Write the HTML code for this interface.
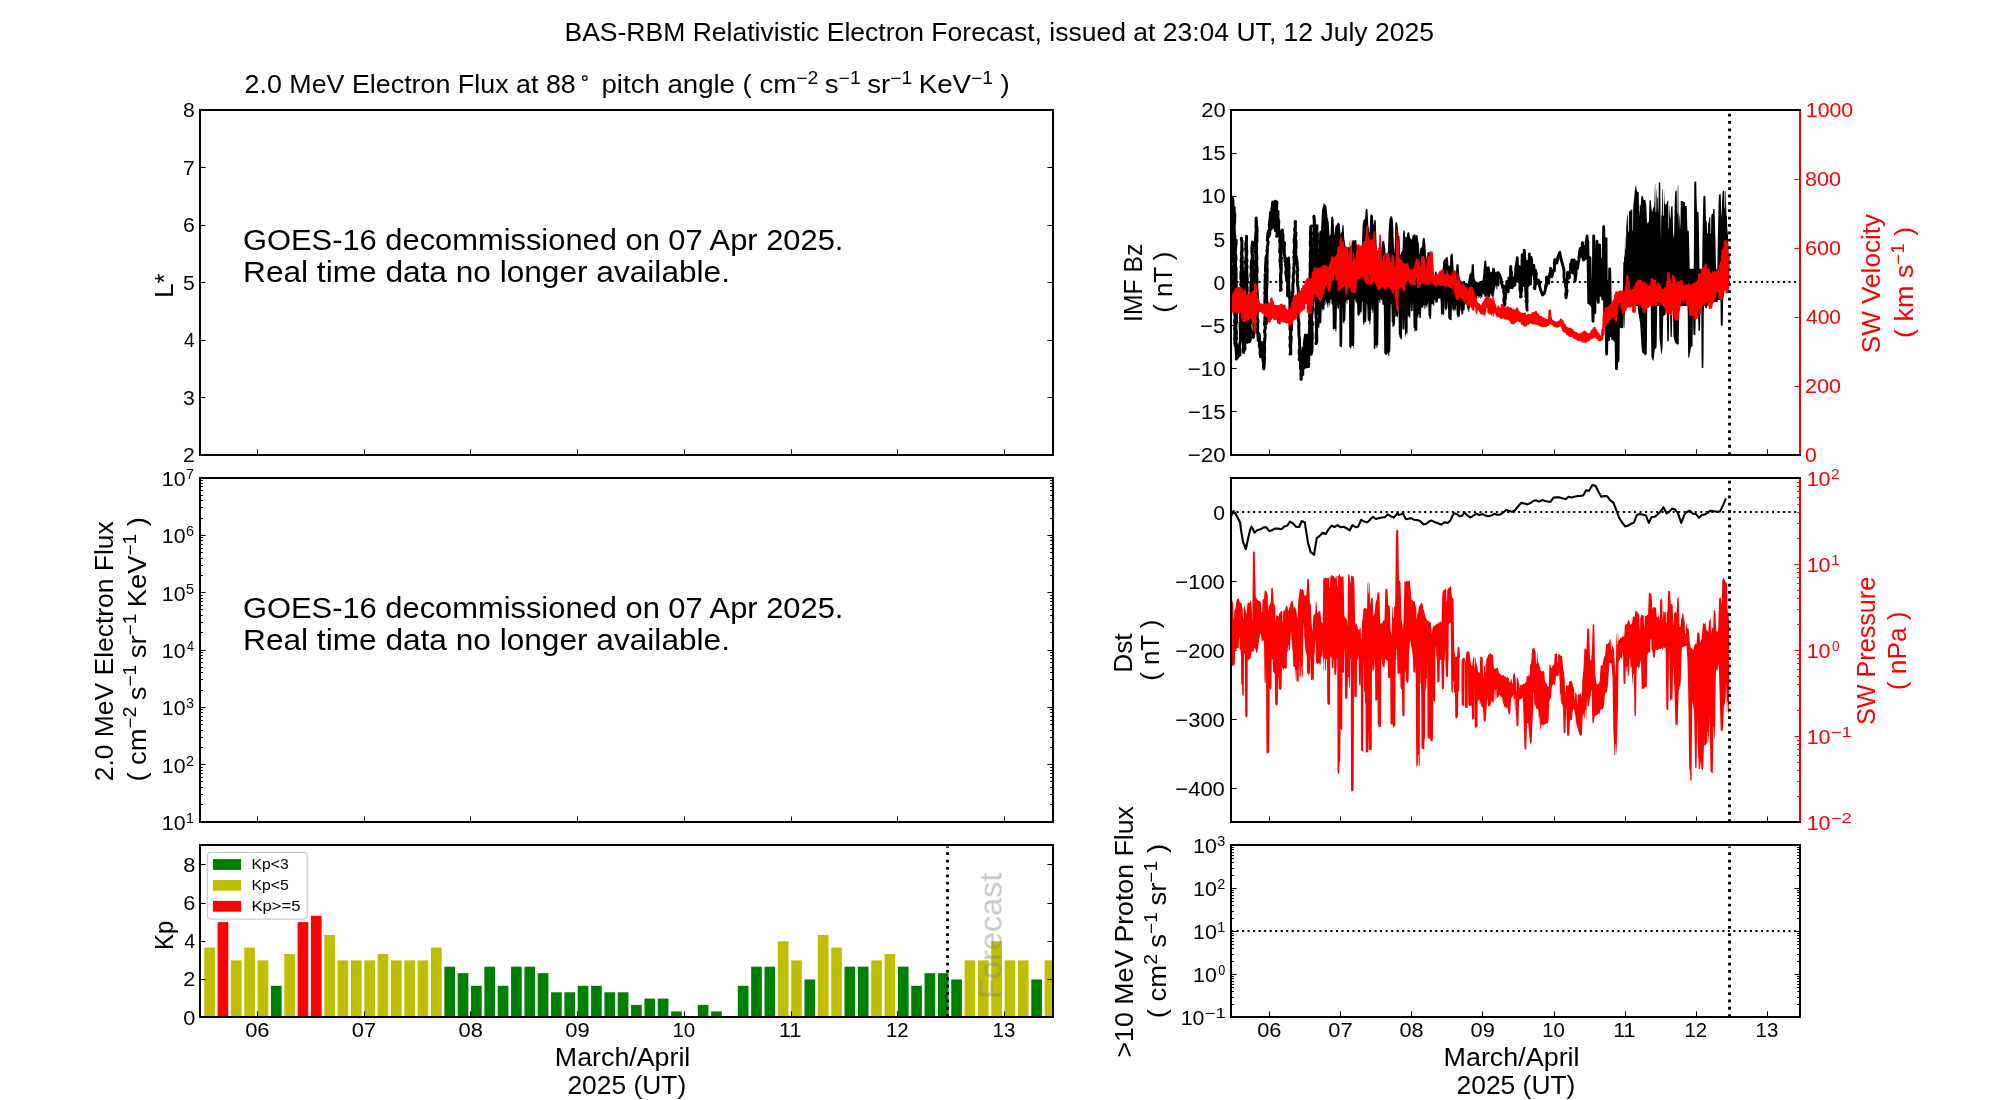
<!DOCTYPE html>
<html><head><meta charset="utf-8"><title>BAS-RBM Relativistic Electron Forecast</title>
<style>html,body{margin:0;padding:0;background:#fff}svg{display:block;font-family:"Liberation Sans", sans-serif}</style></head>
<body><svg width="2000" height="1100" viewBox="0 0 2000 1100">
<rect width="2000" height="1100" fill="#fff"/>
<circle cx="584.8" cy="78.0" r="2.25" fill="none" stroke="#000" stroke-width="1.25"/>
<line x1="1053.00" y1="110.00" x2="1053.00" y2="456.00" stroke="#000" stroke-width="2"/>
<path d="M1054,110 H200 V455 H1054" fill="none" stroke="#000" stroke-width="2" stroke-linejoin="miter"/>
<line x1="257.50" y1="455.00" x2="257.50" y2="449.44" stroke="#000" stroke-width="1.0"/>
<line x1="364.50" y1="455.00" x2="364.50" y2="449.44" stroke="#000" stroke-width="1.0"/>
<line x1="470.50" y1="455.00" x2="470.50" y2="449.44" stroke="#000" stroke-width="1.0"/>
<line x1="577.50" y1="455.00" x2="577.50" y2="449.44" stroke="#000" stroke-width="1.0"/>
<line x1="684.50" y1="455.00" x2="684.50" y2="449.44" stroke="#000" stroke-width="1.0"/>
<line x1="791.50" y1="455.00" x2="791.50" y2="449.44" stroke="#000" stroke-width="1.0"/>
<line x1="897.50" y1="455.00" x2="897.50" y2="449.44" stroke="#000" stroke-width="1.0"/>
<line x1="1004.50" y1="455.00" x2="1004.50" y2="449.44" stroke="#000" stroke-width="1.0"/>
<line x1="200.00" y1="167.50" x2="205.56" y2="167.50" stroke="#000" stroke-width="1.0"/>
<line x1="1053.00" y1="167.50" x2="1047.44" y2="167.50" stroke="#000" stroke-width="1.0"/>
<line x1="200.00" y1="225.50" x2="205.56" y2="225.50" stroke="#000" stroke-width="1.0"/>
<line x1="1053.00" y1="225.50" x2="1047.44" y2="225.50" stroke="#000" stroke-width="1.0"/>
<line x1="200.00" y1="282.50" x2="205.56" y2="282.50" stroke="#000" stroke-width="1.0"/>
<line x1="1053.00" y1="282.50" x2="1047.44" y2="282.50" stroke="#000" stroke-width="1.0"/>
<line x1="200.00" y1="340.50" x2="205.56" y2="340.50" stroke="#000" stroke-width="1.0"/>
<line x1="1053.00" y1="340.50" x2="1047.44" y2="340.50" stroke="#000" stroke-width="1.0"/>
<line x1="200.00" y1="397.50" x2="205.56" y2="397.50" stroke="#000" stroke-width="1.0"/>
<line x1="1053.00" y1="397.50" x2="1047.44" y2="397.50" stroke="#000" stroke-width="1.0"/>
<line x1="1053.00" y1="478.00" x2="1053.00" y2="823.00" stroke="#000" stroke-width="2"/>
<path d="M1054,478 H200 V822 H1054" fill="none" stroke="#000" stroke-width="2" stroke-linejoin="miter"/>
<line x1="257.50" y1="822.00" x2="257.50" y2="816.44" stroke="#000" stroke-width="1.0"/>
<line x1="364.50" y1="822.00" x2="364.50" y2="816.44" stroke="#000" stroke-width="1.0"/>
<line x1="470.50" y1="822.00" x2="470.50" y2="816.44" stroke="#000" stroke-width="1.0"/>
<line x1="577.50" y1="822.00" x2="577.50" y2="816.44" stroke="#000" stroke-width="1.0"/>
<line x1="684.50" y1="822.00" x2="684.50" y2="816.44" stroke="#000" stroke-width="1.0"/>
<line x1="791.50" y1="822.00" x2="791.50" y2="816.44" stroke="#000" stroke-width="1.0"/>
<line x1="897.50" y1="822.00" x2="897.50" y2="816.44" stroke="#000" stroke-width="1.0"/>
<line x1="1004.50" y1="822.00" x2="1004.50" y2="816.44" stroke="#000" stroke-width="1.0"/>
<line x1="200.00" y1="804.50" x2="202.90" y2="804.50" stroke="#000" stroke-width="1.0"/>
<line x1="1053.00" y1="804.50" x2="1050.10" y2="804.50" stroke="#000" stroke-width="1.0"/>
<line x1="200.00" y1="794.50" x2="202.90" y2="794.50" stroke="#000" stroke-width="1.0"/>
<line x1="1053.00" y1="794.50" x2="1050.10" y2="794.50" stroke="#000" stroke-width="1.0"/>
<line x1="200.00" y1="787.50" x2="202.90" y2="787.50" stroke="#000" stroke-width="1.0"/>
<line x1="1053.00" y1="787.50" x2="1050.10" y2="787.50" stroke="#000" stroke-width="1.0"/>
<line x1="200.00" y1="781.50" x2="202.90" y2="781.50" stroke="#000" stroke-width="1.0"/>
<line x1="1053.00" y1="781.50" x2="1050.10" y2="781.50" stroke="#000" stroke-width="1.0"/>
<line x1="200.00" y1="777.50" x2="202.90" y2="777.50" stroke="#000" stroke-width="1.0"/>
<line x1="1053.00" y1="777.50" x2="1050.10" y2="777.50" stroke="#000" stroke-width="1.0"/>
<line x1="200.00" y1="773.50" x2="202.90" y2="773.50" stroke="#000" stroke-width="1.0"/>
<line x1="1053.00" y1="773.50" x2="1050.10" y2="773.50" stroke="#000" stroke-width="1.0"/>
<line x1="200.00" y1="770.50" x2="202.90" y2="770.50" stroke="#000" stroke-width="1.0"/>
<line x1="1053.00" y1="770.50" x2="1050.10" y2="770.50" stroke="#000" stroke-width="1.0"/>
<line x1="200.00" y1="767.50" x2="202.90" y2="767.50" stroke="#000" stroke-width="1.0"/>
<line x1="1053.00" y1="767.50" x2="1050.10" y2="767.50" stroke="#000" stroke-width="1.0"/>
<line x1="200.00" y1="764.50" x2="205.56" y2="764.50" stroke="#000" stroke-width="1.0"/>
<line x1="1053.00" y1="764.50" x2="1047.44" y2="764.50" stroke="#000" stroke-width="1.0"/>
<line x1="200.00" y1="747.50" x2="202.90" y2="747.50" stroke="#000" stroke-width="1.0"/>
<line x1="1053.00" y1="747.50" x2="1050.10" y2="747.50" stroke="#000" stroke-width="1.0"/>
<line x1="200.00" y1="737.50" x2="202.90" y2="737.50" stroke="#000" stroke-width="1.0"/>
<line x1="1053.00" y1="737.50" x2="1050.10" y2="737.50" stroke="#000" stroke-width="1.0"/>
<line x1="200.00" y1="730.50" x2="202.90" y2="730.50" stroke="#000" stroke-width="1.0"/>
<line x1="1053.00" y1="730.50" x2="1050.10" y2="730.50" stroke="#000" stroke-width="1.0"/>
<line x1="200.00" y1="724.50" x2="202.90" y2="724.50" stroke="#000" stroke-width="1.0"/>
<line x1="1053.00" y1="724.50" x2="1050.10" y2="724.50" stroke="#000" stroke-width="1.0"/>
<line x1="200.00" y1="720.50" x2="202.90" y2="720.50" stroke="#000" stroke-width="1.0"/>
<line x1="1053.00" y1="720.50" x2="1050.10" y2="720.50" stroke="#000" stroke-width="1.0"/>
<line x1="200.00" y1="716.50" x2="202.90" y2="716.50" stroke="#000" stroke-width="1.0"/>
<line x1="1053.00" y1="716.50" x2="1050.10" y2="716.50" stroke="#000" stroke-width="1.0"/>
<line x1="200.00" y1="712.50" x2="202.90" y2="712.50" stroke="#000" stroke-width="1.0"/>
<line x1="1053.00" y1="712.50" x2="1050.10" y2="712.50" stroke="#000" stroke-width="1.0"/>
<line x1="200.00" y1="709.50" x2="202.90" y2="709.50" stroke="#000" stroke-width="1.0"/>
<line x1="1053.00" y1="709.50" x2="1050.10" y2="709.50" stroke="#000" stroke-width="1.0"/>
<line x1="200.00" y1="707.50" x2="205.56" y2="707.50" stroke="#000" stroke-width="1.0"/>
<line x1="1053.00" y1="707.50" x2="1047.44" y2="707.50" stroke="#000" stroke-width="1.0"/>
<line x1="200.00" y1="690.50" x2="202.90" y2="690.50" stroke="#000" stroke-width="1.0"/>
<line x1="1053.00" y1="690.50" x2="1050.10" y2="690.50" stroke="#000" stroke-width="1.0"/>
<line x1="200.00" y1="679.50" x2="202.90" y2="679.50" stroke="#000" stroke-width="1.0"/>
<line x1="1053.00" y1="679.50" x2="1050.10" y2="679.50" stroke="#000" stroke-width="1.0"/>
<line x1="200.00" y1="672.50" x2="202.90" y2="672.50" stroke="#000" stroke-width="1.0"/>
<line x1="1053.00" y1="672.50" x2="1050.10" y2="672.50" stroke="#000" stroke-width="1.0"/>
<line x1="200.00" y1="667.50" x2="202.90" y2="667.50" stroke="#000" stroke-width="1.0"/>
<line x1="1053.00" y1="667.50" x2="1050.10" y2="667.50" stroke="#000" stroke-width="1.0"/>
<line x1="200.00" y1="662.50" x2="202.90" y2="662.50" stroke="#000" stroke-width="1.0"/>
<line x1="1053.00" y1="662.50" x2="1050.10" y2="662.50" stroke="#000" stroke-width="1.0"/>
<line x1="200.00" y1="658.50" x2="202.90" y2="658.50" stroke="#000" stroke-width="1.0"/>
<line x1="1053.00" y1="658.50" x2="1050.10" y2="658.50" stroke="#000" stroke-width="1.0"/>
<line x1="200.00" y1="655.50" x2="202.90" y2="655.50" stroke="#000" stroke-width="1.0"/>
<line x1="1053.00" y1="655.50" x2="1050.10" y2="655.50" stroke="#000" stroke-width="1.0"/>
<line x1="200.00" y1="652.50" x2="202.90" y2="652.50" stroke="#000" stroke-width="1.0"/>
<line x1="1053.00" y1="652.50" x2="1050.10" y2="652.50" stroke="#000" stroke-width="1.0"/>
<line x1="200.00" y1="650.50" x2="205.56" y2="650.50" stroke="#000" stroke-width="1.0"/>
<line x1="1053.00" y1="650.50" x2="1047.44" y2="650.50" stroke="#000" stroke-width="1.0"/>
<line x1="200.00" y1="632.50" x2="202.90" y2="632.50" stroke="#000" stroke-width="1.0"/>
<line x1="1053.00" y1="632.50" x2="1050.10" y2="632.50" stroke="#000" stroke-width="1.0"/>
<line x1="200.00" y1="622.50" x2="202.90" y2="622.50" stroke="#000" stroke-width="1.0"/>
<line x1="1053.00" y1="622.50" x2="1050.10" y2="622.50" stroke="#000" stroke-width="1.0"/>
<line x1="200.00" y1="615.50" x2="202.90" y2="615.50" stroke="#000" stroke-width="1.0"/>
<line x1="1053.00" y1="615.50" x2="1050.10" y2="615.50" stroke="#000" stroke-width="1.0"/>
<line x1="200.00" y1="609.50" x2="202.90" y2="609.50" stroke="#000" stroke-width="1.0"/>
<line x1="1053.00" y1="609.50" x2="1050.10" y2="609.50" stroke="#000" stroke-width="1.0"/>
<line x1="200.00" y1="605.50" x2="202.90" y2="605.50" stroke="#000" stroke-width="1.0"/>
<line x1="1053.00" y1="605.50" x2="1050.10" y2="605.50" stroke="#000" stroke-width="1.0"/>
<line x1="200.00" y1="601.50" x2="202.90" y2="601.50" stroke="#000" stroke-width="1.0"/>
<line x1="1053.00" y1="601.50" x2="1050.10" y2="601.50" stroke="#000" stroke-width="1.0"/>
<line x1="200.00" y1="598.50" x2="202.90" y2="598.50" stroke="#000" stroke-width="1.0"/>
<line x1="1053.00" y1="598.50" x2="1050.10" y2="598.50" stroke="#000" stroke-width="1.0"/>
<line x1="200.00" y1="595.50" x2="202.90" y2="595.50" stroke="#000" stroke-width="1.0"/>
<line x1="1053.00" y1="595.50" x2="1050.10" y2="595.50" stroke="#000" stroke-width="1.0"/>
<line x1="200.00" y1="592.50" x2="205.56" y2="592.50" stroke="#000" stroke-width="1.0"/>
<line x1="1053.00" y1="592.50" x2="1047.44" y2="592.50" stroke="#000" stroke-width="1.0"/>
<line x1="200.00" y1="575.50" x2="202.90" y2="575.50" stroke="#000" stroke-width="1.0"/>
<line x1="1053.00" y1="575.50" x2="1050.10" y2="575.50" stroke="#000" stroke-width="1.0"/>
<line x1="200.00" y1="565.50" x2="202.90" y2="565.50" stroke="#000" stroke-width="1.0"/>
<line x1="1053.00" y1="565.50" x2="1050.10" y2="565.50" stroke="#000" stroke-width="1.0"/>
<line x1="200.00" y1="558.50" x2="202.90" y2="558.50" stroke="#000" stroke-width="1.0"/>
<line x1="1053.00" y1="558.50" x2="1050.10" y2="558.50" stroke="#000" stroke-width="1.0"/>
<line x1="200.00" y1="552.50" x2="202.90" y2="552.50" stroke="#000" stroke-width="1.0"/>
<line x1="1053.00" y1="552.50" x2="1050.10" y2="552.50" stroke="#000" stroke-width="1.0"/>
<line x1="200.00" y1="548.50" x2="202.90" y2="548.50" stroke="#000" stroke-width="1.0"/>
<line x1="1053.00" y1="548.50" x2="1050.10" y2="548.50" stroke="#000" stroke-width="1.0"/>
<line x1="200.00" y1="544.50" x2="202.90" y2="544.50" stroke="#000" stroke-width="1.0"/>
<line x1="1053.00" y1="544.50" x2="1050.10" y2="544.50" stroke="#000" stroke-width="1.0"/>
<line x1="200.00" y1="540.50" x2="202.90" y2="540.50" stroke="#000" stroke-width="1.0"/>
<line x1="1053.00" y1="540.50" x2="1050.10" y2="540.50" stroke="#000" stroke-width="1.0"/>
<line x1="200.00" y1="537.50" x2="202.90" y2="537.50" stroke="#000" stroke-width="1.0"/>
<line x1="1053.00" y1="537.50" x2="1050.10" y2="537.50" stroke="#000" stroke-width="1.0"/>
<line x1="200.00" y1="535.50" x2="205.56" y2="535.50" stroke="#000" stroke-width="1.0"/>
<line x1="1053.00" y1="535.50" x2="1047.44" y2="535.50" stroke="#000" stroke-width="1.0"/>
<line x1="200.00" y1="518.50" x2="202.90" y2="518.50" stroke="#000" stroke-width="1.0"/>
<line x1="1053.00" y1="518.50" x2="1050.10" y2="518.50" stroke="#000" stroke-width="1.0"/>
<line x1="200.00" y1="507.50" x2="202.90" y2="507.50" stroke="#000" stroke-width="1.0"/>
<line x1="1053.00" y1="507.50" x2="1050.10" y2="507.50" stroke="#000" stroke-width="1.0"/>
<line x1="200.00" y1="500.50" x2="202.90" y2="500.50" stroke="#000" stroke-width="1.0"/>
<line x1="1053.00" y1="500.50" x2="1050.10" y2="500.50" stroke="#000" stroke-width="1.0"/>
<line x1="200.00" y1="495.50" x2="202.90" y2="495.50" stroke="#000" stroke-width="1.0"/>
<line x1="1053.00" y1="495.50" x2="1050.10" y2="495.50" stroke="#000" stroke-width="1.0"/>
<line x1="200.00" y1="490.50" x2="202.90" y2="490.50" stroke="#000" stroke-width="1.0"/>
<line x1="1053.00" y1="490.50" x2="1050.10" y2="490.50" stroke="#000" stroke-width="1.0"/>
<line x1="200.00" y1="486.50" x2="202.90" y2="486.50" stroke="#000" stroke-width="1.0"/>
<line x1="1053.00" y1="486.50" x2="1050.10" y2="486.50" stroke="#000" stroke-width="1.0"/>
<line x1="200.00" y1="483.50" x2="202.90" y2="483.50" stroke="#000" stroke-width="1.0"/>
<line x1="1053.00" y1="483.50" x2="1050.10" y2="483.50" stroke="#000" stroke-width="1.0"/>
<line x1="200.00" y1="480.50" x2="202.90" y2="480.50" stroke="#000" stroke-width="1.0"/>
<line x1="1053.00" y1="480.50" x2="1050.10" y2="480.50" stroke="#000" stroke-width="1.0"/>
<clipPath id="ck"><rect x="200" y="845" width="853" height="172"/></clipPath><g clip-path="url(#ck)">
<rect x="204.25" y="947.57" width="10.67" height="70.13" fill="#bfbf00"/>
<rect x="217.59" y="922.15" width="10.67" height="95.55" fill="#ff0000"/>
<rect x="230.93" y="960.37" width="10.67" height="57.33" fill="#bfbf00"/>
<rect x="244.27" y="947.57" width="10.67" height="70.13" fill="#bfbf00"/>
<rect x="257.61" y="960.37" width="10.67" height="57.33" fill="#bfbf00"/>
<rect x="270.94" y="985.79" width="10.67" height="31.91" fill="#008000"/>
<rect x="284.28" y="954.06" width="10.67" height="63.64" fill="#bfbf00"/>
<rect x="297.62" y="922.15" width="10.67" height="95.55" fill="#ff0000"/>
<rect x="310.96" y="915.84" width="10.67" height="101.86" fill="#ff0000"/>
<rect x="324.30" y="934.95" width="10.67" height="82.75" fill="#bfbf00"/>
<rect x="337.64" y="960.37" width="10.67" height="57.33" fill="#bfbf00"/>
<rect x="350.98" y="960.37" width="10.67" height="57.33" fill="#bfbf00"/>
<rect x="364.32" y="960.37" width="10.67" height="57.33" fill="#bfbf00"/>
<rect x="377.66" y="954.06" width="10.67" height="63.64" fill="#bfbf00"/>
<rect x="391.00" y="960.37" width="10.67" height="57.33" fill="#bfbf00"/>
<rect x="404.34" y="960.37" width="10.67" height="57.33" fill="#bfbf00"/>
<rect x="417.67" y="960.37" width="10.67" height="57.33" fill="#bfbf00"/>
<rect x="431.01" y="947.57" width="10.67" height="70.13" fill="#bfbf00"/>
<rect x="444.35" y="966.68" width="10.67" height="51.02" fill="#008000"/>
<rect x="457.69" y="973.17" width="10.67" height="44.53" fill="#008000"/>
<rect x="471.03" y="985.79" width="10.67" height="31.91" fill="#008000"/>
<rect x="484.37" y="966.68" width="10.67" height="51.02" fill="#008000"/>
<rect x="497.71" y="985.79" width="10.67" height="31.91" fill="#008000"/>
<rect x="511.05" y="966.68" width="10.67" height="51.02" fill="#008000"/>
<rect x="524.39" y="966.68" width="10.67" height="51.02" fill="#008000"/>
<rect x="537.73" y="973.17" width="10.67" height="44.53" fill="#008000"/>
<rect x="551.06" y="992.28" width="10.67" height="25.42" fill="#008000"/>
<rect x="564.40" y="992.28" width="10.67" height="25.42" fill="#008000"/>
<rect x="577.74" y="985.79" width="10.67" height="31.91" fill="#008000"/>
<rect x="591.08" y="985.79" width="10.67" height="31.91" fill="#008000"/>
<rect x="604.42" y="992.28" width="10.67" height="25.42" fill="#008000"/>
<rect x="617.76" y="992.28" width="10.67" height="25.42" fill="#008000"/>
<rect x="631.10" y="1004.90" width="10.67" height="12.80" fill="#008000"/>
<rect x="644.44" y="998.59" width="10.67" height="19.11" fill="#008000"/>
<rect x="657.78" y="998.59" width="10.67" height="19.11" fill="#008000"/>
<rect x="671.12" y="1011.39" width="10.67" height="6.31" fill="#008000"/>
<rect x="697.79" y="1004.90" width="10.67" height="12.80" fill="#008000"/>
<rect x="711.13" y="1011.39" width="10.67" height="6.31" fill="#008000"/>
<rect x="737.81" y="985.79" width="10.67" height="31.91" fill="#008000"/>
<rect x="751.15" y="966.68" width="10.67" height="51.02" fill="#008000"/>
<rect x="764.49" y="966.68" width="10.67" height="51.02" fill="#008000"/>
<rect x="777.83" y="941.26" width="10.67" height="76.44" fill="#bfbf00"/>
<rect x="791.17" y="960.37" width="10.67" height="57.33" fill="#bfbf00"/>
<rect x="804.50" y="979.48" width="10.67" height="38.22" fill="#008000"/>
<rect x="817.84" y="934.95" width="10.67" height="82.75" fill="#bfbf00"/>
<rect x="831.18" y="947.57" width="10.67" height="70.13" fill="#bfbf00"/>
<rect x="844.52" y="966.68" width="10.67" height="51.02" fill="#008000"/>
<rect x="857.86" y="966.68" width="10.67" height="51.02" fill="#008000"/>
<rect x="871.20" y="960.37" width="10.67" height="57.33" fill="#bfbf00"/>
<rect x="884.54" y="954.06" width="10.67" height="63.64" fill="#bfbf00"/>
<rect x="897.88" y="966.68" width="10.67" height="51.02" fill="#008000"/>
<rect x="911.22" y="985.79" width="10.67" height="31.91" fill="#008000"/>
<rect x="924.56" y="973.17" width="10.67" height="44.53" fill="#008000"/>
<rect x="937.89" y="973.17" width="10.67" height="44.53" fill="#008000"/>
<rect x="951.23" y="979.48" width="10.67" height="38.22" fill="#008000"/>
<rect x="964.57" y="960.37" width="10.67" height="57.33" fill="#bfbf00"/>
<rect x="977.91" y="960.37" width="10.67" height="57.33" fill="#bfbf00"/>
<rect x="991.25" y="941.26" width="10.67" height="76.44" fill="#bfbf00"/>
<rect x="1004.59" y="960.37" width="10.67" height="57.33" fill="#bfbf00"/>
<rect x="1017.93" y="960.37" width="10.67" height="57.33" fill="#bfbf00"/>
<rect x="1031.27" y="979.48" width="10.67" height="38.22" fill="#008000"/>
<rect x="1044.61" y="960.37" width="10.67" height="57.33" fill="#bfbf00"/>
</g>
<line x1="947.51" y1="1017.00" x2="947.51" y2="846.50" stroke="#000" stroke-width="2.9" stroke-dasharray="2.78 4.58" stroke-dashoffset="0"/>
<rect x="207.4" y="852.4" width="99.8" height="66.7" rx="3.5" ry="3.5" fill="#fff" fill-opacity="0.8" stroke="#ccc" stroke-width="1.2"/>
<rect x="212.9" y="859.10" width="28.2" height="10.8" fill="#008000"/>
<rect x="212.9" y="880.00" width="28.2" height="10.8" fill="#bfbf00"/>
<rect x="212.9" y="900.90" width="28.2" height="10.8" fill="#ff0000"/>
<line x1="1053.00" y1="845.00" x2="1053.00" y2="1018.00" stroke="#000" stroke-width="2"/>
<path d="M1054,845 H200 V1017 H1054" fill="none" stroke="#000" stroke-width="2" stroke-linejoin="miter"/>
<line x1="257.50" y1="1017.00" x2="257.50" y2="1011.44" stroke="#000" stroke-width="1.0"/>
<line x1="364.50" y1="1017.00" x2="364.50" y2="1011.44" stroke="#000" stroke-width="1.0"/>
<line x1="470.50" y1="1017.00" x2="470.50" y2="1011.44" stroke="#000" stroke-width="1.0"/>
<line x1="577.50" y1="1017.00" x2="577.50" y2="1011.44" stroke="#000" stroke-width="1.0"/>
<line x1="684.50" y1="1017.00" x2="684.50" y2="1011.44" stroke="#000" stroke-width="1.0"/>
<line x1="791.50" y1="1017.00" x2="791.50" y2="1011.44" stroke="#000" stroke-width="1.0"/>
<line x1="897.50" y1="1017.00" x2="897.50" y2="1011.44" stroke="#000" stroke-width="1.0"/>
<line x1="1004.50" y1="1017.00" x2="1004.50" y2="1011.44" stroke="#000" stroke-width="1.0"/>
<line x1="200.00" y1="979.50" x2="205.56" y2="979.50" stroke="#000" stroke-width="1.0"/>
<line x1="1053.00" y1="979.50" x2="1047.44" y2="979.50" stroke="#000" stroke-width="1.0"/>
<line x1="200.00" y1="941.50" x2="205.56" y2="941.50" stroke="#000" stroke-width="1.0"/>
<line x1="1053.00" y1="941.50" x2="1047.44" y2="941.50" stroke="#000" stroke-width="1.0"/>
<line x1="200.00" y1="903.50" x2="205.56" y2="903.50" stroke="#000" stroke-width="1.0"/>
<line x1="1053.00" y1="903.50" x2="1047.44" y2="903.50" stroke="#000" stroke-width="1.0"/>
<line x1="200.00" y1="864.50" x2="205.56" y2="864.50" stroke="#000" stroke-width="1.0"/>
<line x1="1053.00" y1="864.50" x2="1047.44" y2="864.50" stroke="#000" stroke-width="1.0"/>
<clipPath id="c1"><rect x="1231" y="110" width="499" height="345"/></clipPath>
<path d="M1231.6,197.7 L1231.6,197.1 L1231.6,201.6 L1231.7,204.5 L1231.7,207.4 L1231.9,210.6 L1231.6,212.4 L1231.4,216.4 L1231.4,215.9 L1232.3,222.8 L1232.0,222.7 L1231.5,227.6 L1231.5,228.4 L1231.6,230.8 L1231.9,233.7 L1231.9,236.9 L1232.1,236.9 L1232.0,240.1 L1231.8,242.1 L1232.5,249.0 L1232.3,248.6 L1231.9,251.3 L1231.7,255.0 L1232.4,253.9 L1232.0,260.5 L1232.6,261.4 L1231.9,258.7 L1232.7,252.1 L1232.2,254.4 L1231.9,249.3 L1232.1,246.6 L1232.0,244.0 L1232.7,246.7 L1232.0,240.8 L1232.0,238.9 L1232.8,236.4 L1232.5,234.8 L1232.2,230.4 L1232.7,227.1 L1232.2,224.4 L1232.4,223.2 L1233.1,220.6 L1233.1,216.4 L1232.4,212.7 L1232.9,214.2 L1232.4,210.9 L1232.6,207.2 L1233.1,204.1 L1232.5,203.2 L1232.5,198.6 L1233.0,201.5 L1232.8,201.0 L1232.9,208.3 L1233.1,210.4 L1232.7,211.6 L1233.4,215.3 L1232.7,216.3 L1233.3,220.8 L1233.5,222.1 L1233.5,223.8 L1232.7,226.6 L1232.7,231.2 L1233.4,232.4 L1232.9,236.1 L1233.0,235.9 L1232.9,240.2 L1232.9,242.3 L1233.3,246.6 L1233.0,246.3 L1233.7,250.5 L1233.1,253.3 L1233.3,256.4 L1233.2,258.4 L1233.4,261.6 L1233.8,264.2 L1233.9,264.5 L1233.5,266.4 L1233.1,271.1 L1233.8,273.4 L1233.7,276.2 L1233.6,278.4 L1233.5,280.8 L1234.0,282.2 L1233.1,283.7 L1233.9,287.9 L1233.8,290.4 L1234.0,291.2 L1233.5,295.0 L1234.0,295.9 L1233.6,302.1 L1233.7,295.9 L1233.8,294.8 L1233.8,295.1 L1233.3,288.2 L1234.1,285.0 L1234.0,284.3 L1233.9,285.2 L1233.7,281.4 L1234.1,278.0 L1233.4,274.6 L1233.6,272.4 L1234.1,268.9 L1234.3,268.4 L1233.7,267.1 L1234.1,263.4 L1233.6,262.4 L1234.1,261.1 L1233.9,256.8 L1234.2,252.3 L1233.7,248.2 L1234.5,249.3 L1234.4,244.1 L1233.9,244.4 L1233.7,237.6 L1234.5,238.0 L1234.3,236.6 L1233.8,232.5 L1234.1,230.2 L1234.1,228.9 L1234.3,224.0 L1234.6,222.8 L1234.7,219.7 L1233.8,217.9 L1234.7,217.4 L1234.4,213.2 L1234.1,210.1 L1234.0,207.3 L1234.3,207.8 L1234.1,207.9 L1234.0,212.0 L1234.3,213.1 L1234.5,213.5 L1234.9,215.2 L1234.6,220.5 L1234.1,224.1 L1234.0,222.7 L1234.1,227.9 L1234.2,228.7 L1234.5,234.4 L1234.6,235.1 L1234.8,236.0 L1234.9,243.0 L1234.7,244.3 L1234.1,243.0 L1234.9,248.1 L1234.4,247.2 L1234.8,251.2 L1235.0,252.9 L1234.3,258.0 L1234.8,260.9 L1234.8,260.5 L1234.3,268.4 L1235.1,265.0 L1234.7,270.3 L1235.0,271.2 L1235.0,274.6 L1234.6,278.0 L1234.7,280.2 L1234.2,280.8 L1235.0,287.5 L1234.4,288.6 L1234.5,290.2 L1234.4,291.7 L1234.7,294.5 L1234.9,294.7 L1235.2,296.3 L1234.3,302.7 L1234.5,303.8 L1235.0,307.3 L1234.9,307.1 L1234.8,312.1 L1234.6,312.9 L1235.2,319.5 L1234.5,322.3 L1234.8,319.3 L1234.9,325.6 L1234.8,329.3 L1235.0,333.9 L1234.9,333.2 L1234.8,335.6 L1234.9,335.7 L1235.1,341.7 L1234.8,343.3 L1235.4,346.1 L1234.9,341.9 L1234.6,337.5 L1235.4,338.6 L1235.0,334.6 L1235.1,333.3 L1235.4,331.7 L1234.6,329.3 L1234.7,325.2 L1234.9,324.7 L1234.9,319.4 L1235.3,316.9 L1234.7,313.7 L1234.8,312.3 L1235.2,308.5 L1235.1,307.9 L1235.2,305.4 L1235.3,303.2 L1235.4,296.9 L1235.3,296.8 L1235.6,295.1 L1235.6,294.7 L1235.7,289.2 L1235.7,288.4 L1235.0,287.9 L1235.0,282.2 L1235.1,279.5 L1235.0,276.1 L1235.7,272.4 L1235.0,273.4 L1235.3,269.6 L1235.1,266.9 L1235.6,268.0 L1235.1,260.1 L1235.5,259.7 L1235.7,255.4 L1235.2,255.3 L1235.1,252.4 L1235.6,247.7 L1235.2,246.9 L1235.3,245.4 L1236.1,244.8 L1236.1,240.0 L1236.1,242.4 L1235.6,244.7 L1235.6,245.8 L1235.7,247.8 L1235.2,253.0 L1235.9,255.2 L1235.7,256.4 L1236.0,258.8 L1235.4,262.7 L1235.8,267.8 L1236.1,267.5 L1236.0,271.1 L1235.7,270.6 L1236.0,270.5 L1236.2,277.1 L1235.6,281.9 L1236.2,281.0 L1236.2,282.2 L1236.3,289.1 L1236.1,290.1 L1235.9,289.8 L1236.2,296.1 L1236.0,298.0 L1235.5,298.6 L1236.1,304.1 L1235.8,307.0 L1235.9,306.7 L1236.2,308.3 L1236.0,311.7 L1236.6,313.5 L1236.4,315.7 L1236.6,322.1 L1236.4,322.8 L1235.9,324.6 L1235.9,327.8 L1236.1,331.0 L1236.6,333.2 L1236.3,331.2 L1236.3,337.4 L1236.8,338.4 L1235.8,340.6 L1236.4,345.2 L1236.7,347.2 L1236.0,349.3 L1236.3,352.9 L1236.5,358.6 L1236.3,359.0 L1237.5,357.5 L1237.5,355.3 L1238.2,352.5 L1238.5,350.7 L1238.3,349.8 L1238.5,352.4 L1238.9,356.0 L1239.8,351.9 L1239.8,355.1 L1240.2,349.7 L1239.4,347.0 L1240.0,342.3 L1240.5,340.7 L1240.6,339.9 L1240.4,331.4 L1240.6,333.7 L1240.4,331.9 L1240.3,329.1 L1240.1,326.9 L1240.1,323.2 L1240.5,319.2 L1240.4,316.0 L1240.7,312.6 L1240.8,313.5 L1241.3,312.0 L1240.5,306.4 L1240.5,306.6 L1241.0,300.4 L1240.8,299.1 L1241.0,299.1 L1241.1,292.6 L1240.7,289.8 L1240.8,292.4 L1241.5,286.1 L1240.7,285.1 L1241.1,281.9 L1241.3,280.4 L1240.8,277.4 L1240.9,272.9 L1241.5,269.4 L1241.2,267.6 L1241.2,266.1 L1241.7,263.7 L1241.1,260.4 L1241.8,256.5 L1241.3,253.9 L1241.5,253.0 L1241.5,253.3 L1241.8,249.3 L1241.8,245.3 L1242.0,244.3 L1241.6,239.5 L1241.4,238.2 L1241.4,239.9 L1242.0,240.7 L1241.8,245.8 L1242.3,249.1 L1242.2,251.3 L1241.7,252.6 L1242.3,258.3 L1242.0,259.5 L1242.5,262.4 L1242.1,265.6 L1242.4,268.1 L1242.8,272.2 L1242.3,270.5 L1242.8,273.9 L1242.4,278.2 L1243.0,280.4 L1242.4,281.3 L1242.5,283.6 L1242.5,288.2 L1242.3,287.1 L1242.7,291.0 L1243.0,293.7 L1243.0,296.7 L1243.1,299.5 L1242.8,302.4 L1242.8,301.0 L1243.0,305.4 L1243.2,311.3 L1243.2,312.8 L1242.5,316.7 L1243.3,318.2 L1242.5,319.0 L1243.2,321.4 L1243.2,324.6 L1243.3,328.1 L1243.1,329.7 L1242.9,330.5 L1243.6,333.7 L1243.2,335.5 L1243.4,338.7 L1243.1,338.8 L1243.5,343.1 L1243.6,344.5 L1243.6,352.4 L1243.4,344.6 L1243.4,343.9 L1243.3,339.4 L1243.3,341.0 L1243.9,339.0 L1243.3,335.0 L1243.4,332.9 L1243.3,330.0 L1243.3,326.9 L1243.2,322.9 L1243.3,319.9 L1243.2,317.5 L1244.1,317.4 L1243.2,315.2 L1243.4,312.5 L1243.5,309.0 L1243.5,304.9 L1243.5,304.2 L1244.1,302.8 L1243.7,296.7 L1243.9,296.0 L1243.7,296.9 L1243.8,289.7 L1244.0,291.0 L1243.7,286.4 L1243.6,291.9 L1243.9,291.1 L1244.1,293.3 L1244.6,297.0 L1244.3,299.7 L1244.2,302.5 L1244.1,305.5 L1244.3,305.2 L1243.9,310.7 L1244.1,313.7 L1244.7,313.0 L1244.9,317.5 L1244.2,319.5 L1244.7,322.7 L1244.0,326.7 L1244.8,325.4 L1244.1,330.3 L1244.1,335.5 L1244.6,332.1 L1244.7,339.1 L1245.0,340.0 L1244.6,346.0 L1245.1,348.4 L1244.4,350.2 L1244.8,345.3 L1245.1,343.5 L1244.6,340.9 L1244.6,339.2 L1244.8,335.8 L1245.1,332.2 L1244.5,329.8 L1245.4,329.6 L1245.3,325.9 L1244.9,323.4 L1245.2,321.2 L1245.0,320.5 L1244.6,318.7 L1244.8,313.4 L1245.2,310.7 L1245.2,309.9 L1245.0,305.2 L1245.3,304.8 L1245.0,301.7 L1245.1,300.8 L1245.7,293.8 L1245.1,292.5 L1245.6,291.6 L1244.9,288.9 L1245.5,285.7 L1245.3,282.5 L1245.7,280.4 L1245.2,278.1 L1245.1,277.0 L1245.1,274.4 L1246.0,269.1 L1245.7,268.9 L1245.9,266.1 L1245.5,261.5 L1245.7,261.8 L1246.0,257.8 L1246.3,255.6 L1246.0,250.3 L1245.5,249.2 L1246.1,248.4 L1245.6,243.4 L1246.4,243.3 L1246.5,238.8 L1246.4,236.3 L1246.6,238.0 L1246.3,241.4 L1245.9,243.3 L1246.3,242.5 L1246.6,249.8 L1246.8,251.0 L1246.6,254.5 L1246.2,257.4 L1246.6,258.9 L1247.0,260.6 L1246.4,263.6 L1247.1,267.0 L1246.3,270.9 L1246.8,270.8 L1246.8,274.0 L1247.3,280.1 L1247.1,278.7 L1247.2,281.4 L1246.7,285.2 L1247.0,286.1 L1247.3,290.1 L1246.6,293.7 L1246.5,296.4 L1247.5,301.1 L1247.2,298.8 L1247.3,304.3 L1247.0,302.5 L1246.7,305.8 L1246.9,309.1 L1247.1,312.6 L1247.3,315.8 L1247.1,319.2 L1247.4,319.1 L1246.9,324.6 L1247.6,327.6 L1247.5,330.8 L1247.4,328.6 L1247.7,334.0 L1247.8,335.5 L1248.1,336.3 L1247.9,341.6 L1247.6,342.0 L1247.7,342.1 L1247.8,336.9 L1247.7,336.4 L1247.4,332.0 L1248.1,332.1 L1248.0,326.1 L1248.2,324.2 L1247.6,324.2 L1247.7,318.0 L1248.0,317.6 L1247.7,313.8 L1247.9,310.1 L1248.0,308.3 L1247.8,307.3 L1248.7,306.1 L1248.7,300.9 L1248.4,304.5 L1248.8,305.8 L1248.6,310.1 L1248.9,311.9 L1248.4,311.4 L1248.3,316.9 L1248.6,320.0 L1248.5,324.4 L1249.4,326.5 L1248.9,327.3 L1249.3,331.5 L1249.8,333.8 L1249.3,332.8 L1250.2,338.9 L1249.8,341.7 L1250.3,339.9 L1250.3,337.0 L1249.9,336.1 L1250.1,332.2 L1250.6,330.9 L1249.9,324.8 L1250.7,322.1 L1249.9,322.1 L1250.2,319.1 L1250.9,316.5 L1250.2,310.5 L1250.8,311.2 L1250.2,306.4 L1250.4,303.6 L1250.4,304.0 L1250.5,299.4 L1251.1,298.8 L1250.7,292.3 L1251.0,288.7 L1250.7,287.7 L1251.2,289.4 L1250.8,283.1 L1251.6,280.4 L1251.1,276.5 L1250.7,275.4 L1251.3,272.8 L1251.6,271.6 L1251.0,267.2 L1251.2,267.5 L1251.4,261.4 L1252.1,259.3 L1252.3,258.5 L1252.2,254.4 L1251.9,253.0 L1251.8,247.9 L1252.3,245.0 L1252.5,242.1 L1252.7,244.0 L1252.8,248.1 L1252.6,247.2 L1252.1,252.9 L1252.8,257.0 L1252.3,260.2 L1252.5,261.4 L1252.9,260.9 L1252.3,265.0 L1252.7,268.7 L1252.7,273.2 L1252.9,274.2 L1252.8,276.9 L1252.4,278.1 L1252.3,279.8 L1252.7,283.9 L1252.6,286.6 L1253.3,288.4 L1253.0,289.0 L1252.6,293.4 L1252.6,296.4 L1252.8,299.5 L1253.2,300.5 L1253.2,304.0 L1252.7,307.1 L1252.9,308.3 L1252.9,310.7 L1253.5,311.6 L1252.9,315.5 L1253.1,320.0 L1253.9,323.4 L1253.7,324.7 L1254.0,327.8 L1253.8,330.6 L1253.1,332.0 L1253.2,337.5 L1253.5,336.3 L1253.5,335.6 L1253.8,333.9 L1254.8,328.6 L1254.3,326.1 L1254.4,325.5 L1254.6,322.4 L1254.5,318.0 L1255.2,315.8 L1254.7,313.3 L1254.9,312.3 L1255.0,309.0 L1255.2,303.4 L1254.9,301.8 L1254.8,301.8 L1255.2,297.3 L1254.7,295.4 L1255.1,294.3 L1254.7,291.3 L1255.1,289.5 L1254.9,281.5 L1255.3,285.0 L1255.6,281.3 L1254.8,279.8 L1255.5,275.1 L1254.8,274.3 L1255.0,270.7 L1255.8,269.8 L1255.7,265.6 L1255.2,264.7 L1256.0,259.1 L1255.8,260.2 L1256.1,257.0 L1255.6,253.3 L1255.3,251.6 L1256.1,247.2 L1255.9,247.0 L1255.6,243.5 L1255.5,241.7 L1255.5,239.6 L1255.8,233.8 L1255.7,233.8 L1256.3,230.2 L1256.3,230.3 L1255.9,225.7 L1256.5,224.0 L1256.2,218.0 L1256.1,219.7 L1256.2,219.7 L1256.0,223.6 L1256.0,224.0 L1256.8,226.4 L1257.0,229.6 L1257.0,235.0 L1256.3,234.5 L1257.0,235.8 L1257.0,240.6 L1256.2,245.0 L1256.6,245.0 L1256.6,248.3 L1256.6,249.2 L1256.4,253.0 L1256.7,254.6 L1257.0,258.1 L1256.6,261.7 L1256.8,263.8 L1256.5,263.5 L1257.0,266.9 L1257.2,272.1 L1256.8,273.3 L1256.6,275.2 L1257.0,278.4 L1257.1,279.4 L1256.8,283.4 L1256.6,283.9 L1257.2,290.8 L1256.9,290.3 L1257.2,292.5 L1257.4,297.2 L1257.4,298.0 L1257.8,301.2 L1257.5,301.3 L1257.3,304.9 L1257.7,309.1 L1257.8,308.6 L1257.0,315.8 L1257.1,314.8 L1257.4,318.5 L1258.0,321.7 L1257.3,324.4 L1257.8,326.2 L1257.7,328.8 L1257.6,331.4 L1257.9,335.5 L1257.8,334.9 L1258.1,337.5 L1258.3,340.7 L1258.7,338.9 L1258.7,333.6 L1259.2,334.4 L1259.7,339.6 L1259.5,340.9 L1259.5,342.9 L1259.4,346.3 L1260.2,348.8 L1260.1,352.6 L1260.6,356.7 L1260.6,354.8 L1260.8,351.1 L1261.8,348.0 L1261.4,342.5 L1262.0,348.7 L1261.9,352.8 L1262.0,351.5 L1262.4,354.0 L1262.8,359.4 L1263.5,362.5 L1263.5,368.0 L1263.8,368.8 L1264.4,363.0 L1264.2,361.1 L1264.3,361.6 L1264.6,358.0 L1264.2,354.3 L1264.6,352.4 L1264.0,350.5 L1264.7,350.5 L1264.3,342.6 L1264.9,339.5 L1264.6,339.8 L1265.2,336.6 L1265.0,333.5 L1264.4,332.2 L1265.1,328.7 L1265.4,326.8 L1264.4,324.1 L1265.0,319.1 L1264.8,318.1 L1265.3,316.0 L1264.9,311.8 L1265.2,310.6 L1265.0,303.4 L1265.3,302.4 L1264.8,301.6 L1264.8,302.5 L1264.9,299.4 L1265.2,295.6 L1264.7,292.9 L1265.3,290.7 L1265.0,288.5 L1265.1,282.9 L1265.1,281.9 L1265.0,282.2 L1265.3,278.0 L1265.1,274.9 L1266.1,273.3 L1265.4,270.4 L1265.6,265.4 L1266.1,263.8 L1265.9,262.0 L1266.0,258.3 L1266.4,255.8 L1266.4,255.7 L1266.4,256.6 L1266.3,259.4 L1265.7,262.1 L1265.7,265.6 L1266.4,267.5 L1265.9,269.2 L1265.9,272.0 L1266.6,276.4 L1266.5,277.2 L1266.5,279.5 L1266.5,280.7 L1266.6,285.3 L1265.9,283.0 L1266.7,288.0 L1266.1,293.8 L1266.7,297.0 L1266.1,297.9 L1266.3,298.7 L1266.7,304.3 L1266.3,304.4 L1266.2,306.8 L1266.8,310.1 L1266.3,313.5 L1266.7,316.1 L1266.6,320.5 L1266.7,320.9 L1266.2,323.8 L1266.4,320.5 L1266.6,318.2 L1266.5,314.8 L1267.1,314.8 L1266.4,311.6 L1266.9,307.2 L1266.3,307.1 L1267.2,302.9 L1266.5,298.6 L1266.4,299.3 L1266.5,293.9 L1266.6,289.7 L1266.5,287.6 L1266.5,291.5 L1267.0,283.9 L1266.6,284.4 L1267.0,282.6 L1267.1,275.9 L1266.9,274.7 L1267.3,272.5 L1267.2,268.2 L1266.9,268.4 L1266.9,265.5 L1267.1,264.8 L1267.1,262.3 L1267.0,258.2 L1267.3,252.1 L1266.9,250.3 L1267.4,252.0 L1267.3,246.7 L1267.8,245.6 L1268.1,241.3 L1267.4,240.4 L1267.6,235.8 L1268.3,231.1 L1268.9,233.5 L1269.4,234.8 L1268.8,236.5 L1269.7,233.8 L1269.7,230.3 L1269.5,225.7 L1269.3,225.2 L1269.5,222.8 L1269.9,220.0 L1270.3,216.6 L1270.4,215.1 L1270.5,212.5 L1270.8,213.1 L1270.8,218.6 L1270.3,221.6 L1270.4,221.5 L1271.4,228.4 L1270.9,229.3 L1271.8,227.4 L1271.7,223.8 L1272.2,220.4 L1271.6,216.0 L1272.2,213.2 L1271.8,212.0 L1271.8,208.8 L1272.3,206.7 L1272.4,206.8 L1272.8,202.0 L1272.5,204.1 L1273.2,207.0 L1272.7,210.6 L1273.7,212.1 L1273.0,215.0 L1273.9,217.8 L1273.4,219.1 L1273.5,223.4 L1273.9,227.3 L1273.9,224.8 L1274.0,220.2 L1274.2,220.2 L1274.5,215.8 L1274.2,212.6 L1274.9,210.5 L1274.5,209.8 L1274.7,204.0 L1275.3,201.3 L1275.1,207.4 L1275.0,209.9 L1274.9,211.7 L1275.1,215.0 L1275.4,216.1 L1275.5,219.1 L1275.0,223.2 L1275.8,224.3 L1275.3,228.6 L1275.9,230.8 L1275.7,230.7 L1275.3,230.2 L1275.6,226.8 L1275.7,224.2 L1275.7,219.8 L1276.4,219.8 L1276.2,216.8 L1276.1,213.3 L1276.0,213.1 L1276.4,206.1 L1276.8,204.2 L1276.9,201.9 L1276.6,208.3 L1276.7,209.7 L1276.5,211.6 L1276.5,213.6 L1277.1,215.8 L1276.4,218.6 L1276.6,222.3 L1277.1,225.0 L1277.0,227.2 L1277.0,229.2 L1277.3,230.6 L1277.3,234.4 L1277.1,236.1 L1276.7,236.4 L1277.7,228.6 L1276.9,227.5 L1277.5,227.4 L1277.2,223.5 L1277.7,219.2 L1277.4,217.0 L1277.5,214.7 L1278.0,211.6 L1277.9,217.7 L1278.3,219.1 L1278.5,221.4 L1278.8,221.1 L1278.5,227.6 L1279.4,231.8 L1279.3,235.6 L1279.4,232.7 L1280.1,235.8 L1279.6,241.2 L1280.1,243.0 L1280.1,245.4 L1280.0,247.4 L1279.6,251.8 L1280.6,254.3 L1280.3,256.4 L1280.2,258.4 L1279.9,261.3 L1280.8,264.7 L1280.3,264.3 L1280.9,269.2 L1281.0,270.1 L1281.0,273.5 L1280.5,276.1 L1280.4,281.7 L1280.6,280.4 L1280.6,285.3 L1280.7,286.7 L1281.2,289.8 L1280.5,290.4 L1280.8,289.3 L1280.7,288.2 L1280.8,285.2 L1281.0,282.1 L1281.0,281.6 L1280.6,273.3 L1280.6,276.1 L1281.2,272.7 L1281.3,268.3 L1281.1,265.4 L1281.3,265.3 L1281.1,259.0 L1281.6,258.2 L1280.9,256.5 L1281.1,253.5 L1281.7,247.6 L1281.3,249.0 L1281.2,244.7 L1282.1,241.5 L1282.1,238.6 L1282.2,237.4 L1282.3,233.0 L1282.4,230.1 L1281.9,232.0 L1283.0,234.9 L1282.9,242.6 L1283.2,242.6 L1283.2,247.4 L1283.5,242.4 L1284.2,242.9 L1283.7,241.9 L1284.5,242.7 L1284.2,248.6 L1284.3,249.8 L1284.3,253.5 L1284.8,256.6 L1285.0,259.0 L1284.9,260.7 L1285.3,257.5 L1285.5,262.3 L1286.2,262.6 L1285.6,264.3 L1286.3,269.6 L1285.7,272.6 L1285.7,272.9 L1286.2,275.2 L1286.8,281.1 L1286.6,276.0 L1287.1,272.1 L1286.7,270.4 L1287.3,272.2 L1287.0,275.2 L1287.2,279.1 L1287.5,279.5 L1287.6,283.4 L1287.9,285.0 L1287.6,290.4 L1288.2,290.4 L1287.6,296.1 L1287.6,291.3 L1287.6,287.1 L1287.5,287.1 L1288.2,282.6 L1287.9,279.9 L1288.5,277.5 L1288.5,274.6 L1287.8,274.2 L1288.4,272.2 L1288.5,269.4 L1287.8,265.5 L1288.3,261.7 L1288.1,263.1 L1288.6,261.5 L1288.7,258.1 L1288.1,260.1 L1288.2,259.2 L1288.2,263.4 L1288.9,263.7 L1289.1,267.6 L1288.9,269.4 L1289.0,277.3 L1288.6,278.7 L1288.6,277.9 L1288.7,284.3 L1288.7,285.4 L1288.8,287.8 L1289.1,291.3 L1289.0,292.7 L1289.4,296.7 L1289.9,299.7 L1290.0,303.1 L1289.9,300.8 L1289.9,305.0 L1290.0,310.5 L1289.7,309.5 L1289.5,314.5 L1290.3,315.2 L1289.8,316.9 L1290.3,321.2 L1290.5,321.3 L1290.0,325.7 L1289.9,329.0 L1290.6,330.6 L1290.4,336.2 L1289.9,337.2 L1290.4,341.6 L1290.1,343.9 L1290.7,345.4 L1290.0,346.7 L1290.0,344.5 L1290.7,349.0 L1290.9,353.8 L1290.1,354.1 L1290.6,354.1 L1290.5,352.5 L1290.7,349.0 L1290.6,347.9 L1290.7,344.6 L1290.9,341.3 L1291.3,337.2 L1290.7,335.1 L1290.8,331.8 L1291.4,326.9 L1291.5,330.3 L1291.5,323.8 L1290.6,320.5 L1291.3,320.1 L1291.3,314.8 L1290.8,312.6 L1291.3,312.6 L1291.1,309.4 L1292.0,307.1 L1291.4,304.0 L1292.3,300.7 L1292.3,296.8 L1292.6,295.6 L1292.1,292.6 L1293.0,292.5 L1292.8,286.4 L1292.9,283.9 L1293.5,281.6 L1293.1,277.1 L1293.4,275.0 L1293.8,272.1 L1294.2,270.8 L1293.6,268.6 L1293.9,266.2 L1294.3,262.2 L1294.2,261.1 L1293.9,256.4 L1294.6,254.8 L1293.9,252.6 L1294.1,251.1 L1294.6,246.1 L1294.5,242.3 L1294.1,242.2 L1294.3,238.4 L1294.6,238.5 L1294.6,234.5 L1295.2,233.5 L1294.5,229.5 L1295.3,227.3 L1295.4,223.2 L1295.1,221.6 L1295.5,221.5 L1295.3,222.3 L1295.4,224.5 L1295.3,230.4 L1295.1,231.3 L1295.2,235.4 L1296.0,232.6 L1295.4,238.6 L1295.9,240.1 L1296.1,243.4 L1295.9,246.4 L1296.2,247.8 L1295.8,247.3 L1295.7,254.4 L1296.3,257.0 L1295.5,259.3 L1295.5,262.6 L1296.5,258.0 L1296.9,261.3 L1297.1,261.2 L1297.2,265.4 L1297.8,270.3 L1297.0,272.8 L1297.3,275.1 L1297.6,274.2 L1297.3,279.3 L1297.5,284.6 L1298.1,287.1 L1298.0,287.9 L1298.3,289.8 L1298.4,293.6 L1298.5,298.6 L1298.0,299.1 L1297.7,301.8 L1298.5,304.8 L1298.0,307.7 L1298.7,309.4 L1298.4,311.0 L1298.2,313.2 L1298.1,317.1 L1298.4,320.3 L1298.8,321.4 L1298.9,326.4 L1298.7,325.9 L1299.0,332.9 L1298.9,331.5 L1298.9,335.3 L1299.5,338.8 L1299.5,344.5 L1299.6,344.6 L1299.8,347.8 L1299.2,350.1 L1299.2,353.7 L1299.6,356.3 L1299.4,359.9 L1299.2,359.0 L1299.9,355.5 L1300.0,355.7 L1300.1,350.5 L1299.9,347.4 L1300.5,351.3 L1300.6,353.3 L1300.5,356.7 L1300.5,356.7 L1300.4,358.8 L1300.6,366.9 L1300.4,368.6 L1301.1,370.2 L1301.2,371.4 L1300.8,373.4 L1301.3,378.7 L1300.9,379.2 L1301.3,378.0 L1301.1,374.7 L1300.9,373.4 L1301.6,371.4 L1301.8,363.5 L1301.6,365.5 L1301.9,359.9 L1301.9,360.8 L1301.6,364.6 L1301.6,365.0 L1302.0,367.1 L1302.0,370.4 L1302.7,370.4 L1302.8,374.7 L1302.6,371.8 L1302.1,372.6 L1302.4,366.5 L1302.4,363.2 L1303.3,359.0 L1303.0,360.3 L1302.5,357.6 L1303.4,353.5 L1303.5,347.8 L1303.3,355.1 L1303.3,354.9 L1303.3,358.1 L1303.2,361.1 L1303.9,363.7 L1304.0,368.2 L1304.0,367.3 L1303.7,365.9 L1303.7,362.0 L1304.5,358.9 L1304.0,361.1 L1304.0,354.0 L1304.8,350.1 L1304.7,347.6 L1304.3,347.3 L1304.5,346.8 L1304.3,343.5 L1305.0,338.1 L1305.5,336.8 L1305.5,335.1 L1305.3,336.4 L1305.1,339.7 L1305.5,338.2 L1305.8,343.8 L1305.7,346.1 L1305.8,350.2 L1306.3,353.3 L1306.1,355.8 L1306.3,355.3 L1306.5,359.1 L1306.5,362.4 L1306.7,366.9 L1306.3,363.3 L1305.9,362.1 L1306.1,355.9 L1306.8,354.0 L1306.9,350.7 L1306.9,351.5 L1307.1,344.9 L1306.6,344.3 L1307.0,344.2 L1306.7,337.7 L1306.8,335.6 L1307.3,340.8 L1307.1,339.3 L1307.7,344.5 L1307.5,344.9 L1307.8,347.0 L1307.3,351.2 L1307.4,353.2 L1307.9,357.1 L1307.8,359.2 L1308.0,364.6 L1308.5,366.5 L1308.2,365.7 L1308.8,363.5 L1308.0,361.3 L1308.9,360.0 L1308.6,355.1 L1309.1,354.6 L1308.6,351.8 L1308.9,346.4 L1308.8,344.6 L1308.9,344.2 L1309.3,339.9 L1309.5,339.1 L1309.2,332.9 L1309.3,333.9 L1309.3,334.1 L1309.8,325.8 L1309.5,324.6 L1309.4,321.0 L1309.9,322.7 L1309.8,317.5 L1309.6,315.0 L1310.0,312.2 L1309.8,312.0 L1310.0,307.9 L1309.3,303.3 L1309.6,304.3 L1309.9,300.8 L1310.3,299.5 L1309.6,295.9 L1310.0,292.7 L1310.2,291.2 L1310.0,286.7 L1310.2,285.6 L1310.1,280.4 L1309.7,279.8 L1310.1,276.0 L1310.5,277.1 L1309.9,274.8 L1310.3,271.5 L1310.2,267.4 L1310.1,264.4 L1310.3,262.8 L1310.6,259.6 L1310.5,256.7 L1310.2,256.5 L1310.3,254.3 L1310.4,252.1 L1310.9,247.5 L1310.3,245.2 L1310.3,242.0 L1310.8,239.1 L1310.5,235.0 L1310.5,233.9 L1310.3,234.0 L1310.7,229.6 L1310.7,226.8 L1311.3,226.0 L1310.6,227.1 L1310.6,232.4 L1311.2,234.0 L1310.7,232.8 L1310.5,237.8 L1311.3,240.8 L1311.2,241.9 L1311.2,243.6 L1310.8,250.4 L1311.0,249.7 L1311.4,254.3 L1311.2,252.0 L1310.8,255.1 L1310.8,259.8 L1311.6,262.4 L1311.0,264.0 L1311.5,268.6 L1311.6,270.2 L1311.0,272.3 L1311.4,276.3 L1311.6,281.2 L1310.9,280.0 L1311.5,284.0 L1310.8,285.6 L1311.6,287.8 L1311.3,290.2 L1310.8,293.0 L1311.2,297.9 L1311.7,298.2 L1310.9,301.2 L1311.5,303.7 L1311.0,305.7 L1311.6,310.7 L1311.2,309.8 L1311.5,313.8 L1311.3,315.4 L1311.2,319.5 L1311.2,322.5 L1311.6,323.8 L1311.2,328.4 L1311.5,330.7 L1311.5,330.1 L1311.8,336.7 L1311.7,335.1 L1311.6,337.0 L1311.5,340.1 L1311.5,345.1 L1311.6,343.9 L1312.0,348.5 L1311.3,352.8 L1311.2,354.3 L1312.0,350.6 L1311.4,348.0 L1312.1,347.4 L1312.0,341.7 L1312.1,339.6 L1311.9,338.8 L1312.3,339.1 L1312.2,333.0 L1311.5,330.6 L1312.0,331.9 L1312.0,324.2 L1312.1,325.5 L1312.6,324.3 L1311.6,319.7 L1311.8,313.2 L1311.8,313.6 L1312.4,311.0 L1312.8,306.2 L1312.8,303.3 L1312.9,300.9 L1313.4,298.4 L1312.9,295.4 L1313.1,292.8 L1313.2,293.0 L1312.7,289.3 L1312.9,288.5 L1312.8,284.0 L1313.7,280.0 L1313.4,280.6 L1313.1,277.6 L1313.7,273.5 L1313.0,268.9 L1313.0,269.1 L1313.2,265.6 L1313.1,264.7 L1314.1,262.8 L1313.5,258.6 L1313.4,259.0 L1313.9,251.0 L1313.4,248.8 L1313.9,246.5 L1313.6,247.8 L1314.2,244.1 L1314.4,242.4 L1313.8,237.7 L1314.2,239.0 L1313.7,233.6 L1313.9,231.6 L1314.5,226.7 L1314.4,221.4 L1314.4,221.1 L1314.3,221.9 L1313.9,216.3 L1314.4,220.3 L1314.0,226.9 L1314.4,226.0 L1314.4,228.9 L1315.0,231.8 L1314.3,231.0 L1314.9,235.2 L1314.8,237.8 L1315.0,241.2 L1314.4,243.0 L1314.6,244.9 L1314.9,248.9 L1315.2,248.5 L1315.3,252.6 L1315.4,254.7 L1314.7,257.9 L1315.3,261.7 L1316.2,263.4 L1315.4,266.9 L1316.2,266.3 L1315.4,269.5 L1315.5,273.8 L1315.5,277.5 L1315.6,278.5 L1315.6,280.9 L1316.0,283.6 L1316.1,287.3 L1316.0,287.9 L1315.6,292.9 L1316.1,294.8 L1315.6,298.1 L1316.5,298.1 L1316.1,301.1 L1316.5,305.4 L1316.3,308.1 L1316.0,308.6 L1315.7,308.9 L1315.9,313.9 L1316.5,319.5 L1316.4,320.5 L1316.1,321.8 L1316.6,324.8 L1316.7,326.5 L1316.5,330.7 L1316.4,331.3 L1316.8,336.4 L1316.7,336.2 L1316.8,341.1 L1316.8,340.6 L1316.0,343.4 L1316.0,343.6 L1316.7,341.9 L1316.2,338.3 L1316.2,334.2 L1316.4,331.8 L1316.8,331.1 L1316.3,327.3 L1316.7,326.0 L1316.2,325.1 L1316.6,319.8 L1316.0,317.4 L1316.1,314.3 L1317.1,313.4 L1316.7,312.0 L1316.3,308.2 L1316.6,304.3 L1317.1,299.3 L1316.6,299.1 L1316.5,298.6 L1316.9,292.5 L1316.3,292.7 L1317.0,290.7 L1316.8,287.0 L1316.4,286.2 L1316.4,282.5 L1317.0,277.6 L1317.2,276.1 L1316.4,274.9 L1316.8,272.3 L1317.2,268.8 L1317.2,265.3 L1316.7,266.2 L1316.4,263.4 L1316.6,260.4 L1316.5,257.2 L1317.0,255.9 L1317.3,253.4 L1316.8,251.1 L1317.2,248.5 L1317.4,242.6 L1317.4,241.2 L1317.2,240.6 L1317.3,236.7 L1317.2,234.1 L1317.0,231.9 L1316.8,227.9 L1317.1,225.8 L1316.7,230.7 L1317.3,233.4 L1317.7,234.7 L1317.2,235.8 L1317.3,240.0 L1317.7,240.6 L1317.3,243.2 L1317.2,248.1 L1317.9,251.1 L1317.0,252.6 L1317.6,255.2 L1317.4,257.9 L1317.6,259.9 L1317.3,260.7 L1317.4,265.6 L1317.1,266.7 L1318.0,269.1 L1317.3,272.5 L1318.1,274.9 L1317.9,276.9 L1317.5,278.1 L1317.4,283.2 L1318.3,284.6 L1318.2,288.3 L1317.5,292.3 L1317.9,293.2 L1318.4,295.5 L1317.5,296.7" fill="none" stroke="#000" stroke-width="3.0" stroke-linejoin="round" stroke-linecap="butt" clip-path="url(#c1)"/>
<path d="M1498.0,272.3 L1499.6,274.7 L1501.3,279.8 L1501.1,282.2 L1502.3,285.2 L1502.8,287.7 L1503.7,286.0 L1504.0,289.4 L1503.7,291.4 L1503.5,291.0 L1504.4,295.8 L1503.9,298.2 L1503.9,301.4 L1504.7,304.4 L1504.5,305.6 L1505.0,304.1 L1504.6,300.2 L1504.8,300.5 L1505.4,298.9 L1505.8,293.2 L1505.6,292.4 L1506.7,288.1 L1506.7,285.5 L1506.8,281.4 L1507.4,285.3 L1508.2,291.9 L1508.2,287.5 L1508.2,283.9 L1508.8,283.0 L1508.8,277.9 L1509.8,285.4 L1510.2,287.6 L1510.3,283.1 L1510.1,281.4 L1510.8,279.6 L1511.0,276.0 L1510.4,275.1 L1510.6,269.3 L1510.7,266.4 L1511.0,271.2 L1511.7,272.6 L1511.4,275.2 L1511.4,278.8 L1511.7,280.7 L1511.4,285.9 L1512.2,286.5 L1511.9,287.5 L1512.2,287.8 L1513.0,283.7 L1512.8,277.7 L1513.6,283.7 L1513.9,285.7 L1515.1,284.5 L1514.8,283.5 L1515.3,276.8 L1515.2,275.4 L1515.9,271.7 L1515.6,270.7 L1515.9,267.6 L1517.0,261.5 L1517.1,260.0 L1517.2,257.7 L1517.3,260.0 L1517.4,264.8 L1517.2,267.9 L1517.5,268.6 L1517.7,269.6 L1518.0,274.6 L1517.5,276.4 L1517.5,281.4 L1518.0,279.6 L1518.4,272.0 L1518.4,271.2 L1519.2,266.6 L1519.4,267.4 L1518.7,267.1 L1519.7,270.3 L1519.1,272.9 L1519.7,278.3 L1519.9,277.2 L1519.6,282.2 L1520.0,284.0 L1519.8,288.9 L1520.1,289.9 L1520.8,293.5 L1520.5,297.0 L1521.2,296.6 L1521.0,296.1 L1521.1,288.4 L1521.7,290.6 L1521.2,283.8 L1521.2,284.8 L1522.1,282.6 L1522.1,278.5 L1521.6,276.8 L1521.6,272.9 L1522.2,269.9 L1521.9,267.7 L1521.9,267.1 L1522.1,263.3 L1522.0,259.6 L1522.3,259.4 L1522.2,256.9 L1522.2,254.6 L1522.4,256.7 L1523.0,259.3 L1522.4,261.3 L1522.6,263.9 L1522.9,267.4 L1523.2,268.6 L1522.6,272.3 L1522.6,274.3 L1523.3,275.7 L1523.5,280.1 L1523.1,282.2 L1523.6,284.2 L1523.4,285.6 L1523.4,281.8 L1523.4,282.1 L1524.0,280.7 L1524.2,275.6 L1524.3,275.9 L1523.7,275.1 L1524.3,269.6 L1524.1,266.9 L1524.5,263.1 L1524.7,260.1 L1524.7,257.9 L1524.2,255.7 L1524.3,250.3 L1524.7,257.3 L1525.0,259.1 L1525.0,261.1 L1524.7,263.3 L1524.6,266.2 L1525.0,266.8 L1525.2,270.3 L1525.1,275.3 L1525.2,275.9 L1525.4,277.4 L1525.1,281.5 L1525.4,283.0 L1525.3,286.6 L1525.8,291.5 L1525.8,291.7 L1526.0,293.8 L1525.8,296.8 L1526.6,298.0 L1526.2,301.7 L1526.8,302.5 L1527.0,307.7 L1527.1,310.1 L1526.7,305.8 L1526.8,303.8 L1527.2,301.9 L1527.2,302.3 L1527.0,298.3 L1527.1,295.3 L1527.0,292.1 L1526.9,290.6 L1527.1,286.9 L1526.8,284.7 L1527.4,280.4 L1527.0,279.6 L1526.9,276.8 L1527.5,276.0 L1527.1,270.0 L1526.9,268.5 L1526.9,264.3 L1527.9,263.6 L1527.4,261.3 L1527.4,266.2 L1528.0,268.2 L1527.3,267.9 L1527.9,271.9 L1527.4,273.4 L1527.9,277.9 L1527.9,276.4 L1528.5,279.8 L1528.5,284.8 L1527.9,285.9 L1528.2,283.1 L1528.2,280.3 L1528.9,279.2 L1528.1,277.0 L1528.3,273.9 L1528.2,269.0 L1528.5,269.3 L1529.3,269.1 L1528.7,267.1 L1529.5,263.8 L1529.3,256.8 L1529.5,257.0 L1529.3,253.9 L1529.5,258.4 L1529.3,258.9 L1530.0,261.4 L1529.4,265.2 L1530.2,270.8 L1530.3,271.4 L1530.3,270.3 L1530.1,277.3 L1530.5,278.9 L1530.6,281.0 L1530.6,283.3 L1530.5,284.0 L1530.5,275.4 L1530.9,274.5 L1530.7,271.1 L1531.0,273.2 L1531.2,269.2 L1531.4,264.4 L1531.2,263.0 L1531.5,259.6 L1531.0,257.5 L1531.6,260.3 L1531.6,263.8 L1532.0,264.3 L1532.5,265.0 L1532.1,271.7 L1533.9,265.4 L1533.9,268.7 L1533.5,273.1 L1534.2,276.7 L1534.5,278.0 L1534.4,278.0 L1534.8,281.0 L1534.8,286.8 L1534.1,287.7 L1534.8,288.7 L1535.0,285.8 L1534.9,288.1 L1535.3,283.0 L1535.8,278.2 L1535.7,276.4 L1536.0,272.6 L1535.6,273.7 L1535.3,269.9 L1536.5,274.2 L1536.1,275.2 L1536.1,280.2 L1536.5,280.1 L1537.0,283.6 L1538.3,280.0 L1539.6,282.0 L1539.5,285.8 L1540.8,290.3 L1542.5,295.0 L1544.2,293.4 L1544.9,291.2 L1545.2,290.4 L1545.7,285.5 L1546.3,286.1 L1546.5,278.7 L1546.8,276.9 L1546.3,277.5 L1547.8,281.2 L1548.7,283.3 L1548.8,278.7 L1549.4,275.3 L1550.5,271.8 L1550.7,268.2 L1551.1,275.6 L1551.3,274.2 L1551.9,276.8 L1552.7,273.1 L1553.8,269.7 L1554.3,270.8 L1554.6,265.2 L1554.3,263.1 L1554.9,259.7 L1554.7,260.5 L1555.4,262.4 L1556.8,263.1 L1557.6,259.5 L1557.6,257.9 L1559.8,252.4 L1561.2,259.9 L1561.5,260.8 L1562.8,265.1 L1562.6,264.8 L1563.5,267.9 L1563.9,269.6 L1564.0,271.9 L1564.0,276.8 L1564.5,280.5 L1565.5,282.3 L1565.4,285.8 L1566.2,288.3 L1566.2,292.7 L1565.7,293.2 L1566.0,297.7 L1566.6,293.9 L1567.1,290.4 L1566.4,289.0 L1566.5,287.0 L1566.9,283.1 L1567.0,281.3 L1567.5,277.2 L1567.4,275.2 L1567.6,272.5 L1569.3,278.0 L1569.4,272.9 L1570.6,269.8 L1570.5,264.2 L1570.7,266.7 L1571.9,260.5 L1571.9,259.9 L1572.4,261.8 L1571.8,264.0 L1572.9,267.2 L1572.5,270.7 L1572.6,272.9 L1573.1,268.2 L1573.1,265.8 L1573.8,266.1 L1574.4,262.6 L1574.1,260.0 L1574.4,261.3 L1574.9,266.8 L1574.8,267.8 L1575.1,272.5 L1574.8,272.5 L1574.9,274.8 L1575.4,278.8 L1575.0,280.9 L1575.1,277.5 L1575.3,278.9 L1576.2,272.8 L1575.9,272.2 L1576.4,268.8 L1576.7,266.4 L1576.0,264.0 L1576.1,262.0 L1577.2,263.2 L1577.6,268.2 L1577.9,265.3 L1578.6,261.6 L1579.1,258.5 L1578.7,257.5 L1579.4,256.0 L1579.2,254.2 L1580.2,248.7 L1580.2,250.0 L1580.8,248.8 L1581.0,253.0 L1580.6,256.5 L1581.5,253.7 L1581.3,255.5 L1581.6,254.4 L1582.2,246.3 L1582.5,247.1 L1582.5,242.7 L1582.1,244.2 L1582.7,245.3 L1582.5,250.5 L1582.9,253.4 L1582.7,253.9 L1583.5,260.0 L1583.8,259.9 L1583.2,259.0 L1584.1,254.6 L1583.6,252.6 L1584.1,251.1 L1583.9,248.0 L1584.5,246.7 L1584.9,249.9 L1585.3,250.0 L1585.0,253.5 L1585.8,254.9 L1585.8,258.5 L1585.3,257.4 L1586.2,255.7 L1586.4,250.8 L1585.7,248.5 L1586.3,243.7 L1586.1,245.5 L1586.2,241.5 L1586.9,238.6 L1587.1,236.0 L1587.1,238.8 L1587.1,239.0 L1587.9,242.1 L1587.8,245.9 L1588.0,253.3 L1588.8,303.0 L1589.9,257.8 L1590.8,304.8 L1591.9,280.4 L1593.0,321.3 L1593.7,236.0 L1594.8,312.8 L1595.5,249.8 L1596.2,299.2 L1597.0,241.3 L1598.3,302.4 L1599.6,244.9 L1600.7,295.3 L1601.8,259.6 L1602.7,299.0 L1603.7,226.7 L1604.8,320.9 L1606.0,238.6 L1606.6,354.0 L1607.6,281.5 L1608.6,339.8 L1609.7,268.9 L1610.8,335.8 L1611.9,304.9 L1612.6,338.9 L1613.9,311.8 L1614.7,340.2 L1615.7,311.0 L1616.5,368.8 L1617.1,313.3 L1618.0,361.1 L1618.7,301.2 L1619.7,326.7 L1620.9,293.4 L1622.0,326.9 L1623.0,294.0 L1624.0,310.0 L1624.8,261.9" fill="none" stroke="#000" stroke-width="2.9" stroke-linejoin="round" stroke-linecap="butt" clip-path="url(#c1)"/>
<path d="M1624.00,257.6 L1624.25,257.0 L1624.50,255.8 L1624.75,254.5 L1625.00,237.7 L1625.25,236.5 L1625.50,250.5 L1625.75,249.3 L1626.00,247.1 L1626.25,228.1 L1626.50,224.3 L1626.75,220.6 L1627.00,216.8 L1627.25,215.2 L1627.50,214.7 L1627.75,214.3 L1628.00,232.4 L1628.25,232.0 L1628.50,231.5 L1628.75,231.1 L1629.00,212.1 L1629.25,211.7 L1629.50,211.3 L1629.75,211.1 L1630.00,210.9 L1630.25,210.7 L1630.50,210.5 L1630.75,210.2 L1631.00,210.0 L1631.25,209.8 L1631.50,209.6 L1631.75,209.4 L1632.00,209.2 L1632.25,209.0 L1632.50,231.0 L1632.75,230.8 L1633.00,230.6 L1633.25,206.1 L1633.50,203.9 L1633.75,201.6 L1634.00,199.4 L1634.25,196.9 L1634.50,193.9 L1634.75,190.9 L1635.00,189.5 L1635.25,188.1 L1635.50,186.8 L1635.75,185.5 L1636.00,184.8 L1636.25,186.7 L1636.50,188.6 L1636.75,190.5 L1637.00,191.3 L1637.25,191.5 L1637.50,191.7 L1637.75,191.8 L1638.00,191.9 L1638.25,192.0 L1638.50,192.1 L1638.75,192.2 L1639.00,210.9 L1639.25,211.9 L1639.50,217.4 L1639.75,204.3 L1640.00,205.4 L1640.25,205.4 L1640.50,205.4 L1640.75,204.6 L1641.00,201.4 L1641.25,198.1 L1641.50,196.2 L1641.75,196.2 L1642.00,196.1 L1642.25,196.1 L1642.50,196.0 L1642.75,196.0 L1643.00,197.0 L1643.25,198.1 L1643.50,199.2 L1643.75,199.8 L1644.00,199.9 L1644.25,199.9 L1644.50,199.9 L1644.75,200.0 L1645.00,200.0 L1645.25,200.1 L1645.50,200.7 L1645.75,202.3 L1646.00,204.0 L1646.25,205.7 L1646.50,211.2 L1646.75,217.7 L1647.00,221.7 L1647.25,222.3 L1647.50,223.0 L1647.75,223.7 L1648.00,223.3 L1648.25,222.8 L1648.50,222.3 L1648.75,221.8 L1649.00,219.3 L1649.25,206.7 L1649.50,200.4 L1649.75,200.3 L1650.00,200.3 L1650.25,200.2 L1650.50,200.1 L1650.75,200.3 L1651.00,203.6 L1651.25,206.8 L1651.50,208.7 L1651.75,210.1 L1652.00,211.4 L1652.25,212.3 L1652.50,211.3 L1652.75,210.3 L1653.00,209.3 L1653.25,208.3 L1653.50,207.6 L1653.75,207.1 L1654.00,206.6 L1654.25,206.1 L1654.50,199.2 L1654.75,191.5 L1655.00,184.1 L1655.25,184.0 L1655.50,211.9 L1655.75,211.8 L1656.00,211.7 L1656.25,211.6 L1656.50,186.4 L1656.75,191.0 L1657.00,195.6 L1657.25,197.7 L1657.50,197.7 L1657.75,197.7 L1658.00,212.5 L1658.25,212.5 L1658.50,205.1 L1658.75,182.7 L1659.00,182.6 L1659.25,182.6 L1659.50,182.5 L1659.75,182.5 L1660.00,182.4 L1660.25,182.4 L1660.50,211.3 L1660.75,226.9 L1661.00,242.4 L1661.25,215.5 L1661.50,215.5 L1661.75,214.3 L1662.00,201.9 L1662.25,189.5 L1662.50,189.1 L1662.75,189.1 L1663.00,215.6 L1663.25,215.6 L1663.50,215.6 L1663.75,215.5 L1664.00,188.9 L1664.25,194.3 L1664.50,200.6 L1664.75,203.8 L1665.00,204.1 L1665.25,204.5 L1665.50,204.8 L1665.75,204.6 L1666.00,204.3 L1666.25,204.1 L1666.50,203.8 L1666.75,203.4 L1667.00,202.6 L1667.25,201.8 L1667.50,200.9 L1667.75,200.7 L1668.00,200.6 L1668.25,200.6 L1668.50,228.5 L1668.75,228.5 L1669.00,228.4 L1669.25,203.7 L1669.50,208.0 L1669.75,212.2 L1670.00,215.9 L1670.25,217.6 L1670.50,219.4 L1670.75,214.8 L1671.00,209.3 L1671.25,206.5 L1671.50,206.4 L1671.75,206.3 L1672.00,206.2 L1672.25,206.1 L1672.50,206.0 L1672.75,214.6 L1673.00,229.0 L1673.25,234.2 L1673.50,235.7 L1673.75,237.2 L1674.00,238.6 L1674.25,228.8 L1674.50,213.8 L1674.75,201.9 L1675.00,196.7 L1675.25,191.4 L1675.50,191.2 L1675.75,191.1 L1676.00,191.0 L1676.25,191.0 L1676.50,190.4 L1676.75,188.2 L1677.00,213.9 L1677.25,213.6 L1677.50,213.5 L1677.75,185.5 L1678.00,185.4 L1678.25,185.4 L1678.50,211.0 L1678.75,220.8 L1679.00,231.1 L1679.25,211.9 L1679.50,215.9 L1679.75,217.3 L1680.00,232.1 L1680.25,224.6 L1680.50,223.5 L1680.75,201.2 L1681.00,201.2 L1681.25,201.1 L1681.50,201.1 L1681.75,201.0 L1682.00,201.0 L1682.25,201.1 L1682.50,201.3 L1682.75,201.5 L1683.00,201.7 L1683.25,201.9 L1683.50,201.9 L1683.75,202.0 L1684.00,202.0 L1684.25,202.1 L1684.50,202.1 L1684.75,202.6 L1685.00,205.9 L1685.25,206.0 L1685.50,206.0 L1685.75,206.0 L1686.00,206.0 L1686.25,206.0 L1686.50,206.0 L1686.75,206.0 L1687.00,215.0 L1687.25,225.5 L1687.50,230.8 L1687.75,230.8 L1688.00,230.8 L1688.25,230.8 L1688.50,230.8 L1688.75,230.8 L1689.00,237.1 L1689.25,247.7 L1689.50,258.4 L1689.75,268.7 L1690.00,268.7 L1690.25,268.7 L1690.50,268.7 L1690.75,268.7 L1691.00,268.7 L1691.25,268.7 L1691.50,268.7 L1691.75,268.7 L1692.00,268.7 L1692.25,268.7 L1692.50,268.7 L1692.75,268.7 L1693.00,268.7 L1693.25,268.7 L1693.50,268.7 L1693.75,268.7 L1694.00,232.5 L1694.25,181.8 L1694.50,181.7 L1694.75,181.7 L1695.00,181.7 L1695.25,181.6 L1695.50,181.6 L1695.75,181.5 L1696.00,181.5 L1696.25,181.9 L1696.50,193.6 L1696.75,204.4 L1697.00,209.4 L1697.25,211.9 L1697.50,212.0 L1697.75,212.0 L1698.00,212.1 L1698.25,212.1 L1698.50,212.2 L1698.75,221.4 L1699.00,237.3 L1699.25,253.3 L1699.50,268.7 L1699.75,268.7 L1700.00,268.7 L1700.25,268.7 L1700.50,268.7 L1700.75,268.7 L1701.00,268.7 L1701.25,268.7 L1701.50,280.0 L1701.75,280.0 L1702.00,272.8 L1702.25,260.3 L1702.50,236.4 L1702.75,224.0 L1703.00,212.0 L1703.25,200.0 L1703.50,195.9 L1703.75,195.9 L1704.00,195.9 L1704.25,195.8 L1704.50,195.8 L1704.75,195.8 L1705.00,195.7 L1705.25,195.7 L1705.50,199.8 L1705.75,210.5 L1706.00,220.8 L1706.25,220.9 L1706.50,221.0 L1706.75,221.1 L1707.00,233.3 L1707.25,233.4 L1707.50,233.6 L1707.75,234.1 L1708.00,222.4 L1708.25,222.9 L1708.50,223.4 L1708.75,222.7 L1709.00,219.9 L1709.25,217.2 L1709.50,217.2 L1709.75,217.2 L1710.00,217.2 L1710.25,217.2 L1710.50,233.8 L1710.75,233.8 L1711.00,233.8 L1711.25,216.1 L1711.50,214.8 L1711.75,214.2 L1712.00,214.1 L1712.25,214.0 L1712.50,213.8 L1712.75,213.7 L1713.00,211.6 L1713.25,209.1 L1713.50,209.0 L1713.75,209.0 L1714.00,209.0 L1714.25,209.0 L1714.50,209.0 L1714.75,215.4 L1715.00,223.9 L1715.25,232.4 L1715.50,243.7 L1715.75,255.3 L1716.00,266.8 L1716.25,268.7 L1716.50,268.7 L1716.75,268.7 L1717.00,274.1 L1717.25,272.6 L1717.50,259.6 L1717.75,241.2 L1718.00,229.6 L1718.25,218.4 L1718.50,207.3 L1718.75,199.9 L1719.00,194.5 L1719.25,194.4 L1719.50,194.4 L1719.75,194.4 L1720.00,194.3 L1720.25,194.3 L1720.50,194.2 L1720.75,194.2 L1721.00,203.9 L1721.25,214.3 L1721.50,219.0 L1721.75,211.9 L1722.00,204.8 L1722.25,197.7 L1722.50,194.1 L1722.75,190.9 L1723.00,190.9 L1723.25,190.8 L1723.50,190.8 L1723.75,190.7 L1724.00,190.6 L1724.25,190.7 L1724.50,208.4 L1724.75,208.4 L1725.00,208.5 L1725.25,190.9 L1725.50,191.0 L1725.75,191.0 L1726.00,215.7 L1726.25,215.8 L1726.50,215.8 L1726.75,197.5 L1727.00,219.2 L1727.25,228.6 L1727.50,230.7 L1727.75,232.8 L1728.00,234.8 L1728.00,265.4 L1727.75,266.8 L1727.50,268.2 L1727.25,269.6 L1727.00,271.1 L1726.75,273.0 L1726.50,274.9 L1726.25,276.7 L1726.00,278.6 L1725.75,280.5 L1725.50,282.3 L1725.25,284.2 L1725.00,286.1 L1724.75,287.9 L1724.50,289.8 L1724.25,291.7 L1724.00,293.5 L1723.75,295.4 L1723.50,297.3 L1723.25,299.1 L1723.00,308.3 L1722.75,324.0 L1722.50,325.9 L1722.25,325.9 L1722.00,325.8 L1721.75,325.7 L1721.50,325.6 L1721.25,325.6 L1721.00,325.5 L1720.75,323.8 L1720.50,302.3 L1720.25,300.0 L1720.00,300.0 L1719.75,300.0 L1719.50,300.0 L1719.25,300.0 L1719.00,300.0 L1718.75,300.0 L1718.50,300.0 L1718.25,300.0 L1718.00,300.0 L1717.75,300.5 L1717.50,302.4 L1717.25,302.3 L1717.00,302.2 L1716.75,302.2 L1716.50,302.1 L1716.25,302.0 L1716.00,302.0 L1715.75,301.9 L1715.50,301.9 L1715.25,301.8 L1715.00,301.9 L1714.75,302.0 L1714.50,302.1 L1714.25,302.2 L1714.00,302.4 L1713.75,302.5 L1713.50,302.6 L1713.25,302.8 L1713.00,302.9 L1712.75,303.0 L1712.50,303.1 L1712.25,303.3 L1712.00,303.4 L1711.75,303.5 L1711.50,303.7 L1711.25,303.8 L1711.00,303.9 L1710.75,304.1 L1710.50,304.2 L1710.25,304.3 L1710.00,304.4 L1709.75,304.6 L1709.50,304.7 L1709.25,304.8 L1709.00,305.0 L1708.75,305.1 L1708.50,305.2 L1708.25,305.4 L1708.00,305.5 L1707.75,305.6 L1707.50,305.7 L1707.25,305.9 L1707.00,307.3 L1706.75,308.3 L1706.50,308.3 L1706.25,308.3 L1706.00,308.3 L1705.75,308.3 L1705.50,308.3 L1705.25,307.1 L1705.00,305.9 L1704.75,305.9 L1704.50,305.9 L1704.25,305.9 L1704.00,305.9 L1703.75,315.7 L1703.50,359.5 L1703.25,368.0 L1703.00,368.0 L1702.75,368.0 L1702.50,368.0 L1702.25,368.0 L1702.00,368.0 L1701.75,368.0 L1701.50,355.3 L1701.25,305.9 L1701.00,305.9 L1700.75,305.9 L1700.50,305.9 L1700.25,320.7 L1700.00,330.7 L1699.75,330.7 L1699.50,330.7 L1699.25,330.7 L1699.00,330.7 L1698.75,330.7 L1698.50,330.7 L1698.25,322.4 L1698.00,305.9 L1697.75,305.9 L1697.50,305.9 L1697.25,305.9 L1697.00,305.9 L1696.75,305.9 L1696.50,305.9 L1696.25,305.9 L1696.00,305.9 L1695.75,315.7 L1695.50,328.2 L1695.25,335.4 L1695.00,335.4 L1694.75,335.3 L1694.50,335.2 L1694.25,335.1 L1694.00,335.1 L1693.75,335.0 L1693.50,334.9 L1693.25,331.3 L1693.00,306.8 L1692.75,329.3 L1692.50,346.2 L1692.25,346.3 L1692.00,346.5 L1691.75,346.7 L1691.50,346.9 L1691.25,347.0 L1691.00,347.2 L1690.75,348.3 L1690.50,349.9 L1690.25,351.4 L1690.00,353.0 L1689.75,354.5 L1689.50,356.1 L1689.25,357.6 L1689.00,358.0 L1688.75,357.7 L1688.50,357.3 L1688.25,357.0 L1688.00,346.3 L1687.75,315.6 L1687.50,305.9 L1687.25,305.9 L1687.00,305.9 L1686.75,305.9 L1686.50,305.9 L1686.25,305.9 L1686.00,305.9 L1685.75,305.9 L1685.50,305.9 L1685.25,305.9 L1685.00,305.9 L1684.75,305.9 L1684.50,305.9 L1684.25,305.9 L1684.00,305.9 L1683.75,305.9 L1683.50,305.9 L1683.25,305.9 L1683.00,305.9 L1682.75,305.9 L1682.50,305.9 L1682.25,305.9 L1682.00,305.9 L1681.75,305.9 L1681.50,305.9 L1681.25,305.9 L1681.00,305.9 L1680.75,305.9 L1680.50,305.9 L1680.25,305.9 L1680.00,305.9 L1679.75,305.9 L1679.50,305.9 L1679.25,305.9 L1679.00,318.9 L1678.75,343.8 L1678.50,344.0 L1678.25,344.3 L1678.00,344.5 L1677.75,344.8 L1677.50,344.8 L1677.25,344.6 L1677.00,344.4 L1676.75,344.1 L1676.50,343.9 L1676.25,343.7 L1676.00,343.5 L1675.75,343.3 L1675.50,343.0 L1675.25,342.8 L1675.00,342.6 L1674.75,341.7 L1674.50,340.7 L1674.25,339.7 L1674.00,338.7 L1673.75,337.7 L1673.50,336.7 L1673.25,324.3 L1673.00,311.3 L1672.75,305.9 L1672.50,305.9 L1672.25,310.0 L1672.00,328.6 L1671.75,336.7 L1671.50,336.8 L1671.25,336.9 L1671.00,337.0 L1670.75,337.1 L1670.50,337.2 L1670.25,323.4 L1670.00,305.9 L1669.75,305.9 L1669.50,305.9 L1669.25,311.9 L1669.00,326.9 L1668.75,341.4 L1668.50,341.4 L1668.25,341.4 L1668.00,341.4 L1667.75,341.4 L1667.50,341.4 L1667.25,339.5 L1667.00,324.5 L1666.75,309.5 L1666.50,305.9 L1666.25,305.9 L1666.00,307.4 L1665.75,311.1 L1665.50,314.8 L1665.25,314.9 L1665.00,315.0 L1664.75,315.2 L1664.50,315.3 L1664.25,315.4 L1664.00,315.5 L1663.75,315.7 L1663.50,315.8 L1663.25,315.9 L1663.00,323.9 L1662.75,337.6 L1662.50,348.8 L1662.25,350.3 L1662.00,351.8 L1661.75,353.3 L1661.50,354.8 L1661.25,354.4 L1661.00,352.1 L1660.75,349.7 L1660.50,347.4 L1660.25,345.0 L1660.00,342.7 L1659.75,340.4 L1659.50,338.0 L1659.25,322.3 L1659.00,305.9 L1658.75,305.9 L1658.50,305.9 L1658.25,305.9 L1658.00,305.9 L1657.75,305.9 L1657.50,305.9 L1657.25,305.9 L1657.00,322.3 L1656.75,339.8 L1656.50,347.4 L1656.25,347.7 L1656.00,347.9 L1655.75,348.2 L1655.50,348.4 L1655.25,348.7 L1655.00,348.9 L1654.75,350.1 L1654.50,352.2 L1654.25,354.3 L1654.00,356.4 L1653.75,358.5 L1653.50,360.6 L1653.25,361.1 L1653.00,360.6 L1652.75,360.0 L1652.50,359.4 L1652.25,358.9 L1652.00,358.3 L1651.75,357.7 L1651.50,357.1 L1651.25,350.4 L1651.00,328.9 L1650.75,307.4 L1650.50,305.9 L1650.25,305.9 L1650.00,305.9 L1649.75,305.9 L1649.50,305.9 L1649.25,305.9 L1649.00,305.9 L1648.75,305.9 L1648.50,305.9 L1648.25,305.9 L1648.00,305.9 L1647.75,305.9 L1647.50,305.9 L1647.25,305.9 L1647.00,335.8 L1646.75,353.5 L1646.50,354.0 L1646.25,354.5 L1646.00,355.0 L1645.75,355.5 L1645.50,355.4 L1645.25,355.2 L1645.00,354.9 L1644.75,354.7 L1644.50,354.5 L1644.25,354.3 L1644.00,354.1 L1643.75,353.9 L1643.50,353.6 L1643.25,353.4 L1643.00,353.1 L1642.75,352.9 L1642.50,352.6 L1642.25,352.4 L1642.00,352.1 L1641.75,350.1 L1641.50,346.0 L1641.25,341.9 L1641.00,337.8 L1640.75,333.8 L1640.50,329.7 L1640.25,325.6 L1640.00,322.5 L1639.75,321.0 L1639.50,319.5 L1639.25,318.0 L1639.00,316.5 L1638.75,315.0 L1638.50,313.5 L1638.25,311.6 L1638.00,308.9 L1637.75,306.1 L1637.50,305.9 L1637.25,305.9 L1637.00,305.9 L1636.75,305.9 L1636.50,305.9 L1636.25,305.9 L1636.00,305.9 L1635.75,305.9 L1635.50,305.9 L1635.25,305.9 L1635.00,305.9 L1634.75,305.9 L1634.50,305.9 L1634.25,308.0 L1634.00,310.2 L1633.75,311.2 L1633.50,311.2 L1633.25,311.2 L1633.00,311.2 L1632.75,311.2 L1632.50,311.2 L1632.25,309.8 L1632.00,307.5 L1631.75,305.9 L1631.50,305.9 L1631.25,305.9 L1631.00,305.9 L1630.75,305.9 L1630.50,305.9 L1630.25,305.9 L1630.00,305.9 L1629.75,305.9 L1629.50,305.9 L1629.25,305.9 L1629.00,305.9 L1628.75,305.9 L1628.50,305.9 L1628.25,305.9 L1628.00,305.9 L1627.75,305.9 L1627.50,305.9 L1627.25,305.9 L1627.00,305.9 L1626.75,305.9 L1626.50,305.9 L1626.25,305.9 L1626.00,305.9 L1625.75,305.9 L1625.50,305.9 L1625.25,305.9 L1625.00,306.8 L1624.75,316.3 L1624.50,325.8 L1624.25,328.3 L1624.00,328.2Z" fill="#000" clip-path="url(#c1)"/>
<path d="M1317.50,237.1 L1317.75,254.1 L1318.00,256.3 L1318.25,256.3 L1318.50,256.5 L1318.75,254.7 L1319.00,243.9 L1319.25,233.0 L1319.50,231.6 L1319.75,231.3 L1320.00,231.1 L1320.25,230.8 L1320.50,230.8 L1320.75,230.5 L1321.00,230.3 L1321.25,225.6 L1321.50,220.8 L1321.75,215.6 L1322.00,210.4 L1322.25,208.7 L1322.50,208.0 L1322.75,207.2 L1323.00,206.4 L1323.25,205.6 L1323.50,203.9 L1323.75,203.1 L1324.00,203.2 L1324.25,203.5 L1324.50,203.9 L1324.75,204.2 L1325.00,204.6 L1325.25,204.9 L1325.50,205.1 L1325.75,205.4 L1326.00,205.7 L1326.25,206.1 L1326.50,206.9 L1326.75,208.9 L1327.00,211.9 L1327.25,214.9 L1327.50,217.4 L1327.75,218.3 L1328.00,219.1 L1328.25,219.9 L1328.50,221.2 L1328.75,222.3 L1329.00,227.0 L1329.25,231.7 L1329.50,236.0 L1329.75,235.7 L1330.00,235.5 L1330.25,235.3 L1330.50,234.7 L1330.75,230.0 L1331.00,223.2 L1331.25,217.0 L1331.50,217.2 L1331.75,216.9 L1332.00,216.7 L1332.25,216.4 L1332.50,216.1 L1332.75,216.4 L1333.00,217.3 L1333.25,218.2 L1333.50,218.4 L1333.75,223.4 L1334.00,229.3 L1334.25,235.3 L1334.50,234.7 L1334.75,232.2 L1335.00,229.7 L1335.25,227.5 L1335.50,226.6 L1335.75,226.2 L1336.00,225.7 L1336.25,225.3 L1336.50,225.0 L1336.75,224.6 L1337.00,224.1 L1337.25,223.7 L1337.50,223.2 L1337.75,223.0 L1338.00,222.7 L1338.25,222.5 L1338.50,222.7 L1338.75,222.8 L1339.00,223.3 L1339.25,223.7 L1339.50,223.9 L1339.75,224.4 L1340.00,226.9 L1340.25,230.9 L1340.50,234.5 L1340.75,233.9 L1341.00,233.3 L1341.25,232.7 L1341.50,232.6 L1341.75,231.8 L1342.00,229.5 L1342.25,227.3 L1342.50,225.4 L1342.75,225.0 L1343.00,225.0 L1343.25,225.0 L1343.50,224.4 L1343.75,228.5 L1344.00,233.9 L1344.25,238.6 L1344.50,240.0 L1344.75,241.5 L1345.00,243.0 L1345.25,244.5 L1345.50,246.2 L1345.75,246.8 L1346.00,246.8 L1346.25,246.8 L1346.50,247.5 L1346.75,247.5 L1347.00,247.5 L1347.25,247.5 L1347.50,247.5 L1347.75,247.5 L1348.00,247.5 L1348.25,247.5 L1348.50,247.1 L1348.75,247.1 L1349.00,247.1 L1349.25,247.1 L1349.50,247.4 L1349.75,247.4 L1350.00,247.4 L1350.25,247.4 L1350.50,247.3 L1350.75,247.3 L1351.00,247.3 L1351.25,247.3 L1351.50,246.8 L1351.75,245.2 L1352.00,242.0 L1352.25,240.7 L1352.50,240.3 L1352.75,240.2 L1353.00,240.2 L1353.25,240.1 L1353.50,240.7 L1353.75,240.7 L1354.00,240.6 L1354.25,240.6 L1354.50,240.4 L1354.75,240.3 L1355.00,240.3 L1355.25,240.2 L1355.50,240.0 L1355.75,239.9 L1356.00,239.9 L1356.25,239.8 L1356.50,242.2 L1356.75,244.8 L1357.00,246.6 L1357.25,246.6 L1357.50,246.8 L1357.75,246.8 L1358.00,246.8 L1358.25,246.8 L1358.50,246.9 L1358.75,246.9 L1359.00,246.9 L1359.25,246.9 L1359.50,246.7 L1359.75,246.7 L1360.00,246.7 L1360.25,246.7 L1360.50,246.7 L1360.75,246.7 L1361.00,246.7 L1361.25,246.7 L1361.50,246.2 L1361.75,245.0 L1362.00,243.7 L1362.25,236.4 L1362.50,225.9 L1362.75,224.4 L1363.00,222.9 L1363.25,221.4 L1363.50,220.1 L1363.75,219.9 L1364.00,219.8 L1364.25,219.7 L1364.50,219.2 L1364.75,219.0 L1365.00,218.9 L1365.25,216.5 L1365.50,213.3 L1365.75,210.0 L1366.00,209.1 L1366.25,209.0 L1366.50,209.1 L1366.75,209.0 L1367.00,209.0 L1367.25,208.9 L1367.50,210.5 L1367.75,215.0 L1368.00,219.5 L1368.25,224.0 L1368.50,226.5 L1368.75,228.2 L1369.00,230.0 L1369.25,231.7 L1369.50,233.8 L1369.75,228.5 L1370.00,222.4 L1370.25,216.3 L1370.50,215.1 L1370.75,214.9 L1371.00,214.6 L1371.25,214.3 L1371.50,214.5 L1371.75,214.6 L1372.00,214.9 L1372.25,215.1 L1372.50,215.2 L1372.75,215.5 L1373.00,216.4 L1373.25,220.1 L1373.50,224.3 L1373.75,224.8 L1374.00,222.9 L1374.25,221.0 L1374.50,220.3 L1374.75,220.2 L1375.00,220.1 L1375.25,220.0 L1375.50,219.9 L1375.75,220.2 L1376.00,228.4 L1376.25,236.1 L1376.50,241.4 L1376.75,246.8 L1377.00,250.9 L1377.25,250.9 L1377.50,250.5 L1377.75,250.5 L1378.00,250.5 L1378.25,250.5 L1378.50,250.8 L1378.75,250.8 L1379.00,250.8 L1379.25,250.8 L1379.50,250.4 L1379.75,250.4 L1380.00,250.4 L1380.25,250.4 L1380.50,250.7 L1380.75,250.7 L1381.00,250.7 L1381.25,250.7 L1381.50,247.7 L1381.75,244.2 L1382.00,243.1 L1382.25,242.1 L1382.50,241.3 L1382.75,241.3 L1383.00,241.3 L1383.25,241.3 L1383.50,240.8 L1383.75,240.8 L1384.00,240.8 L1384.25,241.8 L1384.50,243.6 L1384.75,245.1 L1385.00,246.6 L1385.25,249.0 L1385.50,252.4 L1385.75,254.9 L1386.00,256.8 L1386.25,256.8 L1386.50,255.9 L1386.75,255.9 L1387.00,255.9 L1387.25,255.9 L1387.50,256.4 L1387.75,256.4 L1388.00,249.3 L1388.25,240.8 L1388.50,233.2 L1388.75,229.2 L1389.00,225.2 L1389.25,221.2 L1389.50,219.1 L1389.75,218.5 L1390.00,217.9 L1390.25,217.3 L1390.50,216.5 L1390.75,216.3 L1391.00,216.3 L1391.25,216.3 L1391.50,216.4 L1391.75,216.4 L1392.00,216.4 L1392.25,217.1 L1392.50,218.2 L1392.75,220.0 L1393.00,221.7 L1393.25,227.7 L1393.50,235.5 L1393.75,243.3 L1394.00,247.5 L1394.25,250.3 L1394.50,253.3 L1394.75,246.0 L1395.00,235.4 L1395.25,224.8 L1395.50,222.3 L1395.75,222.2 L1396.00,222.2 L1396.25,222.1 L1396.50,221.9 L1396.75,222.4 L1397.00,223.4 L1397.25,224.3 L1397.50,225.3 L1397.75,226.5 L1398.00,229.6 L1398.25,232.8 L1398.50,235.9 L1398.75,236.1 L1399.00,236.3 L1399.25,236.5 L1399.50,236.3 L1399.75,242.7 L1400.00,251.4 L1400.25,255.3 L1400.50,255.2 L1400.75,254.2 L1401.00,253.2 L1401.25,252.7 L1401.50,251.9 L1401.75,251.5 L1402.00,251.0 L1402.25,250.6 L1402.50,250.0 L1402.75,244.8 L1403.00,234.6 L1403.25,230.7 L1403.50,230.8 L1403.75,230.7 L1404.00,230.6 L1404.25,230.6 L1404.50,230.1 L1404.75,232.6 L1405.00,235.1 L1405.25,236.4 L1405.50,237.2 L1405.75,237.2 L1406.00,237.2 L1406.25,237.2 L1406.50,237.1 L1406.75,237.1 L1407.00,235.4 L1407.25,233.1 L1407.50,232.8 L1407.75,232.7 L1408.00,232.6 L1408.25,232.6 L1408.50,232.2 L1408.75,232.2 L1409.00,232.1 L1409.25,232.8 L1409.50,234.8 L1409.75,236.3 L1410.00,237.8 L1410.25,238.3 L1410.50,238.4 L1410.75,238.7 L1411.00,238.9 L1411.25,239.2 L1411.50,239.3 L1411.75,239.5 L1412.00,239.0 L1412.25,237.2 L1412.50,235.7 L1412.75,235.3 L1413.00,235.3 L1413.25,235.2 L1413.50,234.8 L1413.75,234.8 L1414.00,234.7 L1414.25,234.7 L1414.50,234.3 L1414.75,234.3 L1415.00,234.6 L1415.25,234.8 L1415.50,235.3 L1415.75,235.4 L1416.00,235.4 L1416.25,235.4 L1416.50,235.0 L1416.75,235.0 L1417.00,235.0 L1417.25,235.0 L1417.50,235.3 L1417.75,237.6 L1418.00,239.9 L1418.25,241.3 L1418.50,242.6 L1418.75,243.2 L1419.00,246.0 L1419.25,250.4 L1419.50,254.8 L1419.75,254.6 L1420.00,251.4 L1420.25,248.2 L1420.50,248.2 L1420.75,247.9 L1421.00,247.7 L1421.25,247.4 L1421.50,247.0 L1421.75,246.8 L1422.00,246.5 L1422.25,244.7 L1422.50,241.5 L1422.75,238.7 L1423.00,238.6 L1423.25,238.5 L1423.50,237.9 L1423.75,237.8 L1424.00,237.8 L1424.25,237.7 L1424.50,238.1 L1424.75,239.1 L1425.00,240.8 L1425.25,242.5 L1425.50,246.3 L1425.75,250.4 L1426.00,253.9 L1426.25,256.1 L1426.50,258.1 L1426.75,260.1 L1427.00,257.3 L1427.25,254.4 L1427.50,252.5 L1427.75,252.4 L1428.00,252.3 L1428.25,252.3 L1428.50,252.2 L1428.75,252.1 L1429.00,252.1 L1429.25,252.0 L1429.50,251.7 L1429.75,253.6 L1430.00,255.8 L1430.25,257.9 L1430.50,259.8 L1430.75,260.9 L1431.00,262.0 L1431.25,263.1 L1431.50,264.1 L1431.75,265.2 L1432.00,266.3 L1432.25,267.4 L1432.50,269.5 L1432.75,270.6 L1433.00,271.7 L1433.25,272.8 L1433.50,273.6 L1433.75,274.8 L1434.00,275.9 L1434.25,277.0 L1434.50,277.5 L1434.75,276.2 L1435.00,272.7 L1435.25,271.5 L1435.50,271.7 L1435.75,271.6 L1436.00,271.6 L1436.25,271.5 L1436.50,271.2 L1436.75,273.5 L1437.00,275.9 L1437.25,277.9 L1437.50,278.1 L1437.75,278.1 L1438.00,278.1 L1438.25,278.1 L1438.50,278.7 L1438.75,278.7 L1439.00,278.7 L1439.25,278.7 L1439.50,278.6 L1439.75,278.6 L1440.00,278.6 L1440.25,278.6 L1440.50,278.4 L1440.75,278.4 L1441.00,278.4 L1441.25,278.4 L1441.50,278.2 L1441.75,278.2 L1442.00,278.2 L1442.25,278.2 L1442.50,278.6 L1442.75,270.8 L1443.00,263.5 L1443.25,261.5 L1443.50,260.4 L1443.75,260.3 L1444.00,260.2 L1444.25,260.0 L1444.50,259.3 L1444.75,259.2 L1445.00,259.0 L1445.25,258.9 L1445.50,258.2 L1445.75,257.8 L1446.00,257.5 L1446.25,257.4 L1446.50,257.2 L1446.75,257.1 L1447.00,256.9 L1447.25,256.8 L1447.50,256.7 L1447.75,257.9 L1448.00,260.2 L1448.25,262.4 L1448.50,265.7 L1448.75,266.0 L1449.00,266.0 L1449.25,266.0 L1449.50,265.5 L1449.75,265.5 L1450.00,263.7 L1450.25,257.7 L1450.50,254.7 L1450.75,254.7 L1451.00,254.6 L1451.25,254.6 L1451.50,253.7 L1451.75,253.7 L1452.00,253.6 L1452.25,253.6 L1452.50,253.6 L1452.75,254.4 L1453.00,258.9 L1453.25,263.3 L1453.50,267.4 L1453.75,270.2 L1454.00,273.0 L1454.25,274.1 L1454.50,274.3 L1454.75,274.3 L1455.00,274.3 L1455.25,274.3 L1455.50,273.6 L1455.75,273.6 L1456.00,272.6 L1456.25,267.6 L1456.50,264.0 L1456.75,264.0 L1457.00,263.9 L1457.25,263.8 L1457.50,264.7 L1457.75,264.7 L1458.00,264.6 L1458.25,264.6 L1458.50,263.8 L1458.75,267.2 L1459.00,271.3 L1459.25,274.8 L1459.50,276.5 L1459.75,277.6 L1460.00,278.8 L1460.25,280.0 L1460.50,280.4 L1460.75,280.9 L1461.00,280.9 L1461.25,280.9 L1461.50,281.6 L1461.75,281.7 L1462.00,281.7 L1462.25,281.8 L1462.50,282.0 L1462.75,282.0 L1463.00,282.1 L1463.25,282.1 L1463.50,282.0 L1463.75,282.2 L1464.00,282.3 L1464.25,282.4 L1464.50,282.1 L1464.75,282.2 L1465.00,282.3 L1465.25,282.5 L1465.50,283.0 L1465.75,283.2 L1466.00,283.3 L1466.25,283.4 L1466.50,282.8 L1466.75,283.0 L1467.00,283.1 L1467.25,283.2 L1467.50,283.5 L1467.75,283.7 L1468.00,283.8 L1468.25,282.0 L1468.50,280.3 L1468.75,278.5 L1469.00,276.6 L1469.25,274.8 L1469.50,274.2 L1469.75,274.1 L1470.00,274.0 L1470.25,273.8 L1470.50,272.9 L1470.75,272.7 L1471.00,272.6 L1471.25,272.5 L1471.50,268.6 L1471.75,264.5 L1472.00,264.5 L1472.25,264.4 L1472.50,264.3 L1472.75,264.2 L1473.00,264.2 L1473.25,264.1 L1473.50,264.2 L1473.75,264.2 L1474.00,269.1 L1474.25,274.1 L1474.50,278.3 L1474.75,279.0 L1475.00,279.6 L1475.25,280.3 L1475.50,280.8 L1475.75,281.4 L1476.00,281.8 L1476.25,281.8 L1476.50,281.8 L1476.75,281.7 L1477.00,281.7 L1477.25,281.7 L1477.50,282.3 L1477.75,282.3 L1478.00,282.3 L1478.25,282.2 L1478.50,282.4 L1478.75,282.3 L1479.00,282.3 L1479.25,282.2 L1479.50,281.9 L1479.75,281.8 L1480.00,281.8 L1480.25,281.8 L1480.50,281.5 L1480.75,281.4 L1481.00,281.4 L1481.25,281.3 L1481.50,281.1 L1481.75,281.0 L1482.00,280.7 L1482.25,280.0 L1482.50,279.9 L1482.75,279.1 L1483.00,276.9 L1483.25,273.8 L1483.50,270.8 L1483.75,267.7 L1484.00,264.6 L1484.25,261.7 L1484.50,260.7 L1484.75,260.7 L1485.00,260.6 L1485.25,260.6 L1485.50,260.6 L1485.75,260.6 L1486.00,260.5 L1486.25,261.9 L1486.50,264.8 L1486.75,266.8 L1487.00,266.8 L1487.25,266.8 L1487.50,266.8 L1487.75,266.8 L1488.00,266.8 L1488.25,266.8 L1488.50,266.2 L1488.75,266.2 L1489.00,266.2 L1489.25,266.2 L1489.50,267.1 L1489.75,268.6 L1490.00,270.1 L1490.25,271.6 L1490.50,272.0 L1490.75,272.0 L1491.00,272.1 L1491.25,272.2 L1491.50,272.4 L1491.75,271.8 L1492.00,270.2 L1492.25,268.6 L1492.50,267.7 L1492.75,267.7 L1493.00,267.6 L1493.25,267.6 L1493.50,268.4 L1493.75,268.3 L1494.00,268.3 L1494.25,268.2 L1494.50,268.1 L1494.75,269.3 L1495.00,270.4 L1495.25,271.5 L1495.50,272.3 L1495.75,272.3 L1496.00,272.3 L1496.25,272.3 L1496.50,271.6 L1496.75,271.6 L1497.00,271.3 L1497.25,271.0 L1497.50,271.6 L1497.75,271.6 L1498.00,271.6 L1498.25,271.6 L1498.50,271.3 L1498.75,271.3 L1499.00,271.3 L1499.25,272.4 L1499.50,273.4 L1499.50,283.7 L1499.25,286.3 L1499.00,286.4 L1498.75,286.6 L1498.50,286.7 L1498.25,285.7 L1498.00,285.8 L1497.75,286.0 L1497.50,286.1 L1497.25,289.2 L1497.00,289.3 L1496.75,289.5 L1496.50,289.6 L1496.25,285.4 L1496.00,285.5 L1495.75,285.7 L1495.50,285.8 L1495.25,288.2 L1495.00,288.3 L1494.75,289.1 L1494.50,290.2 L1494.25,292.8 L1494.00,293.9 L1493.75,295.0 L1493.50,296.2 L1493.25,298.4 L1493.00,299.3 L1492.75,299.4 L1492.50,299.4 L1492.25,295.9 L1492.00,295.9 L1491.75,296.0 L1491.50,296.1 L1491.25,293.8 L1491.00,293.9 L1490.75,293.9 L1490.50,294.0 L1490.25,296.8 L1490.00,296.9 L1489.75,296.9 L1489.50,297.0 L1489.25,297.5 L1489.00,297.6 L1488.75,297.7 L1488.50,297.8 L1488.25,297.9 L1488.00,298.0 L1487.75,298.1 L1487.50,298.2 L1487.25,299.4 L1487.00,299.5 L1486.75,299.6 L1486.50,299.7 L1486.25,296.6 L1486.00,296.7 L1485.75,296.8 L1485.50,296.9 L1485.25,296.6 L1485.00,296.7 L1484.75,296.8 L1484.50,296.5 L1484.25,295.6 L1484.00,295.2 L1483.75,294.8 L1483.50,294.3 L1483.25,294.5 L1483.00,294.1 L1482.75,293.7 L1482.50,293.3 L1482.25,297.7 L1482.00,297.3 L1481.75,297.3 L1481.50,297.6 L1481.25,298.1 L1481.00,298.4 L1480.75,298.7 L1480.50,298.9 L1480.25,295.8 L1480.00,296.1 L1479.75,296.4 L1479.50,296.7 L1479.25,297.8 L1479.00,298.1 L1478.75,298.3 L1478.50,298.6 L1478.25,295.9 L1478.00,296.0 L1477.75,296.0 L1477.50,296.0 L1477.25,299.2 L1477.00,299.2 L1476.75,299.2 L1476.50,299.2 L1476.25,297.9 L1476.00,297.9 L1475.75,297.9 L1475.50,297.9 L1475.25,301.5 L1475.00,301.5 L1474.75,301.6 L1474.50,301.6 L1474.25,299.3 L1474.00,299.3 L1473.75,299.3 L1473.50,299.3 L1473.25,300.4 L1473.00,300.5 L1472.75,300.5 L1472.50,300.7 L1472.25,300.0 L1472.00,300.4 L1471.75,300.7 L1471.50,301.0 L1471.25,302.4 L1471.00,302.7 L1470.75,303.0 L1470.50,303.5 L1470.25,304.7 L1470.00,307.5 L1469.75,307.9 L1469.50,307.9 L1469.25,312.1 L1469.00,312.1 L1468.75,312.1 L1468.50,312.1 L1468.25,309.5 L1468.00,309.5 L1467.75,309.5 L1467.50,309.5 L1467.25,308.0 L1467.00,307.6 L1466.75,306.2 L1466.50,300.7 L1466.25,304.8 L1466.00,304.8 L1465.75,304.8 L1465.50,304.8 L1465.25,302.1 L1465.00,302.1 L1464.75,307.1 L1464.50,311.7 L1464.25,309.9 L1464.00,309.9 L1463.75,309.9 L1463.50,309.9 L1463.25,313.7 L1463.00,313.7 L1462.75,313.7 L1462.50,313.7 L1462.25,314.7 L1462.00,314.7 L1461.75,314.7 L1461.50,314.7 L1461.25,310.7 L1461.00,310.7 L1460.75,310.7 L1460.50,310.2 L1460.25,304.7 L1460.00,313.9 L1459.75,316.6 L1459.50,317.0 L1459.25,316.6 L1459.00,316.6 L1458.75,316.6 L1458.50,316.6 L1458.25,317.7 L1458.00,317.7 L1457.75,317.7 L1457.50,317.7 L1457.25,315.6 L1457.00,315.6 L1456.75,315.2 L1456.50,311.2 L1456.25,305.0 L1456.00,306.7 L1455.75,310.9 L1455.50,311.4 L1455.25,309.2 L1455.00,309.2 L1454.75,309.2 L1454.50,309.2 L1454.25,311.2 L1454.00,311.2 L1453.75,311.2 L1453.50,311.2 L1453.25,309.7 L1453.00,309.7 L1452.75,309.7 L1452.50,309.7 L1452.25,309.2 L1452.00,302.0 L1451.75,313.0 L1451.50,321.3 L1451.25,320.1 L1451.00,320.1 L1450.75,320.1 L1450.50,320.1 L1450.25,320.1 L1450.00,320.1 L1449.75,320.1 L1449.50,320.1 L1449.25,318.8 L1449.00,318.8 L1448.75,318.8 L1448.50,318.6 L1448.25,318.7 L1448.00,305.8 L1447.75,300.6 L1447.50,306.4 L1447.25,308.4 L1447.00,308.8 L1446.75,308.8 L1446.50,308.8 L1446.25,310.7 L1446.00,310.7 L1445.75,310.7 L1445.50,310.7 L1445.25,308.7 L1445.00,308.7 L1444.75,308.2 L1444.50,300.8 L1444.25,312.3 L1444.00,315.1 L1443.75,315.5 L1443.50,315.5 L1443.25,314.6 L1443.00,314.6 L1442.75,314.6 L1442.50,314.6 L1442.25,314.1 L1442.00,314.1 L1441.75,314.1 L1441.50,314.1 L1441.25,316.6 L1441.00,316.6 L1440.75,303.1 L1440.50,300.1 L1440.25,298.2 L1440.00,298.5 L1439.75,298.5 L1439.50,298.5 L1439.25,298.4 L1439.00,298.4 L1438.75,298.4 L1438.50,298.4 L1438.25,298.7 L1438.00,299.0 L1437.75,302.0 L1437.50,302.8 L1437.25,302.3 L1437.00,302.3 L1436.75,302.3 L1436.50,302.3 L1436.25,302.7 L1436.00,302.8 L1435.75,303.0 L1435.50,303.5 L1435.25,300.3 L1435.00,300.3 L1434.75,300.3 L1434.50,300.3 L1434.25,305.7 L1434.00,305.7 L1433.75,305.7 L1433.50,305.7 L1433.25,304.5 L1433.00,304.5 L1432.75,304.5 L1432.50,304.5 L1432.25,303.9 L1432.00,303.9 L1431.75,303.9 L1431.50,305.6 L1431.25,315.2 L1431.00,318.2 L1430.75,318.5 L1430.50,318.5 L1430.25,319.2 L1430.00,319.2 L1429.75,319.2 L1429.50,319.2 L1429.25,316.0 L1429.00,316.0 L1428.75,316.0 L1428.50,316.0 L1428.25,300.5 L1428.00,303.7 L1427.75,304.8 L1427.50,305.2 L1427.25,307.6 L1427.00,307.6 L1426.75,307.6 L1426.50,307.6 L1426.25,305.5 L1426.00,305.5 L1425.75,305.5 L1425.50,305.5 L1425.25,309.0 L1425.00,309.0 L1424.75,309.0 L1424.50,309.0 L1424.25,305.1 L1424.00,305.1 L1423.75,305.1 L1423.50,305.1 L1423.25,307.8 L1423.00,307.8 L1422.75,307.8 L1422.50,307.8 L1422.25,307.5 L1422.00,307.5 L1421.75,307.5 L1421.50,306.9 L1421.25,308.0 L1421.00,316.9 L1420.75,317.7 L1420.50,318.0 L1420.25,318.3 L1420.00,318.3 L1419.75,318.3 L1419.50,318.3 L1419.25,314.3 L1419.00,314.3 L1418.75,314.3 L1418.50,314.3 L1418.25,318.2 L1418.00,318.2 L1417.75,317.5 L1417.50,315.2 L1417.25,330.3 L1417.00,330.8 L1416.75,331.0 L1416.50,331.0 L1416.25,330.2 L1416.00,330.2 L1415.75,330.2 L1415.50,330.2 L1415.25,331.6 L1415.00,331.6 L1414.75,331.6 L1414.50,331.6 L1414.25,328.0 L1414.00,328.0 L1413.75,327.8 L1413.50,327.3 L1413.25,311.5 L1413.00,301.7 L1412.75,307.5 L1412.50,310.2 L1412.25,311.2 L1412.00,311.2 L1411.75,311.2 L1411.50,311.2 L1411.25,311.0 L1411.00,311.0 L1410.75,302.9 L1410.50,309.2 L1410.25,317.5 L1410.00,318.0 L1409.75,318.1 L1409.50,318.1 L1409.25,316.2 L1409.00,316.2 L1408.75,316.2 L1408.50,316.2 L1408.25,318.0 L1408.00,314.8 L1407.75,317.9 L1407.50,336.4 L1407.25,332.9 L1407.00,333.1 L1406.75,333.1 L1406.50,333.1 L1406.25,334.8 L1406.00,334.8 L1405.75,334.8 L1405.50,334.8 L1405.25,338.1 L1405.00,338.1 L1404.75,328.4 L1404.50,317.3 L1404.25,329.0 L1404.00,329.5 L1403.75,329.6 L1403.50,329.6 L1403.25,329.4 L1403.00,329.4 L1402.75,329.4 L1402.50,329.4 L1402.25,313.9 L1402.00,337.1 L1401.75,339.4 L1401.50,339.7 L1401.25,339.3 L1401.00,339.3 L1400.75,339.3 L1400.50,339.3 L1400.25,337.2 L1400.00,337.2 L1399.75,337.2 L1399.50,337.2 L1399.25,334.8 L1399.00,334.8 L1398.75,334.3 L1398.50,299.6 L1398.25,312.7 L1398.00,317.3 L1397.75,317.8 L1397.50,317.8 L1397.25,315.9 L1397.00,315.9 L1396.75,315.9 L1396.50,315.9 L1396.25,317.1 L1396.00,317.1 L1395.75,317.0 L1395.50,316.4 L1395.25,310.4 L1395.00,324.0 L1394.75,324.5 L1394.50,324.7 L1394.25,326.1 L1394.00,326.1 L1393.75,326.1 L1393.50,326.1 L1393.25,327.3 L1393.00,327.3 L1392.75,327.3 L1392.50,327.3 L1392.25,322.3 L1392.00,322.2 L1391.75,321.7 L1391.50,310.2 L1391.25,303.8 L1391.00,303.8 L1390.75,305.3 L1390.50,339.8 L1390.25,351.4 L1390.00,351.8 L1389.75,351.8 L1389.50,351.8 L1389.25,355.9 L1389.00,355.9 L1388.75,355.9 L1388.50,355.9 L1388.25,353.6 L1388.00,353.6 L1387.75,353.6 L1387.50,353.6 L1387.25,354.6 L1387.00,354.6 L1386.75,354.6 L1386.50,354.6 L1386.25,355.2 L1386.00,355.2 L1385.75,355.2 L1385.50,355.2 L1385.25,353.7 L1385.00,353.7 L1384.75,353.7 L1384.50,353.4 L1384.25,353.2 L1384.00,318.7 L1383.75,304.7 L1383.50,304.7 L1383.25,304.8 L1383.00,304.8 L1382.75,304.8 L1382.50,304.8 L1382.25,300.3 L1382.00,300.0 L1381.75,300.5 L1381.50,300.6 L1381.25,299.2 L1381.00,299.2 L1380.75,299.2 L1380.50,299.2 L1380.25,303.1 L1380.00,303.1 L1379.75,303.1 L1379.50,303.1 L1379.25,300.4 L1379.00,300.1 L1378.75,300.4 L1378.50,325.6 L1378.25,344.7 L1378.00,345.2 L1377.75,345.3 L1377.50,345.3 L1377.25,347.7 L1377.00,347.7 L1376.75,347.7 L1376.50,347.7 L1376.25,345.5 L1376.00,345.5 L1375.75,345.5 L1375.50,345.5 L1375.25,348.9 L1375.00,348.9 L1374.75,348.9 L1374.50,348.9 L1374.25,348.6 L1374.00,348.6 L1373.75,348.6 L1373.50,305.0 L1373.25,312.1 L1373.00,313.0 L1372.75,313.3 L1372.50,313.3 L1372.25,309.9 L1372.00,309.9 L1371.75,309.9 L1371.50,309.9 L1371.25,302.4 L1371.00,315.4 L1370.75,320.1 L1370.50,320.5 L1370.25,324.4 L1370.00,324.4 L1369.75,324.4 L1369.50,324.4 L1369.25,321.3 L1369.00,321.3 L1368.75,321.3 L1368.50,321.3 L1368.25,320.4 L1368.00,320.4 L1367.75,320.0 L1367.50,315.6 L1367.25,306.0 L1367.00,303.8 L1366.75,303.8 L1366.50,312.5 L1366.25,321.8 L1366.00,322.3 L1365.75,322.5 L1365.50,322.5 L1365.25,321.9 L1365.00,321.9 L1364.75,321.9 L1364.50,321.9 L1364.25,324.7 L1364.00,324.7 L1363.75,324.7 L1363.50,324.7 L1363.25,323.2 L1363.00,322.7 L1362.75,311.5 L1362.50,301.1 L1362.25,301.5 L1362.00,302.0 L1361.75,310.2 L1361.50,314.0 L1361.25,312.1 L1361.00,312.1 L1360.75,312.1 L1360.50,312.1 L1360.25,314.2 L1360.00,314.2 L1359.75,314.2 L1359.50,314.2 L1359.25,316.0 L1359.00,316.0 L1358.75,316.0 L1358.50,316.0 L1358.25,315.3 L1358.00,315.3 L1357.75,315.3 L1357.50,314.8 L1357.25,311.7 L1357.00,303.6 L1356.75,303.6 L1356.50,303.6 L1356.25,302.0 L1356.00,301.4 L1355.75,301.9 L1355.50,302.0 L1355.25,298.9 L1355.00,298.9 L1354.75,298.9 L1354.50,311.7 L1354.25,344.6 L1354.00,348.2 L1353.75,348.5 L1353.50,348.5 L1353.25,345.9 L1353.00,345.9 L1352.75,345.9 L1352.50,345.9 L1352.25,345.7 L1352.00,345.7 L1351.75,345.7 L1351.50,345.7 L1351.25,348.6 L1351.00,348.6 L1350.75,348.6 L1350.50,348.6 L1350.25,347.2 L1350.00,347.2 L1349.75,347.2 L1349.50,347.2 L1349.25,347.0 L1349.00,300.2 L1348.75,299.7 L1348.50,299.8 L1348.25,299.8 L1348.00,299.8 L1347.75,299.8 L1347.50,299.8 L1347.25,303.7 L1347.00,303.7 L1346.75,303.7 L1346.50,303.4 L1346.25,299.8 L1346.00,300.3 L1345.75,302.5 L1345.50,316.1 L1345.25,320.3 L1345.00,320.7 L1344.75,320.7 L1344.50,320.7 L1344.25,323.5 L1344.00,323.5 L1343.75,323.5 L1343.50,323.5 L1343.25,322.0 L1343.00,322.0 L1342.75,321.5 L1342.50,305.9 L1342.25,336.9 L1342.00,346.7 L1341.75,347.1 L1341.50,347.1 L1341.25,346.9 L1341.00,346.9 L1340.75,346.9 L1340.50,346.9 L1340.25,346.4 L1340.00,346.4 L1339.75,346.4 L1339.50,346.4 L1339.25,302.4 L1339.00,307.5 L1338.75,309.4 L1338.50,309.8 L1338.25,308.3 L1338.00,308.3 L1337.75,308.3 L1337.50,308.3 L1337.25,307.7 L1337.00,299.3 L1336.75,317.0 L1336.50,328.5 L1336.25,331.8 L1336.00,331.8 L1335.75,331.8 L1335.50,331.8 L1335.25,329.0 L1335.00,329.0 L1334.75,329.0 L1334.50,329.0 L1334.25,329.0 L1334.00,329.0 L1333.75,329.0 L1333.50,329.0 L1333.25,331.2 L1333.00,330.9 L1332.75,326.3 L1332.50,306.8 L1332.25,304.2 L1332.00,304.2 L1331.75,304.2 L1331.50,304.2 L1331.25,299.2 L1331.00,299.2 L1330.75,299.2 L1330.50,299.2 L1330.25,303.6 L1330.00,304.9 L1329.75,305.4 L1329.50,305.5 L1329.25,303.0 L1329.00,303.0 L1328.75,303.0 L1328.50,303.0 L1328.25,307.6 L1328.00,307.6 L1327.75,307.6 L1327.50,307.3 L1327.25,304.9 L1327.00,302.9 L1326.75,301.9 L1326.50,301.9 L1326.25,304.7 L1326.00,304.7 L1325.75,304.7 L1325.50,304.7 L1325.25,299.8 L1325.00,299.8 L1324.75,303.3 L1324.50,307.5 L1324.25,310.2 L1324.00,310.3 L1323.75,310.3 L1323.50,310.3 L1323.25,309.0 L1323.00,309.0 L1322.75,309.0 L1322.50,309.0 L1322.25,311.7 L1322.00,311.7 L1321.75,307.8 L1321.50,314.5 L1321.25,322.7 L1321.00,323.2 L1320.75,323.3 L1320.50,323.3 L1320.25,323.3 L1320.00,323.3 L1319.75,323.3 L1319.50,323.3 L1319.25,328.0 L1319.00,328.0 L1318.75,328.0 L1318.50,328.0 L1318.25,327.0 L1318.00,326.5 L1317.75,312.8 L1317.50,303.5Z" fill="#000" clip-path="url(#c1)"/>
<line x1="1231.00" y1="282.00" x2="1800.00" y2="282.00" stroke="#000" stroke-width="2.08" stroke-dasharray="2.08 3.44"/>
<line x1="1231.00" y1="153.50" x2="1236.56" y2="153.50" stroke="#000" stroke-width="1.0"/>
<line x1="1231.00" y1="196.50" x2="1236.56" y2="196.50" stroke="#000" stroke-width="1.0"/>
<line x1="1231.00" y1="239.50" x2="1236.56" y2="239.50" stroke="#000" stroke-width="1.0"/>
<line x1="1231.00" y1="282.50" x2="1236.56" y2="282.50" stroke="#000" stroke-width="1.0"/>
<line x1="1231.00" y1="325.50" x2="1236.56" y2="325.50" stroke="#000" stroke-width="1.0"/>
<line x1="1231.00" y1="368.50" x2="1236.56" y2="368.50" stroke="#000" stroke-width="1.0"/>
<line x1="1231.00" y1="411.50" x2="1236.56" y2="411.50" stroke="#000" stroke-width="1.0"/>
<path d="M1231.3,295.9 L1231.9,308.1 L1232.7,294.6 L1233.4,312.2 L1233.9,294.7 L1234.6,307.9 L1234.9,291.1 L1235.4,310.2 L1236.0,288.8 L1236.4,311.5 L1237.1,291.9 L1237.5,308.4 L1237.9,290.7 L1238.3,312.3 L1239.0,288.2 L1239.4,306.8 L1240.1,288.0 L1240.9,311.0 L1241.5,289.8 L1242.3,317.7 L1243.0,297.8 L1243.5,321.0 L1243.9,291.8 L1244.3,320.9 L1244.8,290.7 L1245.5,319.9 L1245.9,296.3 L1246.5,319.4 L1247.0,296.4 L1247.4,314.2 L1247.7,297.5 L1248.4,319.0 L1249.1,294.6 L1249.7,317.3 L1250.0,293.2 L1250.8,315.6 L1251.4,296.7 L1252.2,318.5 L1252.7,292.4 L1253.3,322.6 L1254.0,291.2 L1254.7,331.0 L1255.5,284.2 L1255.9,315.0 L1256.7,296.0 L1257.4,310.3 L1257.9,300.0 L1258.3,310.8 L1258.7,303.4 L1259.5,310.6 L1259.8,305.2 L1260.4,310.8 L1260.8,304.9 L1261.5,311.2 L1262.0,304.8 L1262.7,312.5 L1263.3,306.2 L1263.7,312.2 L1264.4,305.6 L1265.1,314.8 L1265.6,304.4 L1266.3,315.9 L1266.9,307.0 L1267.6,316.1 L1268.1,304.8 L1268.7,321.3 L1269.2,303.9 L1269.6,321.2 L1270.4,305.1 L1271.0,318.8 L1271.4,299.1 L1271.9,316.4 L1272.6,301.8 L1273.3,316.9 L1273.9,305.9 L1274.6,318.9 L1275.2,306.0 L1275.8,317.9 L1276.4,306.9 L1277.1,318.9 L1277.7,306.4 L1278.3,322.4 L1278.9,306.9 L1279.6,323.1 L1280.3,305.6 L1280.9,321.3 L1281.6,304.7 L1282.3,318.4 L1282.9,307.7 L1283.7,321.4 L1284.3,305.7 L1285.0,320.9 L1285.5,309.4 L1286.1,322.1 L1286.5,310.9 L1287.1,322.0 L1287.6,311.5 L1288.3,322.0 L1289.0,309.8 L1289.4,323.6 L1290.0,309.5 L1290.6,323.9 L1291.0,309.0 L1291.4,324.3 L1291.8,305.2 L1292.2,322.1 L1292.5,302.9 L1293.0,318.3 L1293.6,298.1 L1294.3,319.0 L1294.9,296.6 L1295.4,318.1 L1296.1,295.5 L1296.4,315.0 L1296.8,295.8 L1297.3,314.7 L1298.0,296.8 L1298.5,312.3 L1299.1,293.0 L1299.5,312.2 L1300.1,294.9 L1300.9,309.5 L1301.3,291.9 L1301.7,310.2 L1302.3,288.8 L1302.6,307.1 L1303.4,286.3 L1303.9,308.4 L1304.3,289.4 L1304.8,303.2 L1305.6,284.1 L1306.0,302.4 L1306.6,280.7 L1307.0,301.9 L1307.6,279.2 L1308.1,311.8 L1308.7,281.2 L1309.2,310.0 L1309.9,279.3 L1310.4,312.8 L1311.2,280.3 L1311.6,305.8 L1312.0,279.3 L1312.5,298.4 L1313.0,273.3 L1313.6,294.2 L1314.0,272.8 L1314.5,293.8 L1314.9,268.3 L1315.5,292.4 L1316.0,270.9 L1316.6,295.8 L1317.0,268.9 L1317.8,291.6 L1318.3,268.4M1498.5,307.9 L1499.1,316.0 L1499.7,308.9 L1500.4,316.6 L1500.9,309.0 L1501.3,317.6 L1502.0,305.1 L1502.7,317.0 L1503.3,307.3 L1503.9,316.6 L1504.3,309.3 L1504.9,318.2 L1505.4,308.5 L1506.0,317.8 L1506.3,308.3 L1507.0,318.4 L1507.6,307.6 L1508.3,318.2 L1509.0,309.0 L1509.4,319.4 L1509.8,308.6 L1510.6,320.5 L1511.0,308.9 L1511.7,322.7 L1512.3,310.9 L1512.7,321.8 L1513.0,310.4 L1513.5,323.1 L1513.9,311.3 L1514.6,320.7 L1514.9,310.5 L1515.4,321.5 L1516.0,311.8 L1516.5,320.8 L1517.1,308.8 L1517.7,319.1 L1518.4,311.8 L1519.0,320.6 L1519.6,313.1 L1520.3,321.1 L1520.7,313.7 L1521.1,321.4 L1521.6,315.0 L1522.2,323.7 L1522.8,314.2 L1523.2,323.5 L1523.6,316.1 L1524.2,324.9 L1524.8,314.1 L1525.5,325.4 L1525.9,316.4 L1526.5,324.3 L1526.9,316.3 L1527.5,322.3 L1527.9,315.2 L1528.4,323.4 L1528.9,315.1 L1529.4,322.8 L1529.7,315.6 L1530.4,321.7 L1530.9,315.4 L1531.4,322.2 L1532.0,314.8 L1532.5,323.1 L1532.9,313.2 L1533.2,321.4 L1533.8,314.0 L1534.1,322.9 L1534.8,313.0 L1535.3,323.2 L1535.7,312.1 L1536.1,323.5 L1536.6,315.2 L1537.0,323.8 L1537.5,314.4 L1537.9,323.9 L1538.4,315.3 L1539.2,324.4 L1539.9,317.5 L1540.6,325.1 L1541.3,317.3 L1541.9,325.6 L1542.6,319.1 L1543.0,325.8 L1543.3,318.7 L1543.7,325.5 L1544.4,319.3 L1544.9,325.4 L1545.3,320.2 L1546.0,325.8 L1546.4,320.3 L1547.2,324.6 L1547.7,320.7 L1548.0,324.7 L1548.7,319.8 L1549.0,323.4 L1549.8,310.8 L1550.3,323.1 L1550.7,317.9 L1551.2,322.7 L1551.5,320.7 L1551.9,323.6 L1552.3,321.0 L1552.8,324.3 L1553.1,321.2 L1553.9,325.2 L1554.4,322.2 L1555.0,326.0 L1555.5,322.7 L1556.0,326.0 L1556.6,323.6 L1557.0,326.5 L1557.6,322.5 L1558.2,325.9 L1558.8,322.1 L1559.5,325.5 L1560.1,321.3 L1560.5,325.3 L1561.0,319.8 L1561.6,324.9 L1562.1,321.0 L1562.5,327.8 L1562.8,322.6 L1563.4,330.2 L1563.8,324.5 L1564.1,331.0 L1564.6,325.0 L1565.0,331.5 L1565.4,326.8 L1566.0,331.8 L1566.6,328.1 L1567.2,333.8 L1567.9,328.8 L1568.6,334.6 L1569.3,329.0 L1570.0,335.5 L1570.3,329.1 L1570.8,335.7 L1571.4,329.7 L1571.7,335.0 L1572.3,330.2 L1572.7,336.5 L1573.2,332.1 L1573.9,336.8 L1574.3,332.6 L1574.8,337.8 L1575.2,333.1 L1575.8,337.9 L1576.2,333.4 L1576.6,338.4 L1577.2,334.5 L1577.8,339.7 L1578.3,334.8 L1578.8,339.7 L1579.4,334.9 L1580.1,340.0 L1580.9,334.5 L1581.2,339.7 L1581.7,333.5 L1582.5,341.3 L1583.1,333.3 L1583.8,341.2 L1584.2,331.8 L1584.7,341.0 L1585.1,332.3 L1585.6,341.6 L1586.0,333.8 L1586.7,340.1 L1587.3,333.7 L1587.7,340.1 L1588.3,334.8 L1588.7,340.1 L1589.3,335.1 L1589.7,338.7 L1590.2,334.0 L1590.9,338.3 L1591.6,331.9 L1591.9,337.6 L1592.5,330.6 L1593.0,337.2 L1593.4,329.5 L1593.9,336.6 L1594.5,328.0 L1595.3,335.5 L1596.0,330.6 L1596.6,337.6 L1597.3,332.9 L1597.9,338.4 L1598.4,334.3 L1598.8,339.8 L1599.3,335.7 L1600.0,339.8 L1600.4,337.1 L1600.9,339.9 L1601.2,337.2 L1601.9,339.1 L1602.6,329.5 L1603.3,334.5 L1603.9,315.6 L1604.4,325.0 L1604.9,313.4 L1605.4,325.5 L1605.8,308.6 L1606.2,322.8 L1606.9,309.7 L1607.5,321.9 L1607.9,307.8 L1608.5,319.0 L1609.0,307.8 L1609.4,319.1 L1609.8,305.7 L1610.6,317.5 L1611.2,304.8 L1611.6,315.9 L1612.2,304.3 L1612.9,316.0 L1613.4,301.7 L1614.0,316.6 L1614.4,300.0 L1615.0,316.7 L1615.4,295.3 L1615.8,320.1 L1616.4,292.5 L1616.8,313.5 L1617.4,293.4 L1618.1,303.1 L1618.6,292.6 L1619.4,301.8 L1620.1,291.8 L1620.8,301.6 L1621.5,293.4 L1622.0,308.1 L1622.4,291.8 L1622.8,312.1 L1623.4,292.4 L1624.1,312.4 L1624.7,293.9 L1625.4,309.8 L1626.1,286.4 L1626.9,307.0 L1627.3,276.4 L1627.7,301.8 L1628.2,282.0 L1628.9,305.6 L1629.4,289.8 L1629.9,306.5 L1630.5,291.2 L1631.1,305.0 L1631.9,294.9 L1632.2,305.9 L1632.9,290.0 L1633.3,311.4 L1633.7,291.1 L1634.5,311.5 L1634.9,287.1 L1635.6,304.1 L1636.1,284.0 L1636.6,300.8 L1637.2,282.2 L1637.7,303.4 L1638.3,281.1 L1638.8,303.1 L1639.3,285.6 L1639.9,302.6 L1640.6,281.2 L1641.1,300.8 L1641.4,284.9 L1641.9,306.1 L1642.4,283.7 L1642.9,307.2 L1643.2,283.1 L1644.0,311.6 L1644.5,283.4 L1645.0,306.6 L1645.6,285.8 L1646.0,307.8 L1646.6,285.4 L1647.2,301.2 L1647.8,287.3 L1648.2,306.8 L1648.8,287.2 L1649.6,305.3 L1650.3,286.2 L1651.1,304.4 L1651.8,279.3 L1652.5,305.0 L1653.2,283.7 L1653.6,304.4 L1654.1,280.9 L1654.5,302.4 L1654.9,281.1 L1655.5,304.8 L1656.0,286.2 L1656.7,303.6 L1657.0,286.1 L1657.8,301.2 L1658.2,283.9 L1658.9,298.9 L1659.2,285.2 L1659.8,301.5 L1660.4,287.2 L1661.1,301.7 L1661.7,290.7 L1662.3,303.4 L1662.7,290.0 L1663.2,303.8 L1663.7,290.2 L1664.5,307.2 L1665.0,288.2 L1665.6,307.4 L1666.0,288.8 L1666.6,311.9 L1667.3,282.2 L1667.9,307.3 L1668.5,273.3 L1669.1,311.8 L1669.6,279.6 L1669.9,312.7 L1670.5,285.9 L1671.2,314.5 L1671.8,284.7 L1672.5,308.8 L1673.3,276.3 L1673.7,309.5 L1674.0,279.2 L1674.7,317.0 L1675.2,288.9 L1675.6,319.1 L1676.3,283.2 L1676.8,318.4 L1677.4,282.7 L1677.9,319.5 L1678.3,283.9 L1678.7,310.6 L1679.1,282.4 L1679.8,306.0 L1680.3,284.7 L1680.9,301.3 L1681.5,281.1 L1681.9,297.8 L1682.4,285.8 L1682.9,300.8 L1683.2,285.9 L1683.8,300.5 L1684.1,287.1 L1684.7,297.6 L1685.0,286.6 L1685.4,298.4 L1686.0,287.3 L1686.4,297.6 L1686.8,285.6 L1687.4,304.8 L1687.8,286.2 L1688.4,304.3 L1689.1,284.6 L1689.7,308.1 L1690.1,289.5 L1690.5,314.5 L1690.8,290.4 L1691.4,310.5 L1691.9,285.6 L1692.4,314.8 L1693.1,284.9 L1693.5,314.3 L1693.8,285.7 L1694.4,315.5 L1694.8,283.2 L1695.4,318.5 L1695.9,285.4 L1696.6,317.7 L1697.1,282.4 L1697.7,306.6 L1698.2,280.9 L1698.8,308.3 L1699.4,274.2 L1699.8,312.8 L1700.3,279.4 L1700.8,308.1 L1701.4,278.9 L1701.8,305.1 L1702.2,269.5 L1702.8,302.0 L1703.4,268.4 L1704.2,303.9 L1704.8,271.8 L1705.2,301.6 L1705.7,264.9 L1706.1,297.1 L1706.6,272.2 L1706.9,300.9 L1707.3,274.6 L1708.0,295.9 L1708.6,269.7 L1709.1,304.4 L1709.4,272.7 L1709.9,307.7 L1710.4,277.1 L1711.2,307.3 L1711.6,274.9 L1711.9,303.8 L1712.3,277.2 L1712.9,301.2 L1713.3,272.4 L1714.1,297.7 L1714.5,272.5 L1715.2,295.8 L1715.9,276.0 L1716.3,291.2 L1716.9,272.0 L1717.2,289.8 L1717.8,273.9 L1718.5,291.4 L1719.1,270.7 L1719.7,297.8 L1720.3,265.7 L1720.9,299.1 L1721.3,262.2 L1721.9,297.9 L1722.7,250.2 L1723.1,293.2 L1723.6,249.3 L1724.3,289.3 L1725.0,241.8 L1725.6,286.8 L1726.0,241.2 L1726.7,292.2 L1727.4,244.9 L1727.9,289.3 L1728.5,256.2" fill="none" stroke="#ff0000" stroke-width="2.6" stroke-linejoin="round" stroke-linecap="butt" clip-path="url(#c1)"/><path d="M1317.50,272.5 L1317.75,272.5 L1318.00,272.4 L1318.25,267.4 L1318.50,267.7 L1318.75,267.6 L1319.00,267.6 L1319.25,267.6 L1319.50,268.1 L1319.75,268.0 L1320.00,267.9 L1320.25,267.8 L1320.50,266.7 L1320.75,266.6 L1321.00,266.4 L1321.25,266.3 L1321.50,266.4 L1321.75,266.3 L1322.00,266.2 L1322.25,266.1 L1322.50,265.7 L1322.75,265.4 L1323.00,265.2 L1323.25,264.9 L1323.50,265.0 L1323.75,264.8 L1324.00,264.5 L1324.25,264.3 L1324.50,264.9 L1324.75,265.1 L1325.00,265.3 L1325.25,265.4 L1325.50,265.1 L1325.75,265.3 L1326.00,265.4 L1326.25,265.6 L1326.50,266.1 L1326.75,266.3 L1327.00,266.5 L1327.25,266.6 L1327.50,266.1 L1327.75,266.3 L1328.00,266.4 L1328.25,266.6 L1328.50,267.7 L1328.75,267.0 L1329.00,266.4 L1329.25,265.7 L1329.50,264.0 L1329.75,263.3 L1330.00,262.3 L1330.25,261.2 L1330.50,260.1 L1330.75,258.9 L1331.00,257.7 L1331.25,256.6 L1331.50,256.8 L1331.75,256.4 L1332.00,256.1 L1332.25,255.8 L1332.50,255.9 L1332.75,256.0 L1333.00,256.5 L1333.25,257.0 L1333.50,257.4 L1333.75,257.9 L1334.00,258.4 L1334.25,257.7 L1334.50,257.2 L1334.75,256.5 L1335.00,255.9 L1335.25,255.8 L1335.50,255.4 L1335.75,255.2 L1336.00,255.1 L1336.25,255.0 L1336.50,254.3 L1336.75,254.2 L1337.00,252.5 L1337.25,250.5 L1337.50,248.6 L1337.75,246.8 L1338.00,246.5 L1338.25,246.2 L1338.50,246.3 L1338.75,246.0 L1339.00,245.7 L1339.25,245.4 L1339.50,241.7 L1339.75,237.9 L1340.00,236.3 L1340.25,236.2 L1340.50,236.8 L1340.75,236.7 L1341.00,236.5 L1341.25,236.4 L1341.50,237.0 L1341.75,239.1 L1342.00,241.3 L1342.25,241.9 L1342.50,241.6 L1342.75,241.5 L1343.00,241.4 L1343.25,241.3 L1343.50,240.8 L1343.75,240.6 L1344.00,246.5 L1344.25,247.8 L1344.50,248.7 L1344.75,244.4 L1345.00,245.7 L1345.25,246.5 L1345.50,246.6 L1345.75,246.6 L1346.00,246.6 L1346.25,246.6 L1346.50,246.6 L1346.75,246.6 L1347.00,246.6 L1347.25,247.0 L1347.50,247.4 L1347.75,247.7 L1348.00,248.0 L1348.25,248.4 L1348.50,257.8 L1348.75,255.0 L1349.00,252.2 L1349.25,250.7 L1349.50,240.4 L1349.75,240.4 L1350.00,246.2 L1350.25,246.1 L1350.50,245.6 L1350.75,239.7 L1351.00,239.6 L1351.25,240.5 L1351.50,243.9 L1351.75,246.5 L1352.00,249.2 L1352.25,250.3 L1352.50,261.4 L1352.75,261.7 L1353.00,261.9 L1353.25,251.2 L1353.50,251.6 L1353.75,251.9 L1354.00,252.6 L1354.25,255.4 L1354.50,257.3 L1354.75,260.1 L1355.00,260.4 L1355.25,258.4 L1355.50,256.9 L1355.75,254.9 L1356.00,252.9 L1356.25,250.8 L1356.50,248.7 L1356.75,246.7 L1357.00,245.2 L1357.25,245.1 L1357.50,244.6 L1357.75,244.5 L1358.00,244.3 L1358.25,244.2 L1358.50,244.1 L1358.75,244.1 L1359.00,244.3 L1359.25,244.5 L1359.50,245.3 L1359.75,245.5 L1360.00,245.6 L1360.25,245.8 L1360.50,245.7 L1360.75,245.6 L1361.00,245.5 L1361.25,245.4 L1361.50,245.7 L1361.75,245.7 L1362.00,245.2 L1362.25,244.5 L1362.50,243.3 L1362.75,242.6 L1363.00,241.9 L1363.25,241.3 L1363.50,241.7 L1363.75,241.6 L1364.00,241.4 L1364.25,241.3 L1364.50,241.2 L1364.75,241.1 L1365.00,241.0 L1365.25,238.1 L1365.50,234.0 L1365.75,230.0 L1366.00,226.0 L1366.25,225.9 L1366.50,226.0 L1366.75,225.9 L1367.00,225.9 L1367.25,225.8 L1367.50,225.5 L1367.75,226.3 L1368.00,229.1 L1368.25,231.9 L1368.50,234.4 L1368.75,237.2 L1369.00,238.2 L1369.25,239.0 L1369.50,239.5 L1369.75,240.1 L1370.00,239.9 L1370.25,239.6 L1370.50,240.1 L1370.75,239.9 L1371.00,239.8 L1371.25,239.7 L1371.50,238.7 L1371.75,238.6 L1372.00,238.5 L1372.25,238.4 L1372.50,238.6 L1372.75,238.5 L1373.00,238.0 L1373.25,235.3 L1373.50,232.4 L1373.75,231.2 L1374.00,231.1 L1374.25,231.1 L1374.50,231.5 L1374.75,231.4 L1375.00,231.4 L1375.25,231.3 L1375.50,236.5 L1375.75,241.8 L1376.00,247.1 L1376.25,247.7 L1376.50,247.1 L1376.75,247.3 L1377.00,247.5 L1377.25,247.5 L1377.50,257.4 L1377.75,257.3 L1378.00,257.2 L1378.25,247.7 L1378.50,247.5 L1378.75,247.4 L1379.00,240.8 L1379.25,235.3 L1379.50,235.0 L1379.75,234.9 L1380.00,234.9 L1380.25,234.8 L1380.50,234.1 L1380.75,234.1 L1381.00,237.7 L1381.25,243.3 L1381.50,250.2 L1381.75,256.9 L1382.00,262.0 L1382.25,260.9 L1382.50,259.3 L1382.75,258.2 L1383.00,257.1 L1383.25,255.9 L1383.50,255.2 L1383.75,254.6 L1384.00,254.4 L1384.25,254.2 L1384.50,253.6 L1384.75,253.4 L1385.00,264.3 L1385.25,264.1 L1385.50,264.5 L1385.75,253.4 L1386.00,253.4 L1386.25,253.3 L1386.50,253.0 L1386.75,253.0 L1387.00,252.9 L1387.25,252.9 L1387.50,252.1 L1387.75,252.0 L1388.00,252.4 L1388.25,252.9 L1388.50,253.5 L1388.75,254.0 L1389.00,254.5 L1389.25,255.0 L1389.50,256.6 L1389.75,257.3 L1390.00,257.9 L1390.25,258.6 L1390.50,263.1 L1390.75,262.8 L1391.00,262.2 L1391.25,261.5 L1391.50,256.4 L1391.75,255.7 L1392.00,255.1 L1392.25,255.2 L1392.50,254.9 L1392.75,255.0 L1393.00,255.1 L1393.25,255.3 L1393.50,256.2 L1393.75,256.4 L1394.00,258.3 L1394.25,261.0 L1394.50,264.0 L1394.75,266.7 L1395.00,267.9 L1395.25,265.1 L1395.50,262.4 L1395.75,255.7 L1396.00,239.7 L1396.25,230.8 L1396.50,229.7 L1396.75,229.7 L1397.00,229.6 L1397.25,229.6 L1397.50,241.5 L1397.75,241.4 L1398.00,241.4 L1398.25,241.3 L1398.50,230.6 L1398.75,238.3 L1399.00,245.9 L1399.25,253.5 L1399.50,258.0 L1399.75,258.2 L1400.00,258.4 L1400.25,258.6 L1400.50,258.8 L1400.75,259.0 L1401.00,259.2 L1401.25,259.4 L1401.50,259.8 L1401.75,260.1 L1402.00,260.5 L1402.25,260.9 L1402.50,261.2 L1402.75,261.6 L1403.00,262.0 L1403.25,262.4 L1403.50,262.8 L1403.75,263.2 L1404.00,263.6 L1404.25,263.6 L1404.50,263.6 L1404.75,263.5 L1405.00,263.5 L1405.25,263.4 L1405.50,264.0 L1405.75,263.9 L1406.00,263.9 L1406.25,263.9 L1406.50,262.9 L1406.75,262.8 L1407.00,262.9 L1407.25,263.1 L1407.50,263.3 L1407.75,263.5 L1408.00,263.6 L1408.25,263.8 L1408.50,264.9 L1408.75,265.5 L1409.00,266.7 L1409.25,268.0 L1409.50,268.5 L1409.75,268.9 L1410.00,268.9 L1410.25,268.9 L1410.50,269.4 L1410.75,269.4 L1411.00,269.4 L1411.25,269.4 L1411.50,269.8 L1411.75,269.8 L1412.00,269.8 L1412.25,269.8 L1412.50,268.5 L1412.75,268.3 L1413.00,268.2 L1413.25,268.0 L1413.50,268.8 L1413.75,268.7 L1414.00,267.7 L1414.25,266.7 L1414.50,264.6 L1414.75,263.6 L1415.00,262.6 L1415.25,261.6 L1415.50,261.3 L1415.75,260.3 L1416.00,259.3 L1416.25,258.9 L1416.50,258.7 L1416.75,258.6 L1417.00,258.4 L1417.25,258.3 L1417.50,258.5 L1417.75,258.4 L1418.00,258.5 L1418.25,259.0 L1418.50,259.7 L1418.75,260.3 L1419.00,260.8 L1419.25,261.4 L1419.50,260.9 L1419.75,262.1 L1420.00,263.8 L1420.25,265.5 L1420.50,267.2 L1420.75,267.5 L1421.00,260.5 L1421.25,255.6 L1421.50,256.3 L1421.75,256.2 L1422.00,256.2 L1422.25,256.1 L1422.50,256.2 L1422.75,256.2 L1423.00,256.1 L1423.25,256.1 L1423.50,255.3 L1423.75,255.8 L1424.00,256.4 L1424.25,257.0 L1424.50,258.2 L1424.75,258.7 L1425.00,259.3 L1425.25,259.8 L1425.50,267.0 L1425.75,269.0 L1426.00,271.0 L1426.25,266.6 L1426.50,264.6 L1426.75,261.6 L1427.00,258.6 L1427.25,256.1 L1427.50,256.7 L1427.75,256.6 L1428.00,256.5 L1428.25,256.4 L1428.50,256.0 L1428.75,255.9 L1429.00,255.8 L1429.25,254.9 L1429.50,253.6 L1429.75,252.4 L1430.00,251.4 L1430.25,251.4 L1430.50,251.0 L1430.75,251.0 L1431.00,251.0 L1431.25,251.0 L1431.50,251.7 L1431.75,251.7 L1432.00,251.7 L1432.25,251.7 L1432.50,251.4 L1432.75,251.4 L1433.00,256.0 L1433.25,260.8 L1433.50,264.7 L1433.75,268.7 L1434.00,273.2 L1434.25,274.0 L1434.50,275.8 L1434.75,276.7 L1435.00,274.0 L1435.25,274.9 L1435.50,275.6 L1435.75,275.7 L1436.00,275.6 L1436.25,275.4 L1436.50,275.2 L1436.75,275.0 L1437.00,274.9 L1437.25,274.8 L1437.50,274.5 L1437.75,274.1 L1438.00,273.7 L1438.25,273.3 L1438.50,272.8 L1438.75,272.4 L1439.00,272.0 L1439.25,271.6 L1439.50,271.1 L1439.75,270.7 L1440.00,270.5 L1440.25,270.3 L1440.50,270.8 L1440.75,270.6 L1441.00,270.4 L1441.25,270.2 L1441.50,269.9 L1441.75,269.7 L1442.00,269.5 L1442.25,269.5 L1442.50,268.7 L1442.75,268.7 L1443.00,268.7 L1443.25,268.7 L1443.50,269.5 L1443.75,269.5 L1444.00,270.3 L1444.25,272.0 L1444.50,273.8 L1444.75,275.6 L1445.00,275.0 L1445.25,273.5 L1445.50,274.9 L1445.75,273.4 L1446.00,273.4 L1446.25,273.4 L1446.50,269.7 L1446.75,269.7 L1447.00,269.7 L1447.25,270.1 L1447.50,271.1 L1447.75,271.9 L1448.00,272.7 L1448.25,273.6 L1448.50,274.3 L1448.75,274.5 L1449.00,274.6 L1449.25,274.7 L1449.50,275.6 L1449.75,275.7 L1450.00,275.8 L1450.25,275.9 L1450.50,276.0 L1450.75,276.1 L1451.00,276.2 L1451.25,276.2 L1451.50,275.1 L1451.75,274.1 L1452.00,273.1 L1452.25,272.1 L1452.50,271.3 L1452.75,271.1 L1453.00,270.9 L1453.25,270.7 L1453.50,270.5 L1453.75,270.3 L1454.00,270.1 L1454.25,270.1 L1454.50,270.5 L1454.75,270.6 L1455.00,270.7 L1455.25,270.8 L1455.50,270.5 L1455.75,270.6 L1456.00,270.7 L1456.25,270.8 L1456.50,279.6 L1456.75,279.7 L1457.00,280.1 L1457.25,272.5 L1457.50,272.7 L1457.75,273.3 L1458.00,274.0 L1458.25,274.6 L1458.50,275.0 L1458.75,276.1 L1459.00,277.4 L1459.25,278.6 L1459.50,280.0 L1459.75,281.0 L1460.00,281.5 L1460.25,282.0 L1460.50,282.7 L1460.75,283.2 L1461.00,283.7 L1461.25,284.2 L1461.50,285.2 L1461.75,284.9 L1462.00,284.7 L1462.25,284.4 L1462.50,283.7 L1462.75,283.4 L1463.00,283.2 L1463.25,282.9 L1463.50,283.4 L1463.75,283.9 L1464.00,284.4 L1464.25,284.9 L1464.50,285.1 L1464.75,285.6 L1465.00,286.1 L1465.25,286.6 L1465.50,286.5 L1465.75,286.8 L1466.00,287.0 L1466.25,287.3 L1466.50,287.5 L1466.75,287.8 L1467.00,288.0 L1467.25,288.3 L1467.50,291.6 L1467.75,291.8 L1468.00,292.1 L1468.25,289.0 L1468.50,288.6 L1468.75,288.3 L1469.00,288.0 L1469.25,287.7 L1469.50,287.2 L1469.75,286.9 L1470.00,286.6 L1470.25,286.4 L1470.50,287.1 L1470.75,286.8 L1471.00,286.8 L1471.25,286.8 L1471.50,286.5 L1471.75,286.6 L1472.00,286.6 L1472.25,286.7 L1472.50,286.5 L1472.75,286.8 L1473.00,287.7 L1473.25,288.5 L1473.50,290.0 L1473.75,290.8 L1474.00,291.7 L1474.25,292.5 L1474.50,292.6 L1474.75,293.4 L1475.00,294.2 L1475.25,295.0 L1475.50,295.6 L1475.75,296.4 L1476.00,297.2 L1476.25,298.0 L1476.50,299.0 L1476.75,299.7 L1477.00,300.5 L1477.25,301.3 L1477.50,302.1 L1477.75,302.4 L1478.00,302.6 L1478.25,302.9 L1478.50,302.6 L1478.75,302.8 L1479.00,303.1 L1479.25,303.3 L1479.50,303.5 L1479.75,303.8 L1480.00,304.0 L1480.25,304.3 L1480.50,305.4 L1480.75,305.6 L1481.00,305.9 L1481.25,305.4 L1481.50,304.4 L1481.75,303.9 L1482.00,303.4 L1482.25,302.9 L1482.50,302.7 L1482.75,302.2 L1483.00,301.7 L1483.25,301.2 L1483.50,301.0 L1483.75,300.7 L1484.00,300.3 L1484.25,300.0 L1484.50,298.8 L1484.75,298.5 L1485.00,298.1 L1485.25,297.8 L1485.50,297.8 L1485.75,297.5 L1486.00,297.2 L1486.25,296.8 L1486.50,295.9 L1486.75,295.6 L1487.00,295.3 L1487.25,294.9 L1487.50,295.8 L1487.75,296.1 L1488.00,296.3 L1488.25,296.6 L1488.50,296.6 L1488.75,296.9 L1489.00,297.1 L1489.25,297.4 L1489.50,297.4 L1489.75,297.6 L1490.00,297.9 L1490.25,298.1 L1490.50,297.8 L1490.75,298.0 L1491.00,298.3 L1491.25,298.4 L1491.50,299.4 L1491.75,299.3 L1492.00,299.2 L1492.25,299.2 L1492.50,297.8 L1492.75,297.7 L1493.00,297.6 L1493.25,297.5 L1493.50,298.0 L1493.75,297.9 L1494.00,297.9 L1494.25,298.9 L1494.50,300.7 L1494.75,301.7 L1495.00,302.7 L1495.25,303.7 L1495.50,303.8 L1495.75,304.8 L1496.00,305.0 L1496.25,304.9 L1496.50,308.0 L1496.75,307.9 L1497.00,307.8 L1497.25,307.6 L1497.50,305.2 L1497.75,305.2 L1498.00,305.5 L1498.25,305.8 L1498.50,305.7 L1498.75,306.0 L1499.00,306.3 L1499.25,306.6 L1499.50,306.3 L1499.50,317.7 L1499.25,316.9 L1499.00,316.8 L1498.75,316.7 L1498.50,316.7 L1498.25,317.2 L1498.00,317.1 L1497.75,317.0 L1497.50,317.0 L1497.25,317.4 L1497.00,317.3 L1496.75,317.2 L1496.50,316.6 L1496.25,316.0 L1496.00,315.3 L1495.75,314.7 L1495.50,314.1 L1495.25,313.6 L1495.00,313.0 L1494.75,313.1 L1494.50,313.7 L1494.25,313.8 L1494.00,314.4 L1493.75,315.0 L1493.50,315.7 L1493.25,316.8 L1493.00,317.3 L1492.75,317.1 L1492.50,313.9 L1492.25,313.7 L1492.00,313.6 L1491.75,316.5 L1491.50,316.3 L1491.25,315.1 L1491.00,315.0 L1490.75,314.8 L1490.50,314.6 L1490.25,314.4 L1490.00,314.2 L1489.75,314.0 L1489.50,313.9 L1489.25,314.4 L1489.00,314.2 L1488.75,314.0 L1488.50,313.8 L1488.25,313.3 L1488.00,313.1 L1487.75,312.9 L1487.50,312.7 L1487.25,308.1 L1487.00,307.9 L1486.75,307.7 L1486.50,307.6 L1486.25,312.4 L1486.00,312.9 L1485.75,313.4 L1485.50,313.9 L1485.25,314.8 L1485.00,315.3 L1484.75,315.8 L1484.50,315.9 L1484.25,315.2 L1484.00,315.1 L1483.75,315.1 L1483.50,315.0 L1483.25,314.7 L1483.00,314.7 L1482.75,314.6 L1482.50,314.5 L1482.25,314.6 L1482.00,314.5 L1481.75,314.5 L1481.50,314.4 L1481.25,314.5 L1481.00,314.5 L1480.75,314.1 L1480.50,313.7 L1480.25,313.3 L1480.00,312.9 L1479.75,312.5 L1479.50,312.1 L1479.25,311.9 L1479.00,311.4 L1478.75,311.0 L1478.50,310.6 L1478.25,309.7 L1478.00,310.2 L1477.75,310.8 L1477.50,311.5 L1477.25,313.3 L1477.00,314.0 L1476.75,314.4 L1476.50,314.2 L1476.25,313.0 L1476.00,312.8 L1475.75,312.6 L1475.50,312.4 L1475.25,307.2 L1475.00,307.0 L1474.75,306.8 L1474.50,306.6 L1474.25,311.6 L1474.00,311.3 L1473.75,311.0 L1473.50,310.6 L1473.25,311.1 L1473.00,310.8 L1472.75,310.5 L1472.50,310.2 L1472.25,309.9 L1472.00,309.6 L1471.75,309.3 L1471.50,309.0 L1471.25,307.5 L1471.00,307.2 L1470.75,306.9 L1470.50,306.7 L1470.25,307.0 L1470.00,306.8 L1469.75,306.6 L1469.50,303.5 L1469.25,304.0 L1469.00,303.9 L1468.75,306.7 L1468.50,306.5 L1468.25,306.4 L1468.00,306.2 L1467.75,306.1 L1467.50,305.9 L1467.25,304.8 L1467.00,304.6 L1466.75,301.6 L1466.50,301.4 L1466.25,300.9 L1466.00,300.7 L1465.75,303.4 L1465.50,303.3 L1465.25,303.7 L1465.00,303.4 L1464.75,303.1 L1464.50,302.8 L1464.25,301.8 L1464.00,301.5 L1463.75,301.2 L1463.50,300.9 L1463.25,301.5 L1463.00,301.2 L1462.75,300.9 L1462.50,300.6 L1462.25,299.5 L1462.00,299.2 L1461.75,298.9 L1461.50,298.6 L1461.25,298.6 L1461.00,298.4 L1460.75,298.1 L1460.50,297.9 L1460.25,297.8 L1460.00,297.5 L1459.75,297.3 L1459.50,297.6 L1459.25,298.1 L1459.00,298.8 L1458.75,299.4 L1458.50,300.1 L1458.25,300.3 L1458.00,300.1 L1457.75,299.9 L1457.50,299.7 L1457.25,300.3 L1457.00,300.1 L1456.75,299.9 L1456.50,299.7 L1456.25,299.7 L1456.00,299.5 L1455.75,298.7 L1455.50,297.9 L1455.25,296.8 L1455.00,295.9 L1454.75,295.1 L1454.50,294.2 L1454.25,292.9 L1454.00,292.2 L1453.75,291.8 L1453.50,284.6 L1453.25,284.5 L1453.00,284.1 L1452.75,290.4 L1452.50,290.0 L1452.25,289.9 L1452.00,289.5 L1451.75,289.1 L1451.50,288.6 L1451.25,288.1 L1451.00,288.0 L1450.75,287.9 L1450.50,287.9 L1450.25,288.0 L1450.00,287.9 L1449.75,287.9 L1449.50,287.8 L1449.25,287.2 L1449.00,287.1 L1448.75,287.1 L1448.50,287.0 L1448.25,286.5 L1448.00,286.4 L1447.75,286.3 L1447.50,286.3 L1447.25,286.5 L1447.00,286.4 L1446.75,286.3 L1446.50,286.3 L1446.25,287.1 L1446.00,287.1 L1445.75,287.0 L1445.50,286.9 L1445.25,286.6 L1445.00,286.5 L1444.75,286.5 L1444.50,286.4 L1444.25,286.1 L1444.00,286.0 L1443.75,286.0 L1443.50,286.0 L1443.25,285.5 L1443.00,285.5 L1442.75,285.5 L1442.50,285.4 L1442.25,285.6 L1442.00,285.5 L1441.75,285.5 L1441.50,285.4 L1441.25,286.0 L1441.00,286.0 L1440.75,286.0 L1440.50,285.9 L1440.25,285.4 L1440.00,285.4 L1439.75,285.4 L1439.50,285.3 L1439.25,285.5 L1439.00,285.5 L1438.75,285.5 L1438.50,285.4 L1438.25,284.9 L1438.00,285.1 L1437.75,285.3 L1437.50,285.4 L1437.25,285.8 L1437.00,286.0 L1436.75,286.2 L1436.50,286.3 L1436.25,286.4 L1436.00,286.5 L1435.75,286.7 L1435.50,286.8 L1435.25,286.8 L1435.00,286.5 L1434.75,286.2 L1434.50,285.9 L1434.25,284.8 L1434.00,284.5 L1433.75,284.2 L1433.50,283.9 L1433.25,284.0 L1433.00,283.7 L1432.75,283.4 L1432.50,283.1 L1432.25,283.5 L1432.00,283.2 L1431.75,282.9 L1431.50,282.6 L1431.25,281.9 L1431.00,281.6 L1430.75,281.8 L1430.50,282.3 L1430.25,282.6 L1430.00,283.1 L1429.75,283.6 L1429.50,284.1 L1429.25,285.3 L1429.00,285.7 L1428.75,285.6 L1428.50,285.6 L1428.25,284.7 L1428.00,284.6 L1427.75,284.5 L1427.50,284.5 L1427.25,284.4 L1427.00,284.3 L1426.75,284.2 L1426.50,284.2 L1426.25,284.9 L1426.00,284.8 L1425.75,284.7 L1425.50,284.7 L1425.25,284.0 L1425.00,283.9 L1424.75,283.8 L1424.50,283.8 L1424.25,284.2 L1424.00,284.2 L1423.75,284.1 L1423.50,284.0 L1423.25,283.3 L1423.00,283.2 L1422.75,283.2 L1422.50,283.2 L1422.25,283.1 L1422.00,283.4 L1421.75,283.7 L1421.50,284.0 L1421.25,284.3 L1421.00,284.6 L1420.75,284.9 L1420.50,285.2 L1420.25,286.4 L1420.00,286.7 L1419.75,287.0 L1419.50,287.3 L1419.25,287.5 L1419.00,287.8 L1418.75,288.1 L1418.50,288.4 L1418.25,288.3 L1418.00,288.6 L1417.75,288.2 L1417.50,287.6 L1417.25,287.5 L1417.00,286.9 L1416.75,279.1 L1416.50,278.5 L1416.25,277.7 L1416.00,277.3 L1415.75,284.5 L1415.50,284.5 L1415.25,284.9 L1415.00,284.9 L1414.75,285.0 L1414.50,285.1 L1414.25,285.3 L1414.00,285.4 L1413.75,285.5 L1413.50,285.6 L1413.25,285.3 L1413.00,285.4 L1412.75,285.4 L1412.50,285.5 L1412.25,285.1 L1412.00,285.2 L1411.75,285.2 L1411.50,285.3 L1411.25,285.7 L1411.00,285.4 L1410.75,285.1 L1410.50,284.9 L1410.25,284.4 L1410.00,284.1 L1409.75,283.8 L1409.50,283.6 L1409.25,282.8 L1409.00,282.5 L1408.75,282.2 L1408.50,282.0 L1408.25,281.6 L1408.00,281.3 L1407.75,281.0 L1407.50,280.7 L1407.25,281.0 L1407.00,280.7 L1406.75,280.8 L1406.50,282.1 L1406.25,283.0 L1406.00,284.3 L1405.75,285.7 L1405.50,287.0 L1405.25,289.0 L1405.00,289.8 L1404.75,290.5 L1404.50,291.3 L1404.25,291.7 L1404.00,292.4 L1403.75,293.2 L1403.50,293.5 L1403.25,292.8 L1403.00,291.6 L1402.75,290.4 L1402.50,289.3 L1402.25,287.9 L1402.00,287.6 L1401.75,287.7 L1401.50,287.9 L1401.25,287.5 L1401.00,287.6 L1400.75,287.8 L1400.50,287.9 L1400.25,287.7 L1400.00,287.9 L1399.75,288.0 L1399.50,288.2 L1399.25,288.8 L1399.00,289.0 L1398.75,293.4 L1398.50,299.7 L1398.25,306.0 L1398.00,312.3 L1397.75,312.3 L1397.50,312.1 L1397.25,311.2 L1397.00,311.0 L1396.75,310.8 L1396.50,310.6 L1396.25,309.0 L1396.00,304.9 L1395.75,300.9 L1395.50,299.5 L1395.25,299.4 L1395.00,299.2 L1394.75,299.1 L1394.50,289.5 L1394.25,289.1 L1394.00,289.0 L1393.75,298.2 L1393.50,297.3 L1393.25,295.5 L1393.00,294.6 L1392.75,293.8 L1392.50,292.9 L1392.25,293.2 L1392.00,292.4 L1391.75,291.9 L1391.50,291.5 L1391.25,290.9 L1391.00,290.6 L1390.75,290.2 L1390.50,289.8 L1390.25,289.7 L1390.00,289.3 L1389.75,288.9 L1389.50,288.5 L1389.25,288.0 L1389.00,287.6 L1388.75,287.2 L1388.50,286.8 L1388.25,286.7 L1388.00,287.0 L1387.75,287.3 L1387.50,287.7 L1387.25,287.8 L1387.00,288.1 L1386.75,288.5 L1386.50,288.8 L1386.25,289.5 L1386.00,289.8 L1385.75,290.1 L1385.50,290.5 L1385.25,289.0 L1385.00,288.8 L1384.75,288.6 L1384.50,288.4 L1384.25,289.4 L1384.00,289.2 L1383.75,289.1 L1383.50,288.9 L1383.25,287.5 L1383.00,287.3 L1382.75,287.1 L1382.50,286.9 L1382.25,288.0 L1382.00,287.8 L1381.75,287.6 L1381.50,287.9 L1381.25,288.2 L1381.00,288.4 L1380.75,288.7 L1380.50,288.9 L1380.25,289.1 L1380.00,289.4 L1379.75,289.6 L1379.50,289.9 L1379.25,290.1 L1379.00,290.4 L1378.75,290.6 L1378.50,290.9 L1378.25,289.9 L1378.00,290.0 L1377.75,289.4 L1377.50,288.7 L1377.25,288.5 L1377.00,287.8 L1376.75,287.2 L1376.50,286.6 L1376.25,286.1 L1376.00,285.5 L1375.75,284.8 L1375.50,284.2 L1375.25,283.9 L1375.00,283.3 L1374.75,282.7 L1374.50,282.0 L1374.25,282.1 L1374.00,282.3 L1373.75,282.6 L1373.50,282.8 L1373.25,281.9 L1373.00,282.2 L1372.75,282.4 L1372.50,282.7 L1372.25,283.6 L1372.00,283.9 L1371.75,284.1 L1371.50,284.4 L1371.25,283.9 L1371.00,284.2 L1370.75,284.4 L1370.50,284.5 L1370.25,285.8 L1370.00,285.8 L1369.75,274.7 L1369.50,274.7 L1369.25,274.5 L1369.00,274.4 L1368.75,285.4 L1368.50,285.3 L1368.25,284.9 L1368.00,284.8 L1367.75,284.8 L1367.50,284.8 L1367.25,284.2 L1367.00,284.2 L1366.75,284.1 L1366.50,284.1 L1366.25,284.3 L1366.00,284.3 L1365.75,284.2 L1365.50,284.1 L1365.25,283.3 L1365.00,282.5 L1364.75,281.7 L1364.50,280.9 L1364.25,280.5 L1364.00,279.7 L1363.75,278.9 L1363.50,278.1 L1363.25,276.6 L1363.00,276.6 L1362.75,276.8 L1362.50,277.0 L1362.25,277.1 L1362.00,277.2 L1361.75,277.4 L1361.50,277.5 L1361.25,277.4 L1361.00,277.5 L1360.75,277.7 L1360.50,277.8 L1360.25,279.0 L1360.00,279.1 L1359.75,279.3 L1359.50,279.4 L1359.25,279.6 L1359.00,279.8 L1358.75,279.9 L1358.50,280.1 L1358.25,279.3 L1358.00,279.5 L1357.75,279.6 L1357.50,279.8 L1357.25,280.2 L1357.00,282.0 L1356.75,284.4 L1356.50,286.7 L1356.25,289.2 L1356.00,291.5 L1355.75,293.3 L1355.50,293.3 L1355.25,293.1 L1355.00,293.1 L1354.75,293.0 L1354.50,293.0 L1354.25,293.3 L1354.00,293.2 L1353.75,293.2 L1353.50,293.1 L1353.25,293.0 L1353.00,293.0 L1352.75,292.9 L1352.50,292.9 L1352.25,292.4 L1352.00,292.4 L1351.75,292.3 L1351.50,292.3 L1351.25,293.0 L1351.00,292.0 L1350.75,290.5 L1350.50,289.0 L1350.25,287.6 L1350.00,287.6 L1349.75,287.7 L1349.50,287.8 L1349.25,287.6 L1349.00,287.7 L1348.75,287.8 L1348.50,287.9 L1348.25,288.1 L1348.00,288.2 L1347.75,288.3 L1347.50,288.4 L1347.25,290.7 L1347.00,294.7 L1346.75,294.8 L1346.50,294.8 L1346.25,294.7 L1346.00,294.7 L1345.75,294.7 L1345.50,293.6 L1345.25,290.9 L1345.00,288.2 L1344.75,285.4 L1344.50,284.8 L1344.25,286.0 L1344.00,286.3 L1343.75,286.6 L1343.50,286.9 L1343.25,286.4 L1343.00,286.7 L1342.75,287.0 L1342.50,287.3 L1342.25,288.0 L1342.00,288.3 L1341.75,288.6 L1341.50,288.9 L1341.25,288.6 L1341.00,288.9 L1340.75,289.2 L1340.50,289.5 L1340.25,289.9 L1340.00,290.2 L1339.75,290.4 L1339.50,290.6 L1339.25,291.1 L1339.00,291.3 L1338.75,291.5 L1338.50,291.7 L1338.25,292.6 L1338.00,290.4 L1337.75,287.2 L1337.50,284.1 L1337.25,280.1 L1337.00,280.1 L1336.75,280.1 L1336.50,280.1 L1336.25,280.5 L1336.00,280.5 L1335.75,280.5 L1335.50,280.5 L1335.25,274.7 L1335.00,274.7 L1334.75,274.7 L1334.50,274.7 L1334.25,280.4 L1334.00,280.4 L1333.75,280.4 L1333.50,280.4 L1333.25,280.8 L1333.00,280.8 L1332.75,280.8 L1332.50,280.8 L1332.25,280.4 L1332.00,281.3 L1331.75,282.8 L1331.50,284.3 L1331.25,286.1 L1331.00,287.6 L1330.75,289.1 L1330.50,290.6 L1330.25,292.3 L1330.00,292.3 L1329.75,292.3 L1329.50,292.3 L1329.25,292.1 L1329.00,292.1 L1328.75,292.1 L1328.50,292.1 L1328.25,291.1 L1328.00,291.1 L1327.75,291.1 L1327.50,283.9 L1327.25,283.1 L1327.00,281.8 L1326.75,287.6 L1326.50,286.3 L1326.25,284.9 L1326.00,284.9 L1325.75,286.0 L1325.50,287.1 L1325.25,287.8 L1325.00,288.9 L1324.75,290.1 L1324.50,291.2 L1324.25,292.9 L1324.00,293.5 L1323.75,294.1 L1323.50,294.8 L1323.25,294.5 L1323.00,295.1 L1322.75,295.8 L1322.50,296.4 L1322.25,298.0 L1322.00,298.6 L1321.75,299.3 L1321.50,299.9 L1321.25,300.8 L1321.00,301.4 L1320.75,302.0 L1320.50,302.4 L1320.25,300.9 L1320.00,300.5 L1319.75,300.1 L1319.50,299.8 L1319.25,300.5 L1319.00,300.2 L1318.75,299.8 L1318.50,299.4 L1318.25,298.3 L1318.00,297.9 L1317.75,297.5 L1317.50,297.1Z" fill="#ff0000" clip-path="url(#c1)"/>
<line x1="1729.52" y1="455.00" x2="1729.52" y2="111.50" stroke="#000" stroke-width="2.9" stroke-dasharray="2.78 4.58" stroke-dashoffset="0"/>
<line x1="1800.00" y1="110.00" x2="1800.00" y2="456.00" stroke="#ff0000" stroke-width="2"/>
<path d="M1801,110 H1231 V455 H1801" fill="none" stroke="#000" stroke-width="2" stroke-linejoin="miter"/>
<line x1="1269.50" y1="455.00" x2="1269.50" y2="449.44" stroke="#000" stroke-width="1.0"/>
<line x1="1340.50" y1="455.00" x2="1340.50" y2="449.44" stroke="#000" stroke-width="1.0"/>
<line x1="1411.50" y1="455.00" x2="1411.50" y2="449.44" stroke="#000" stroke-width="1.0"/>
<line x1="1482.50" y1="455.00" x2="1482.50" y2="449.44" stroke="#000" stroke-width="1.0"/>
<line x1="1554.50" y1="455.00" x2="1554.50" y2="449.44" stroke="#000" stroke-width="1.0"/>
<line x1="1625.50" y1="455.00" x2="1625.50" y2="449.44" stroke="#000" stroke-width="1.0"/>
<line x1="1696.50" y1="455.00" x2="1696.50" y2="449.44" stroke="#000" stroke-width="1.0"/>
<line x1="1767.50" y1="455.00" x2="1767.50" y2="449.44" stroke="#000" stroke-width="1.0"/>
<line x1="1800.00" y1="386.50" x2="1794.44" y2="386.50" stroke="#ff0000" stroke-width="1.0"/>
<line x1="1800.00" y1="317.50" x2="1794.44" y2="317.50" stroke="#ff0000" stroke-width="1.0"/>
<line x1="1800.00" y1="248.50" x2="1794.44" y2="248.50" stroke="#ff0000" stroke-width="1.0"/>
<line x1="1800.00" y1="179.50" x2="1794.44" y2="179.50" stroke="#ff0000" stroke-width="1.0"/>
<clipPath id="c2"><rect x="1231" y="478" width="499" height="344"/></clipPath>
<path d="M1231.2,516.2 L1232.4,512.4 L1233.7,511.1 L1235.0,512.8 L1236.9,516.2 L1240.1,522.5 L1241.3,532.1 L1243.0,541.6 L1245.8,549.2 L1248.3,537.8 L1250.2,529.5 L1251.5,526.7 L1252.8,528.9 L1254.4,532.7 L1257.2,530.2 L1260.4,529.3 L1263.6,527.4 L1266.1,527.2 L1269.3,531.2 L1271.8,530.2 L1275.0,528.6 L1278.2,528.5 L1281.3,529.3 L1284.5,526.4 L1287.4,525.5 L1290.0,521.7 L1292.8,523.2 L1296.3,527.0 L1299.1,527.0 L1301.7,521.0 L1304.8,522.5 L1306.1,530.8 L1308.0,542.9 L1310.8,552.4 L1314.1,554.7 L1315.6,544.8 L1316.9,537.8 L1319.4,536.1 L1322.6,532.7 L1325.8,534.0 L1328.3,529.8 L1331.5,525.7 L1334.7,527.0 L1337.5,525.1 L1340.4,527.2 L1343.6,526.7 L1346.7,528.3 L1349.7,530.4 L1352.5,525.1 L1355.6,527.2 L1358.2,526.7 L1361.1,519.8 L1364.5,521.7 L1367.4,522.3 L1370.2,519.4 L1373.0,516.8 L1376.0,519.0 L1379.1,518.1 L1382.3,517.5 L1385.2,517.1 L1387.8,514.3 L1390.6,516.2 L1393.7,517.5 L1395.6,515.6 L1397.5,512.8 L1398.8,514.9 L1400.7,514.5 L1403.0,512.8 L1403.9,515.6 L1405.8,519.1 L1408.3,518.7 L1411.1,518.1 L1414.1,519.8 L1417.2,520.0 L1420.0,520.9 L1423.6,524.5 L1426.1,523.8 L1429.3,521.3 L1431.8,520.6 L1435.0,522.3 L1438.2,523.2 L1441.4,524.8 L1444.5,522.3 L1447.7,522.9 L1450.3,520.4 L1452.8,515.3 L1454.1,513.3 L1456.6,514.0 L1459.4,516.2 L1462.3,515.6 L1464.5,512.4 L1467.4,515.6 L1470.6,517.5 L1473.7,515.3 L1476.3,513.7 L1479.5,514.9 L1479.9,514.9 L1482.4,514.0 L1485.6,515.6 L1488.8,516.2 L1492.0,515.3 L1494.5,513.7 L1497.1,514.7 L1500.2,514.5 L1503.4,512.4 L1506.2,509.8 L1509.1,511.1 L1512.3,511.8 L1514.8,510.5 L1518.0,506.4 L1521.2,502.9 L1524.4,503.5 L1527.5,504.4 L1530.7,502.9 L1533.2,501.0 L1535.8,500.3 L1539.0,501.6 L1542.1,500.1 L1545.3,501.0 L1548.5,501.8 L1550.6,501.6 L1553.6,497.5 L1556.7,497.3 L1559.9,497.4 L1563.1,498.4 L1565.6,499.1 L1568.4,496.8 L1571.7,497.5 L1574.5,496.8 L1577.7,496.0 L1580.2,495.9 L1583.2,495.5 L1586.0,490.4 L1589.1,490.8 L1592.3,485.1 L1595.5,485.7 L1598.0,490.8 L1601.2,496.8 L1604.4,496.0 L1607.3,496.3 L1610.3,500.3 L1613.3,502.6 L1615.8,508.6 L1619.0,517.5 L1622.1,522.5 L1625.1,526.4 L1627.9,525.7 L1631.0,523.8 L1634.0,522.5 L1636.8,514.9 L1639.9,514.0 L1643.1,514.7 L1645.9,515.3 L1648.8,522.9 L1651.7,517.1 L1654.5,516.8 L1657.7,514.3 L1660.9,511.1 L1663.4,507.3 L1666.6,513.3 L1669.1,511.8 L1672.3,508.6 L1675.1,509.6 L1678.0,513.3 L1681.2,522.9 L1684.4,514.5 L1686.9,512.0 L1689.8,510.7 L1692.9,513.7 L1695.8,514.0 L1699.0,517.8 L1701.8,514.9 L1704.7,514.5 L1707.6,512.8 L1710.4,510.7 L1713.6,511.2 L1716.8,511.8 L1719.9,511.5 L1723.1,505.1 L1725.9,498.4" fill="none" stroke="#000" stroke-width="2.1" stroke-linejoin="round" stroke-linecap="butt" clip-path="url(#c2)"/>
<line x1="1231.00" y1="512.00" x2="1800.00" y2="512.00" stroke="#000" stroke-width="2.08" stroke-dasharray="2.08 3.44"/>
<line x1="1231.00" y1="513.50" x2="1236.56" y2="513.50" stroke="#000" stroke-width="1.0"/>
<line x1="1231.00" y1="581.50" x2="1236.56" y2="581.50" stroke="#000" stroke-width="1.0"/>
<line x1="1231.00" y1="650.50" x2="1236.56" y2="650.50" stroke="#000" stroke-width="1.0"/>
<line x1="1231.00" y1="719.50" x2="1236.56" y2="719.50" stroke="#000" stroke-width="1.0"/>
<line x1="1231.00" y1="788.50" x2="1236.56" y2="788.50" stroke="#000" stroke-width="1.0"/>
<path d="M1231.00,610.0 L1231.25,609.5 L1231.50,609.0 L1231.75,597.5 L1232.00,599.5 L1232.25,600.5 L1232.50,601.5 L1232.75,602.5 L1233.00,602.9 L1233.25,604.3 L1233.50,616.8 L1233.75,618.3 L1234.00,620.3 L1234.25,610.8 L1234.50,610.7 L1234.75,609.9 L1235.00,609.6 L1235.25,608.9 L1235.50,608.1 L1235.75,606.8 L1236.00,604.4 L1236.25,602.8 L1236.50,601.1 L1236.75,599.5 L1237.00,598.9 L1237.25,599.0 L1237.50,599.0 L1237.75,599.1 L1238.00,598.4 L1238.25,598.5 L1238.50,598.6 L1238.75,598.7 L1239.00,599.8 L1239.25,600.6 L1239.50,601.3 L1239.75,602.1 L1240.00,603.2 L1240.25,603.0 L1240.50,602.7 L1240.75,602.5 L1241.00,602.6 L1241.25,602.3 L1241.50,603.5 L1241.75,604.7 L1242.00,606.2 L1242.25,607.4 L1242.50,608.7 L1242.75,608.6 L1243.00,618.6 L1243.25,618.4 L1243.50,618.1 L1243.75,606.9 L1244.00,606.0 L1244.25,605.8 L1244.50,605.9 L1244.75,606.8 L1245.00,608.1 L1245.25,609.0 L1245.50,609.9 L1245.75,610.9 L1246.00,612.9 L1246.25,613.8 L1246.50,612.7 L1246.75,610.7 L1247.00,607.4 L1247.25,605.4 L1247.50,603.4 L1247.75,602.6 L1248.00,602.9 L1248.25,602.7 L1248.50,602.5 L1248.75,602.4 L1249.00,603.1 L1249.25,602.9 L1249.50,602.7 L1249.75,602.7 L1250.00,601.0 L1250.25,600.9 L1250.50,600.8 L1250.75,600.7 L1251.00,601.7 L1251.25,601.6 L1251.50,604.2 L1251.75,609.7 L1252.00,615.9 L1252.25,621.4 L1252.50,600.1 L1252.75,577.2 L1253.00,553.0 L1253.25,551.0 L1253.50,551.1 L1253.75,551.2 L1254.00,551.9 L1254.25,552.0 L1254.50,552.0 L1254.75,552.1 L1255.00,562.3 L1255.25,573.7 L1255.50,585.1 L1255.75,596.5 L1256.00,597.7 L1256.25,598.0 L1256.50,598.2 L1256.75,598.5 L1257.00,599.4 L1257.25,599.7 L1257.50,599.9 L1257.75,600.1 L1258.00,600.6 L1258.25,600.7 L1258.50,600.8 L1258.75,600.9 L1259.00,600.8 L1259.25,600.9 L1259.50,601.0 L1259.75,601.3 L1260.00,601.3 L1260.25,601.8 L1260.50,602.2 L1260.75,602.6 L1261.00,602.5 L1261.25,602.4 L1261.50,612.7 L1261.75,612.1 L1262.00,612.0 L1262.25,611.4 L1262.50,600.0 L1262.75,599.8 L1263.00,599.4 L1263.25,599.2 L1263.50,599.0 L1263.75,598.8 L1264.00,598.8 L1264.25,595.7 L1264.50,592.5 L1264.75,590.6 L1265.00,590.4 L1265.25,590.4 L1265.50,590.4 L1265.75,590.4 L1266.00,591.2 L1266.25,591.2 L1266.50,591.2 L1266.75,591.9 L1267.00,592.7 L1267.25,593.6 L1267.50,594.4 L1267.75,595.3 L1268.00,607.3 L1268.25,609.5 L1268.50,611.6 L1268.75,602.7 L1269.00,605.3 L1269.25,605.6 L1269.50,605.2 L1269.75,604.9 L1270.00,603.9 L1270.25,603.6 L1270.50,603.2 L1270.75,601.8 L1271.00,594.6 L1271.25,588.0 L1271.50,588.0 L1271.75,588.0 L1272.00,587.8 L1272.25,587.8 L1272.50,587.8 L1272.75,587.8 L1273.00,590.7 L1273.25,595.0 L1273.50,599.3 L1273.75,603.5 L1274.00,603.6 L1274.25,604.2 L1274.50,604.7 L1274.75,605.3 L1275.00,606.1 L1275.25,606.6 L1275.50,618.7 L1275.75,620.5 L1276.00,622.7 L1276.25,613.4 L1276.50,615.2 L1276.75,616.3 L1277.00,615.7 L1277.25,615.7 L1277.50,615.7 L1277.75,615.7 L1278.00,616.6 L1278.25,616.6 L1278.50,616.6 L1278.75,616.1 L1279.00,614.3 L1279.25,613.7 L1279.50,613.1 L1279.75,612.5 L1280.00,612.9 L1280.25,612.3 L1280.50,611.9 L1280.75,611.8 L1281.00,611.2 L1281.25,611.1 L1281.50,611.1 L1281.75,611.0 L1282.00,610.9 L1282.25,610.9 L1282.50,621.8 L1282.75,621.7 L1283.00,622.1 L1283.25,611.0 L1283.50,610.9 L1283.75,610.8 L1284.00,610.5 L1284.25,610.4 L1284.50,610.4 L1284.75,610.3 L1285.00,609.6 L1285.25,608.9 L1285.50,608.1 L1285.75,607.4 L1286.00,605.9 L1286.25,605.6 L1286.50,605.7 L1286.75,605.8 L1287.00,606.1 L1287.25,606.2 L1287.50,606.7 L1287.75,607.6 L1288.00,609.7 L1288.25,610.6 L1288.50,610.9 L1288.75,610.1 L1289.00,608.9 L1289.25,608.1 L1289.50,607.2 L1289.75,606.4 L1290.00,605.7 L1290.25,604.5 L1290.50,603.2 L1290.75,602.0 L1291.00,601.5 L1291.25,601.5 L1291.50,601.5 L1291.75,601.5 L1292.00,601.0 L1292.25,601.0 L1292.50,601.0 L1292.75,601.4 L1293.00,602.5 L1293.25,604.7 L1293.50,606.9 L1293.75,608.7 L1294.00,608.4 L1294.25,607.6 L1294.50,606.9 L1294.75,606.1 L1295.00,606.0 L1295.25,607.0 L1295.50,608.0 L1295.75,609.0 L1296.00,609.4 L1296.25,610.4 L1296.50,612.3 L1296.75,614.2 L1297.00,617.3 L1297.25,619.2 L1297.50,614.9 L1297.75,610.5 L1298.00,606.1 L1298.25,601.8 L1298.50,599.6 L1298.75,597.7 L1299.00,595.5 L1299.25,593.5 L1299.50,591.6 L1299.75,589.6 L1300.00,588.7 L1300.25,588.8 L1300.50,588.9 L1300.75,588.9 L1301.00,589.7 L1301.25,589.8 L1301.50,589.8 L1301.75,589.9 L1302.00,588.7 L1302.25,588.9 L1302.50,589.1 L1302.75,589.3 L1303.00,589.8 L1303.25,590.0 L1303.50,590.2 L1303.75,591.3 L1304.00,593.0 L1304.25,594.4 L1304.50,595.6 L1304.75,595.5 L1305.00,595.9 L1305.25,595.8 L1305.50,595.7 L1305.75,595.7 L1306.00,595.1 L1306.25,595.0 L1306.50,592.7 L1306.75,588.8 L1307.00,584.3 L1307.25,580.3 L1307.50,578.6 L1307.75,578.6 L1308.00,578.9 L1308.25,578.9 L1308.50,578.9 L1308.75,578.9 L1309.00,581.8 L1309.25,587.7 L1309.50,593.7 L1309.75,599.6 L1310.00,603.0 L1310.25,603.4 L1310.50,603.8 L1310.75,604.1 L1311.00,609.7 L1311.25,616.2 L1311.50,621.4 L1311.75,624.2 L1312.00,627.5 L1312.25,630.3 L1312.50,630.7 L1312.75,626.3 L1313.00,622.0 L1313.25,617.7 L1313.50,614.5 L1313.75,614.3 L1314.00,614.7 L1314.25,614.5 L1314.50,614.3 L1314.75,614.2 L1315.00,614.0 L1315.25,612.7 L1315.50,607.1 L1315.75,602.5 L1316.00,602.0 L1316.25,602.0 L1316.50,602.6 L1316.75,606.3 L1317.00,610.0 L1317.25,613.2 L1317.50,612.8 L1317.75,612.4 L1318.00,612.6 L1318.25,612.1 L1318.50,611.7 L1318.75,611.3 L1319.00,611.5 L1319.25,611.5 L1319.50,611.5 L1319.75,611.5 L1320.00,611.1 L1320.25,611.1 L1320.50,613.6 L1320.75,616.1 L1321.00,618.8 L1321.25,621.3 L1321.50,621.7 L1321.75,621.9 L1322.00,622.3 L1322.25,622.5 L1322.50,622.8 L1322.75,623.0 L1323.00,602.2 L1323.25,580.3 L1323.50,577.1 L1323.75,577.1 L1324.00,578.6 L1324.25,578.6 L1324.50,578.6 L1324.75,578.6 L1325.00,577.6 L1325.25,577.6 L1325.50,577.6 L1325.75,577.6 L1326.00,577.9 L1326.25,577.9 L1326.50,577.9 L1326.75,577.9 L1327.00,578.4 L1327.25,578.3 L1327.50,578.3 L1327.75,578.2 L1328.00,578.0 L1328.25,577.9 L1328.50,577.9 L1328.75,577.8 L1329.00,576.7 L1329.25,576.6 L1329.50,587.4 L1329.75,587.3 L1330.00,588.0 L1330.25,576.9 L1330.50,576.7 L1330.75,576.5 L1331.00,575.3 L1331.25,575.2 L1331.50,575.2 L1331.75,575.1 L1332.00,575.6 L1332.25,575.5 L1332.50,575.4 L1332.75,575.4 L1333.00,576.1 L1333.25,576.1 L1333.50,576.0 L1333.75,576.4 L1334.00,576.2 L1334.25,576.7 L1334.50,577.2 L1334.75,577.7 L1335.00,578.5 L1335.25,578.6 L1335.50,578.0 L1335.75,577.5 L1336.00,577.1 L1336.25,576.6 L1336.50,576.0 L1336.75,575.6 L1337.00,586.8 L1337.25,586.8 L1337.50,586.8 L1337.75,575.8 L1338.00,575.7 L1338.25,575.7 L1338.50,575.7 L1338.75,575.7 L1339.00,574.3 L1339.25,574.3 L1339.50,574.3 L1339.75,574.3 L1340.00,575.3 L1340.25,575.7 L1340.50,576.2 L1340.75,576.6 L1341.00,577.1 L1341.25,577.2 L1341.50,577.2 L1341.75,577.1 L1342.00,576.3 L1342.25,576.2 L1342.50,576.2 L1342.75,576.1 L1343.00,576.9 L1343.25,576.9 L1343.50,576.8 L1343.75,584.1 L1344.00,599.7 L1344.25,615.2 L1344.50,616.3 L1344.75,616.6 L1345.00,617.2 L1345.25,617.5 L1345.50,617.7 L1345.75,618.0 L1346.00,618.4 L1346.25,618.7 L1346.50,618.9 L1346.75,619.2 L1347.00,620.5 L1347.25,623.8 L1347.50,627.2 L1347.75,606.6 L1348.00,580.2 L1348.25,574.3 L1348.50,574.2 L1348.75,574.1 L1349.00,574.9 L1349.25,574.8 L1349.50,574.7 L1349.75,577.3 L1350.00,580.0 L1350.25,583.7 L1350.50,583.1 L1350.75,580.4 L1351.00,577.9 L1351.25,575.6 L1351.50,575.6 L1351.75,575.6 L1352.00,576.2 L1352.25,576.2 L1352.50,576.2 L1352.75,576.2 L1353.00,575.5 L1353.25,576.0 L1353.50,576.8 L1353.75,577.7 L1354.00,579.7 L1354.25,580.6 L1354.50,588.1 L1354.75,602.3 L1355.00,616.6 L1355.25,624.2 L1355.50,624.4 L1355.75,624.5 L1356.00,623.2 L1356.25,623.4 L1356.50,623.6 L1356.75,623.8 L1357.00,625.1 L1357.25,626.0 L1357.50,626.9 L1357.75,627.8 L1358.00,629.1 L1358.25,629.7 L1358.50,629.6 L1358.75,629.5 L1359.00,629.7 L1359.25,629.6 L1359.50,629.6 L1359.75,629.5 L1360.00,628.1 L1360.25,628.2 L1360.50,628.3 L1360.75,628.4 L1361.00,639.3 L1361.25,639.4 L1361.50,639.5 L1361.75,627.3 L1362.00,621.9 L1362.25,615.3 L1362.50,620.6 L1362.75,620.5 L1363.00,620.5 L1363.25,609.5 L1363.50,609.4 L1363.75,609.4 L1364.00,608.0 L1364.25,608.0 L1364.50,607.9 L1364.75,607.8 L1365.00,608.2 L1365.25,608.2 L1365.50,608.2 L1365.75,608.2 L1366.00,608.7 L1366.25,608.7 L1366.50,608.7 L1366.75,608.7 L1367.00,608.9 L1367.25,596.9 L1367.50,584.3 L1367.75,583.3 L1368.00,582.1 L1368.25,582.0 L1368.50,593.0 L1368.75,592.9 L1369.00,593.8 L1369.25,582.7 L1369.50,582.7 L1369.75,590.5 L1370.00,600.0 L1370.25,605.6 L1370.50,603.5 L1370.75,601.4 L1371.00,598.8 L1371.25,598.3 L1371.50,598.3 L1371.75,598.3 L1372.00,597.6 L1372.25,597.6 L1372.50,597.6 L1372.75,599.2 L1373.00,607.0 L1373.25,615.0 L1373.50,616.9 L1373.75,615.9 L1374.00,615.3 L1374.25,614.3 L1374.50,613.3 L1374.75,611.2 L1375.00,609.3 L1375.25,606.5 L1375.50,603.7 L1375.75,602.4 L1376.00,600.8 L1376.25,600.5 L1376.50,600.3 L1376.75,600.0 L1377.00,597.9 L1377.25,594.1 L1377.50,592.2 L1377.75,592.1 L1378.00,592.7 L1378.25,592.6 L1378.50,592.5 L1378.75,592.5 L1379.00,591.8 L1379.25,591.8 L1379.50,596.1 L1379.75,606.7 L1380.00,617.5 L1380.25,624.0 L1380.50,623.9 L1380.75,623.7 L1381.00,623.3 L1381.25,623.2 L1381.50,623.0 L1381.75,622.9 L1382.00,623.6 L1382.25,623.1 L1382.50,621.9 L1382.75,620.6 L1383.00,620.7 L1383.25,620.8 L1383.50,620.9 L1383.75,621.0 L1384.00,620.6 L1384.25,620.7 L1384.50,619.1 L1384.75,610.1 L1385.00,600.7 L1385.25,591.8 L1385.50,588.7 L1385.75,588.6 L1386.00,589.0 L1386.25,588.9 L1386.50,588.9 L1386.75,588.9 L1387.00,589.3 L1387.25,589.3 L1387.50,589.6 L1387.75,594.7 L1388.00,600.4 L1388.25,605.3 L1388.50,605.4 L1388.75,605.5 L1389.00,605.7 L1389.25,605.8 L1389.50,605.9 L1389.75,606.0 L1390.00,613.6 L1390.25,622.8 L1390.50,628.9 L1390.75,630.9 L1391.00,632.5 L1391.25,634.5 L1391.50,636.5 L1391.75,632.8 L1392.00,621.3 L1392.25,608.3 L1392.50,606.4 L1392.75,606.4 L1393.00,617.5 L1393.25,617.5 L1393.50,617.5 L1393.75,617.5 L1394.00,605.7 L1394.25,605.8 L1394.50,606.4 L1394.75,606.9 L1395.00,608.0 L1395.25,594.1 L1395.50,574.9 L1395.75,555.6 L1396.00,536.6 L1396.25,530.6 L1396.50,530.6 L1396.75,530.6 L1397.00,530.1 L1397.25,530.1 L1397.50,530.1 L1397.75,530.1 L1398.00,530.6 L1398.25,530.6 L1398.50,545.4 L1398.75,570.4 L1399.00,579.9 L1399.25,580.2 L1399.50,580.6 L1399.75,581.0 L1400.00,581.8 L1400.25,582.2 L1400.50,582.6 L1400.75,592.6 L1401.00,602.6 L1401.25,612.6 L1401.50,618.8 L1401.75,620.5 L1402.00,622.0 L1402.25,623.7 L1402.50,625.4 L1402.75,627.2 L1403.00,630.3 L1403.25,626.1 L1403.50,621.1 L1403.75,613.7 L1404.00,600.4 L1404.25,588.8 L1404.50,580.9 L1404.75,580.9 L1405.00,582.0 L1405.25,582.0 L1405.50,582.0 L1405.75,582.0 L1406.00,580.9 L1406.25,580.8 L1406.50,580.8 L1406.75,580.8 L1407.00,581.3 L1407.25,581.3 L1407.50,581.2 L1407.75,581.2 L1408.00,581.3 L1408.25,581.2 L1408.50,581.2 L1408.75,581.1 L1409.00,580.7 L1409.25,580.6 L1409.50,580.6 L1409.75,580.8 L1410.00,583.7 L1410.25,586.0 L1410.50,588.3 L1410.75,591.1 L1411.00,594.1 L1411.25,597.2 L1411.50,600.1 L1411.75,600.2 L1412.00,599.9 L1412.25,600.0 L1412.50,600.1 L1412.75,600.2 L1413.00,601.1 L1413.25,601.2 L1413.50,601.4 L1413.75,601.6 L1414.00,600.8 L1414.25,601.0 L1414.50,601.2 L1414.75,601.3 L1415.00,602.7 L1415.25,604.1 L1415.50,605.5 L1415.75,606.6 L1416.00,607.1 L1416.25,607.4 L1416.50,618.6 L1416.75,618.9 L1417.00,619.6 L1417.25,610.3 L1417.50,612.0 L1417.75,613.7 L1418.00,614.2 L1418.25,612.1 L1418.50,610.1 L1418.75,608.0 L1419.00,607.2 L1419.25,606.3 L1419.50,605.9 L1419.75,605.5 L1420.00,605.0 L1420.25,604.6 L1420.50,604.4 L1420.75,604.3 L1421.00,603.0 L1421.25,602.9 L1421.50,602.8 L1421.75,602.7 L1422.00,603.1 L1422.25,603.0 L1422.50,604.0 L1422.75,605.8 L1423.00,607.3 L1423.25,609.1 L1423.50,609.6 L1423.75,610.1 L1424.00,611.0 L1424.25,611.5 L1424.50,612.0 L1424.75,613.4 L1425.00,614.5 L1425.25,615.9 L1425.50,616.9 L1425.75,617.3 L1426.00,618.1 L1426.25,618.5 L1426.50,618.8 L1426.75,619.2 L1427.00,620.4 L1427.25,620.6 L1427.50,620.9 L1427.75,621.1 L1428.00,620.4 L1428.25,620.7 L1428.50,620.9 L1428.75,621.2 L1429.00,621.9 L1429.25,621.9 L1429.50,622.0 L1429.75,622.1 L1430.00,622.1 L1430.25,622.2 L1430.50,622.3 L1430.75,622.3 L1431.00,624.8 L1431.25,628.0 L1431.50,631.3 L1431.75,633.9 L1432.00,631.4 L1432.25,630.1 L1432.50,628.9 L1432.75,627.6 L1433.00,627.6 L1433.25,626.3 L1433.50,625.8 L1433.75,625.7 L1434.00,626.0 L1434.25,625.9 L1434.50,625.9 L1434.75,625.8 L1435.00,625.1 L1435.25,625.1 L1435.50,625.0 L1435.75,624.9 L1436.00,624.3 L1436.25,624.1 L1436.50,623.9 L1436.75,623.8 L1437.00,624.3 L1437.25,624.1 L1437.50,624.0 L1437.75,623.8 L1438.00,623.4 L1438.25,622.9 L1438.50,622.6 L1438.75,622.6 L1439.00,622.4 L1439.25,622.4 L1439.50,622.4 L1439.75,622.4 L1440.00,621.4 L1440.25,621.4 L1440.50,621.4 L1440.75,621.4 L1441.00,622.8 L1441.25,622.8 L1441.50,622.8 L1441.75,615.8 L1442.00,605.8 L1442.25,595.9 L1442.50,592.5 L1442.75,592.2 L1443.00,591.0 L1443.25,590.7 L1443.50,590.4 L1443.75,590.1 L1444.00,590.2 L1444.25,589.9 L1444.50,589.7 L1444.75,589.7 L1445.00,588.7 L1445.25,588.7 L1445.50,588.7 L1445.75,588.6 L1446.00,590.3 L1446.25,590.3 L1446.50,601.3 L1446.75,601.3 L1447.00,600.9 L1447.25,589.9 L1447.50,589.6 L1447.75,589.3 L1448.00,588.7 L1448.25,588.4 L1448.50,588.1 L1448.75,587.8 L1449.00,587.7 L1449.25,587.5 L1449.50,587.4 L1449.75,587.4 L1450.00,586.3 L1450.25,586.2 L1450.50,586.1 L1450.75,586.1 L1451.00,586.2 L1451.25,588.7 L1451.50,591.8 L1451.75,594.9 L1452.00,597.2 L1452.25,597.5 L1452.50,597.8 L1452.75,598.0 L1453.00,599.0 L1453.25,599.2 L1453.50,599.5 L1453.75,613.7 L1454.00,633.3 L1454.25,650.7 L1454.50,651.7 L1454.75,652.7 L1455.00,655.1 L1455.25,656.1 L1455.50,657.0 L1455.75,657.1 L1456.00,656.5 L1456.25,656.6 L1456.50,656.7 L1456.75,656.8 L1457.00,656.7 L1457.25,653.6 L1457.50,650.5 L1457.75,647.4 L1458.00,646.7 L1458.25,646.7 L1458.50,646.7 L1458.75,646.6 L1459.00,647.6 L1459.25,647.6 L1459.50,647.6 L1459.75,651.9 L1460.00,656.8 L1460.00,658.8 L1459.75,657.2 L1459.50,657.2 L1459.25,689.4 L1459.00,690.9 L1458.75,691.6 L1458.50,691.6 L1458.25,691.6 L1458.00,715.8 L1457.75,717.2 L1457.50,718.0 L1457.25,718.0 L1457.00,718.0 L1456.75,718.2 L1456.50,718.2 L1456.25,718.2 L1456.00,718.2 L1455.75,718.1 L1455.50,717.5 L1455.25,716.0 L1455.00,691.5 L1454.75,692.6 L1454.50,692.6 L1454.25,692.6 L1454.00,692.6 L1453.75,681.6 L1453.50,681.6 L1453.25,681.6 L1453.00,681.6 L1452.75,692.8 L1452.50,692.8 L1452.25,692.8 L1452.00,692.8 L1451.75,691.8 L1451.50,691.8 L1451.25,690.7 L1451.00,662.8 L1450.75,622.6 L1450.50,622.6 L1450.25,622.6 L1450.00,622.6 L1449.75,623.2 L1449.50,623.2 L1449.25,623.2 L1449.00,623.2 L1448.75,626.4 L1448.50,659.3 L1448.25,661.7 L1448.00,675.0 L1447.75,676.9 L1447.50,676.9 L1447.25,676.9 L1447.00,676.9 L1446.75,677.1 L1446.50,677.1 L1446.25,677.1 L1446.00,677.1 L1445.75,667.6 L1445.50,666.1 L1445.25,652.0 L1445.00,650.5 L1444.75,660.6 L1444.50,660.6 L1444.25,660.6 L1444.00,687.4 L1443.75,688.8 L1443.50,689.0 L1443.25,689.0 L1443.00,689.0 L1442.75,689.4 L1442.50,689.4 L1442.25,689.4 L1442.00,689.4 L1441.75,687.3 L1441.50,671.2 L1441.25,660.0 L1441.00,660.0 L1440.75,659.8 L1440.50,659.8 L1440.25,659.8 L1440.00,659.8 L1439.75,668.5 L1439.50,681.0 L1439.25,682.2 L1439.00,682.2 L1438.75,682.2 L1438.50,682.2 L1438.25,682.2 L1438.00,682.2 L1437.75,682.5 L1437.50,682.4 L1437.25,680.9 L1437.00,660.4 L1436.75,659.7 L1436.50,657.2 L1436.25,654.9 L1436.00,646.1 L1435.75,647.8 L1435.50,649.1 L1435.25,699.2 L1435.00,700.7 L1434.75,701.8 L1434.50,701.8 L1434.25,701.8 L1434.00,701.8 L1433.75,700.6 L1433.50,700.6 L1433.25,699.9 L1433.00,732.2 L1432.75,740.4 L1432.50,741.3 L1432.25,741.3 L1432.00,741.3 L1431.75,741.1 L1431.50,741.1 L1431.25,741.1 L1431.00,741.1 L1430.75,741.4 L1430.50,740.9 L1430.25,739.4 L1430.00,737.1 L1429.75,738.7 L1429.50,738.7 L1429.25,738.7 L1429.00,738.7 L1428.75,738.3 L1428.50,738.3 L1428.25,738.3 L1428.00,738.3 L1427.75,737.6 L1427.50,736.1 L1427.25,659.5 L1427.00,687.8 L1426.75,689.1 L1426.50,678.7 L1426.25,678.7 L1426.00,678.7 L1425.75,691.0 L1425.50,690.9 L1425.25,687.8 L1425.00,737.4 L1424.75,738.9 L1424.50,738.9 L1424.25,749.9 L1424.00,749.9 L1423.75,749.3 L1423.50,749.3 L1423.25,749.3 L1423.00,749.3 L1422.75,748.7 L1422.50,748.7 L1422.25,748.7 L1422.00,748.7 L1421.75,749.3 L1421.50,747.9 L1421.25,695.9 L1421.00,684.2 L1420.75,683.6 L1420.50,683.6 L1420.25,682.2 L1420.00,666.0 L1419.75,764.2 L1419.50,765.7 L1419.25,766.0 L1419.00,766.0 L1418.75,765.8 L1418.50,754.8 L1418.25,754.8 L1418.00,754.8 L1417.75,765.6 L1417.50,765.6 L1417.25,765.6 L1417.00,765.6 L1416.75,766.8 L1416.50,766.8 L1416.25,765.7 L1416.00,727.5 L1415.75,664.2 L1415.50,672.1 L1415.25,673.4 L1415.00,673.4 L1414.75,672.5 L1414.50,672.5 L1414.25,672.5 L1414.00,672.5 L1413.75,672.4 L1413.50,672.3 L1413.25,670.8 L1413.00,658.5 L1412.75,656.7 L1412.50,654.5 L1412.25,652.2 L1412.00,650.0 L1411.75,648.9 L1411.50,647.8 L1411.25,646.6 L1411.00,645.4 L1410.75,643.4 L1410.50,642.2 L1410.25,641.0 L1410.00,639.9 L1409.75,643.2 L1409.50,647.2 L1409.25,651.2 L1409.00,655.2 L1408.75,673.5 L1408.50,680.8 L1408.25,681.8 L1408.00,681.8 L1407.75,682.9 L1407.50,682.9 L1407.25,682.9 L1407.00,682.9 L1406.75,681.4 L1406.50,681.4 L1406.25,681.4 L1406.00,681.4 L1405.75,672.0 L1405.50,672.0 L1405.25,671.7 L1405.00,670.2 L1404.75,680.8 L1404.50,714.9 L1404.25,716.2 L1404.00,716.2 L1403.75,716.2 L1403.50,716.2 L1403.25,716.2 L1403.00,716.2 L1402.75,716.2 L1402.50,716.0 L1402.25,714.5 L1402.00,689.2 L1401.75,689.2 L1401.50,689.2 L1401.25,689.2 L1401.00,689.2 L1400.75,688.0 L1400.50,686.4 L1400.25,673.5 L1400.00,674.2 L1399.75,673.2 L1399.50,673.2 L1399.25,673.2 L1399.00,673.2 L1398.75,674.2 L1398.50,674.2 L1398.25,674.2 L1398.00,674.2 L1397.75,674.1 L1397.50,672.7 L1397.25,663.2 L1397.00,648.9 L1396.75,648.8 L1396.50,648.8 L1396.25,659.8 L1396.00,659.8 L1395.75,659.2 L1395.50,696.4 L1395.25,725.4 L1395.00,726.5 L1394.75,726.6 L1394.50,726.6 L1394.25,726.6 L1394.00,726.6 L1393.75,727.9 L1393.50,727.9 L1393.25,727.6 L1393.00,726.1 L1392.75,723.4 L1392.50,724.7 L1392.25,724.7 L1392.00,724.7 L1391.75,724.4 L1391.50,724.4 L1391.25,724.4 L1391.00,724.4 L1390.75,723.9 L1390.50,722.4 L1390.25,677.1 L1390.00,678.5 L1389.75,678.1 L1389.50,678.1 L1389.25,678.1 L1389.00,678.1 L1388.75,677.9 L1388.50,677.9 L1388.25,677.9 L1388.00,676.4 L1387.75,662.0 L1387.50,660.3 L1387.25,660.3 L1387.00,660.3 L1386.75,660.3 L1386.50,660.3 L1386.25,660.3 L1386.00,660.3 L1385.75,658.9 L1385.50,658.9 L1385.25,658.9 L1385.00,658.9 L1384.75,663.7 L1384.50,666.8 L1384.25,667.9 L1384.00,667.9 L1383.75,666.8 L1383.50,666.8 L1383.25,666.8 L1383.00,666.8 L1382.75,666.7 L1382.50,666.4 L1382.25,664.9 L1382.00,659.3 L1381.75,659.5 L1381.50,659.5 L1381.25,681.0 L1381.00,725.1 L1380.75,727.0 L1380.50,727.0 L1380.25,727.0 L1380.00,727.0 L1379.75,727.1 L1379.50,727.1 L1379.25,727.1 L1379.00,727.1 L1378.75,726.3 L1378.50,726.3 L1378.25,726.3 L1378.00,725.5 L1377.75,723.0 L1377.50,699.3 L1377.25,700.0 L1377.00,700.0 L1376.75,700.6 L1376.50,700.6 L1376.25,700.6 L1376.00,700.6 L1375.75,701.3 L1375.50,700.6 L1375.25,699.1 L1375.00,660.2 L1374.75,659.0 L1374.50,668.1 L1374.25,669.6 L1374.00,669.8 L1373.75,670.5 L1373.50,670.5 L1373.25,670.5 L1373.00,670.5 L1372.75,670.0 L1372.50,670.0 L1372.25,668.9 L1372.00,663.2 L1371.75,748.3 L1371.50,749.8 L1371.25,750.2 L1371.00,750.2 L1370.75,749.8 L1370.50,749.8 L1370.25,749.8 L1370.00,749.8 L1369.75,750.0 L1369.50,750.0 L1369.25,750.0 L1369.00,750.0 L1368.75,749.7 L1368.50,728.7 L1368.25,751.1 L1368.00,752.6 L1367.75,752.1 L1367.50,752.1 L1367.25,752.1 L1367.00,752.1 L1366.75,752.9 L1366.50,752.9 L1366.25,752.9 L1366.00,752.2 L1365.75,750.4 L1365.50,702.6 L1365.25,703.4 L1365.00,703.4 L1364.75,691.7 L1364.50,691.7 L1364.25,691.7 L1364.00,690.3 L1363.75,667.9 L1363.50,660.0 L1363.25,729.2 L1363.00,751.6 L1362.75,751.6 L1362.50,751.6 L1362.25,751.6 L1362.00,751.6 L1361.75,751.3 L1361.50,751.3 L1361.25,750.8 L1361.00,749.3 L1360.75,672.5 L1360.50,684.5 L1360.25,685.6 L1360.00,685.6 L1359.75,685.6 L1359.50,685.6 L1359.25,685.6 L1359.00,680.3 L1358.75,669.2 L1358.50,654.2 L1358.25,658.5 L1358.00,658.5 L1357.75,659.8 L1357.50,659.8 L1357.25,659.8 L1357.00,667.8 L1356.75,695.9 L1356.50,697.2 L1356.25,697.2 L1356.00,697.2 L1355.75,696.9 L1355.50,696.9 L1355.25,696.9 L1355.00,696.9 L1354.75,697.3 L1354.50,697.3 L1354.25,695.8 L1354.00,660.3 L1353.75,780.5 L1353.50,789.8 L1353.25,790.6 L1353.00,790.6 L1352.75,791.1 L1352.50,791.1 L1352.25,791.1 L1352.00,791.1 L1351.75,791.4 L1351.50,791.4 L1351.25,790.9 L1351.00,789.4 L1350.75,658.6 L1350.50,658.6 L1350.25,658.6 L1350.00,675.0 L1349.75,686.6 L1349.50,687.7 L1349.25,687.7 L1349.00,687.7 L1348.75,676.9 L1348.50,676.9 L1348.25,676.9 L1348.00,676.9 L1347.75,686.9 L1347.50,689.9 L1347.25,697.4 L1347.00,698.6 L1346.75,698.8 L1346.50,698.8 L1346.25,698.8 L1346.00,698.8 L1345.75,698.8 L1345.50,698.8 L1345.25,698.6 L1345.00,697.1 L1344.75,652.8 L1344.50,647.4 L1344.25,653.7 L1344.00,671.3 L1343.75,672.3 L1343.50,673.1 L1343.25,673.1 L1343.00,673.1 L1342.75,673.2 L1342.50,671.8 L1342.25,728.6 L1342.00,730.1 L1341.75,730.0 L1341.50,730.0 L1341.25,730.0 L1341.00,730.0 L1340.75,729.0 L1340.50,728.4 L1340.25,760.2 L1340.00,760.6 L1339.75,762.2 L1339.50,762.2 L1339.25,773.2 L1339.00,773.2 L1338.75,773.7 L1338.50,773.7 L1338.25,773.7 L1338.00,773.7 L1337.75,772.3 L1337.50,770.8 L1337.25,658.3 L1337.00,658.3 L1336.75,659.4 L1336.50,665.6 L1336.25,674.6 L1336.00,675.8 L1335.75,674.5 L1335.50,674.5 L1335.25,674.5 L1335.00,674.5 L1334.75,675.6 L1334.50,675.4 L1334.25,673.9 L1334.00,659.2 L1333.75,659.3 L1333.50,666.7 L1333.25,668.2 L1333.00,668.8 L1332.75,668.3 L1332.50,668.3 L1332.25,668.3 L1332.00,668.3 L1331.75,665.9 L1331.50,657.9 L1331.25,657.9 L1331.00,657.0 L1330.75,656.4 L1330.50,656.3 L1330.25,658.2 L1330.00,703.7 L1329.75,704.4 L1329.50,704.5 L1329.25,704.5 L1329.00,704.5 L1328.75,705.0 L1328.50,705.0 L1328.25,705.0 L1328.00,705.0 L1327.75,704.3 L1327.50,703.8 L1327.25,702.3 L1327.00,658.2 L1326.75,659.5 L1326.50,659.5 L1326.25,659.5 L1326.00,664.3 L1325.75,669.6 L1325.50,670.8 L1325.25,670.8 L1325.00,670.8 L1324.75,658.5 L1324.50,658.5 L1324.25,658.5 L1324.00,658.5 L1323.75,670.6 L1323.50,670.6 L1323.25,659.6 L1323.00,658.6 L1322.75,654.9 L1322.50,647.4 L1322.25,657.7 L1322.00,657.1 L1321.75,656.2 L1321.50,655.7 L1321.25,656.9 L1321.00,658.4 L1320.75,663.2 L1320.50,664.7 L1320.25,664.7 L1320.00,664.7 L1319.75,663.6 L1319.50,663.6 L1319.25,663.6 L1319.00,663.6 L1318.75,663.2 L1318.50,663.2 L1318.25,663.2 L1318.00,663.2 L1317.75,664.2 L1317.50,664.2 L1317.25,664.2 L1317.00,664.2 L1316.75,663.0 L1316.50,663.0 L1316.25,663.0 L1316.00,661.7 L1315.75,647.5 L1315.50,643.1 L1315.25,640.1 L1315.00,640.9 L1314.75,652.3 L1314.50,654.0 L1314.25,655.8 L1314.00,666.8 L1313.75,679.6 L1313.50,680.8 L1313.25,680.8 L1313.00,680.8 L1312.75,679.4 L1312.50,679.4 L1312.25,679.4 L1312.00,679.4 L1311.75,680.3 L1311.50,680.3 L1311.25,680.3 L1311.00,679.4 L1310.75,674.6 L1310.50,658.2 L1310.25,660.4 L1310.00,673.2 L1309.75,673.6 L1309.50,673.6 L1309.25,673.6 L1309.00,673.6 L1308.75,674.7 L1308.50,674.7 L1308.25,674.7 L1308.00,674.7 L1307.75,673.4 L1307.50,673.4 L1307.25,672.8 L1307.00,671.3 L1306.75,654.8 L1306.50,654.1 L1306.25,653.3 L1306.00,652.6 L1305.75,652.5 L1305.50,650.0 L1305.25,647.3 L1305.00,644.5 L1304.75,641.3 L1304.50,638.5 L1304.25,636.9 L1304.00,624.5 L1303.75,624.1 L1303.50,622.8 L1303.25,636.5 L1303.00,650.3 L1302.75,675.0 L1302.50,676.5 L1302.25,676.9 L1302.00,676.9 L1301.75,677.4 L1301.50,666.4 L1301.25,666.4 L1301.00,666.4 L1300.75,676.6 L1300.50,676.6 L1300.25,676.6 L1300.00,676.6 L1299.75,677.5 L1299.50,676.0 L1299.25,660.7 L1299.00,660.7 L1298.75,679.4 L1298.50,680.9 L1298.25,681.5 L1298.00,681.5 L1297.75,681.5 L1297.50,681.5 L1297.25,681.5 L1297.00,681.5 L1296.75,681.2 L1296.50,681.2 L1296.25,670.2 L1296.00,670.2 L1295.75,669.8 L1295.50,669.8 L1295.25,680.2 L1295.00,678.7 L1294.75,666.8 L1294.50,666.8 L1294.25,666.8 L1294.00,666.8 L1293.75,667.0 L1293.50,667.0 L1293.25,665.8 L1293.00,658.7 L1292.75,653.3 L1292.50,650.5 L1292.25,647.8 L1292.00,645.0 L1291.75,642.0 L1291.50,638.4 L1291.25,634.8 L1291.00,631.3 L1290.75,633.2 L1290.50,638.2 L1290.25,643.2 L1290.00,648.2 L1289.75,650.2 L1289.50,650.3 L1289.25,650.4 L1289.00,650.6 L1288.75,651.1 L1288.50,645.0 L1288.25,645.1 L1288.00,645.3 L1287.75,651.6 L1287.50,651.8 L1287.25,651.9 L1287.00,655.3 L1286.75,666.8 L1286.50,668.3 L1286.25,669.0 L1286.00,669.0 L1285.75,668.7 L1285.50,668.7 L1285.25,668.7 L1285.00,668.7 L1284.75,668.1 L1284.50,668.1 L1284.25,668.1 L1284.00,668.1 L1283.75,669.8 L1283.50,669.8 L1283.25,669.8 L1283.00,669.8 L1282.75,668.0 L1282.50,668.0 L1282.25,668.0 L1282.00,667.5 L1281.75,680.5 L1281.50,688.0 L1281.25,689.1 L1281.00,689.1 L1280.75,689.9 L1280.50,689.9 L1280.25,689.9 L1280.00,689.9 L1279.75,689.6 L1279.50,689.6 L1279.25,689.6 L1279.00,689.6 L1278.75,688.6 L1278.50,677.6 L1278.25,677.3 L1278.00,681.6 L1277.75,703.6 L1277.50,704.9 L1277.25,704.9 L1277.00,704.9 L1276.75,705.6 L1276.50,705.6 L1276.25,705.6 L1276.00,705.6 L1275.75,704.8 L1275.50,704.8 L1275.25,704.0 L1275.00,699.7 L1274.75,672.8 L1274.50,673.5 L1274.25,673.5 L1274.00,673.5 L1273.75,671.9 L1273.50,671.9 L1273.25,671.9 L1273.00,670.4 L1272.75,660.4 L1272.50,659.2 L1272.25,659.2 L1272.00,659.2 L1271.75,659.4 L1271.50,688.1 L1271.25,689.6 L1271.00,689.8 L1270.75,689.8 L1270.50,689.8 L1270.25,689.8 L1270.00,689.3 L1269.75,687.7 L1269.50,715.0 L1269.25,751.8 L1269.00,752.9 L1268.75,752.8 L1268.50,752.8 L1268.25,752.8 L1268.00,752.8 L1267.75,753.6 L1267.50,753.6 L1267.25,753.6 L1267.00,753.6 L1266.75,754.0 L1266.50,753.0 L1266.25,721.8 L1266.00,666.7 L1265.75,681.2 L1265.50,682.5 L1265.25,682.5 L1265.00,682.5 L1264.75,683.4 L1264.50,681.9 L1264.25,659.4 L1264.00,641.9 L1263.75,640.3 L1263.50,640.3 L1263.25,640.3 L1263.00,640.3 L1262.75,641.2 L1262.50,641.2 L1262.25,641.2 L1262.00,641.2 L1261.75,640.9 L1261.50,638.9 L1261.25,636.8 L1261.00,635.6 L1260.75,634.1 L1260.50,634.1 L1260.25,634.1 L1260.00,634.1 L1259.75,635.3 L1259.50,636.2 L1259.25,638.7 L1259.00,641.2 L1258.75,642.6 L1258.50,645.1 L1258.25,647.1 L1258.00,647.9 L1257.75,650.1 L1257.50,650.9 L1257.25,651.7 L1257.00,652.6 L1256.75,652.3 L1256.50,653.2 L1256.25,652.8 L1256.00,651.9 L1255.75,650.8 L1255.50,650.0 L1255.25,649.2 L1255.00,648.3 L1254.75,648.0 L1254.50,647.4 L1254.25,648.1 L1254.00,648.9 L1253.75,650.6 L1253.50,651.4 L1253.25,652.1 L1253.00,652.2 L1252.75,651.1 L1252.50,651.3 L1252.25,651.4 L1252.00,651.6 L1251.75,651.4 L1251.50,651.6 L1251.25,653.0 L1251.00,655.5 L1250.75,658.5 L1250.50,658.5 L1250.25,658.6 L1250.00,658.7 L1249.75,659.3 L1249.50,659.3 L1249.25,659.4 L1249.00,659.4 L1248.75,659.9 L1248.50,660.0 L1248.25,660.1 L1248.00,660.1 L1247.75,659.2 L1247.50,714.9 L1247.25,716.4 L1247.00,716.6 L1246.75,717.6 L1246.50,717.6 L1246.25,717.6 L1246.00,717.6 L1245.75,716.7 L1245.50,716.7 L1245.25,715.5 L1245.00,685.2 L1244.75,653.5 L1244.50,653.5 L1244.25,653.5 L1244.00,653.5 L1243.75,694.5 L1243.50,696.0 L1243.25,696.5 L1243.00,696.5 L1242.75,695.3 L1242.50,695.3 L1242.25,695.3 L1242.00,684.3 L1241.75,684.4 L1241.50,683.5 L1241.25,688.0 L1241.00,656.1 L1240.75,652.1 L1240.50,649.5 L1240.25,649.4 L1240.00,649.3 L1239.75,648.0 L1239.50,636.9 L1239.25,636.8 L1239.00,636.7 L1238.75,648.1 L1238.50,648.0 L1238.25,647.9 L1238.00,647.8 L1237.75,648.2 L1237.50,648.1 L1237.25,648.5 L1237.00,648.8 L1236.75,648.6 L1236.50,649.0 L1236.25,649.4 L1236.00,649.7 L1235.75,650.5 L1235.50,650.8 L1235.25,651.2 L1235.00,659.1 L1234.75,663.8 L1234.50,664.9 L1234.25,664.9 L1234.00,664.9 L1233.75,665.4 L1233.50,665.4 L1233.25,665.4 L1233.00,665.4 L1232.75,665.8 L1232.50,665.8 L1232.25,665.8 L1232.00,664.8 L1231.75,661.6 L1231.50,659.3 L1231.25,659.3 L1231.00,659.3ZM1461.50,660.6 L1461.75,660.4 L1462.00,659.3 L1462.25,658.9 L1462.50,658.5 L1462.75,658.1 L1463.00,658.6 L1463.25,658.2 L1463.50,657.8 L1463.75,657.6 L1464.00,657.0 L1464.25,657.6 L1464.50,658.2 L1464.75,658.8 L1465.00,660.6 L1465.25,661.2 L1465.50,661.8 L1465.75,659.9 L1466.00,656.3 L1466.25,653.2 L1466.50,652.0 L1466.75,652.0 L1467.00,651.4 L1467.25,651.3 L1467.50,651.3 L1467.75,651.2 L1468.00,651.6 L1468.25,651.5 L1468.50,651.5 L1468.75,651.4 L1469.00,651.6 L1469.25,651.5 L1469.50,652.6 L1469.75,654.9 L1470.00,656.5 L1470.25,658.7 L1470.50,661.0 L1470.75,662.5 L1471.00,664.2 L1471.25,664.8 L1471.50,665.4 L1471.75,666.0 L1472.00,665.9 L1472.25,665.4 L1472.50,663.1 L1472.75,660.7 L1473.00,659.2 L1473.25,657.6 L1473.50,657.5 L1473.75,657.5 L1474.00,657.3 L1474.25,657.2 L1474.50,668.1 L1474.75,668.0 L1475.00,666.6 L1475.25,656.5 L1475.50,657.8 L1475.75,659.0 L1476.00,661.3 L1476.25,662.5 L1476.50,663.7 L1476.75,664.9 L1477.00,665.4 L1477.25,666.6 L1477.50,667.8 L1477.75,668.9 L1478.00,670.9 L1478.25,672.0 L1478.50,672.1 L1478.75,672.3 L1479.00,672.1 L1479.25,672.3 L1479.50,672.5 L1479.75,672.7 L1480.00,672.7 L1480.00,699.1 L1479.75,699.4 L1479.50,700.2 L1479.25,700.2 L1479.00,700.2 L1478.75,700.7 L1478.50,700.7 L1478.25,700.7 L1478.00,700.7 L1477.75,699.2 L1477.50,725.9 L1477.25,727.4 L1477.00,727.7 L1476.75,727.0 L1476.50,727.0 L1476.25,727.0 L1476.00,727.0 L1475.75,728.5 L1475.50,728.5 L1475.25,728.5 L1475.00,728.2 L1474.75,726.0 L1474.50,685.7 L1474.25,718.4 L1474.00,719.6 L1473.75,718.8 L1473.50,718.8 L1473.25,718.8 L1473.00,718.8 L1472.75,720.0 L1472.50,720.0 L1472.25,719.8 L1472.00,718.3 L1471.75,705.6 L1471.50,705.6 L1471.25,705.6 L1471.00,705.6 L1470.75,706.0 L1470.50,706.0 L1470.25,706.0 L1470.00,706.0 L1469.75,705.7 L1469.50,705.7 L1469.25,705.7 L1469.00,705.7 L1468.75,705.1 L1468.50,705.1 L1468.25,703.7 L1468.00,664.8 L1467.75,706.4 L1467.50,707.9 L1467.25,708.0 L1467.00,708.0 L1466.75,707.8 L1466.50,707.8 L1466.25,707.8 L1466.00,707.8 L1465.75,708.2 L1465.50,708.2 L1465.25,707.7 L1465.00,706.2 L1464.75,660.9 L1464.50,660.9 L1464.25,705.2 L1464.00,706.7 L1463.75,705.7 L1463.50,705.7 L1463.25,705.7 L1463.00,705.7 L1462.75,705.6 L1462.50,705.6 L1462.25,705.6 L1462.00,705.6 L1461.75,705.9 L1461.50,690.8Z" fill="#ff0000" clip-path="url(#c2)"/>
<path d="M1480.00,662.3 L1480.25,657.0 L1480.50,656.4 L1480.75,656.3 L1481.00,657.2 L1481.25,657.1 L1481.50,657.0 L1481.75,656.9 L1482.00,656.8 L1482.25,656.8 L1482.50,657.5 L1482.75,659.8 L1483.00,672.6 L1483.25,674.9 L1483.50,677.3 L1483.75,678.9 L1484.00,667.2 L1484.25,666.4 L1484.50,665.7 L1484.75,664.9 L1485.00,664.2 L1485.25,663.2 L1485.50,673.2 L1485.75,672.2 L1486.00,671.6 L1486.25,659.7 L1486.50,659.2 L1486.75,658.7 L1487.00,657.9 L1487.25,657.4 L1487.50,656.9 L1487.75,656.4 L1488.00,655.6 L1488.25,655.1 L1488.50,654.6 L1488.75,654.1 L1489.00,654.4 L1489.25,654.2 L1489.50,654.1 L1489.75,653.9 L1490.00,653.4 L1490.25,653.2 L1490.50,653.1 L1490.75,653.0 L1491.00,654.4 L1491.25,654.4 L1491.50,654.5 L1491.75,654.6 L1492.00,654.8 L1492.25,654.8 L1492.50,654.9 L1492.75,655.0 L1493.00,654.8 L1493.25,658.9 L1493.50,663.0 L1493.75,667.1 L1494.00,669.0 L1494.25,668.9 L1494.50,668.9 L1494.75,668.8 L1495.00,668.5 L1495.25,668.4 L1495.50,668.3 L1495.75,668.2 L1496.00,668.6 L1496.25,668.4 L1496.50,668.3 L1496.75,668.1 L1497.00,667.5 L1497.25,667.4 L1497.50,667.2 L1497.75,667.9 L1498.00,668.8 L1498.25,669.9 L1498.50,671.0 L1498.75,672.2 L1499.00,673.0 L1499.25,673.3 L1499.50,673.5 L1499.75,673.8 L1500.00,673.5 L1500.25,673.7 L1500.50,674.0 L1500.75,674.2 L1501.00,675.0 L1501.25,675.3 L1501.50,675.4 L1501.75,675.4 L1502.00,675.6 L1502.25,675.6 L1502.50,675.6 L1502.75,675.6 L1503.00,675.0 L1503.25,675.0 L1503.50,675.0 L1503.75,675.0 L1504.00,675.9 L1504.25,676.1 L1504.50,676.3 L1504.75,676.5 L1505.00,676.4 L1505.25,676.6 L1505.50,676.8 L1505.75,677.0 L1506.00,677.5 L1506.25,677.7 L1506.50,677.9 L1506.75,678.0 L1507.00,676.6 L1507.25,676.8 L1507.50,676.9 L1507.75,677.0 L1508.00,677.8 L1508.25,677.9 L1508.50,678.0 L1508.75,678.1 L1509.00,679.2 L1509.25,680.5 L1509.50,681.7 L1509.75,683.0 L1510.00,682.5 L1510.25,681.8 L1510.50,681.1 L1510.75,680.4 L1511.00,680.1 L1511.25,679.4 L1511.50,678.7 L1511.75,678.0 L1512.00,684.0 L1512.25,683.5 L1512.50,683.2 L1512.75,682.9 L1513.00,674.7 L1513.25,674.3 L1513.50,674.0 L1513.75,673.7 L1514.00,673.5 L1514.25,673.2 L1514.50,672.9 L1514.75,673.3 L1515.00,675.8 L1515.25,677.1 L1515.50,678.5 L1515.75,679.9 L1516.00,691.6 L1516.25,691.0 L1516.50,690.4 L1516.75,678.7 L1517.00,677.9 L1517.25,677.2 L1517.50,677.1 L1517.75,678.3 L1518.00,678.7 L1518.25,679.8 L1518.50,681.0 L1518.75,682.1 L1519.00,683.5 L1519.25,683.9 L1519.50,687.5 L1519.75,687.6 L1520.00,688.0 L1520.25,684.7 L1520.50,684.8 L1520.75,684.9 L1521.00,684.9 L1521.25,685.0 L1521.50,685.1 L1521.75,685.0 L1522.00,684.8 L1522.25,684.6 L1522.50,684.5 L1522.75,684.3 L1523.00,684.0 L1523.25,683.8 L1523.50,683.6 L1523.75,683.4 L1524.00,684.0 L1524.25,683.9 L1524.50,683.8 L1524.75,683.7 L1525.00,682.4 L1525.25,682.3 L1525.50,682.2 L1525.75,682.2 L1526.00,683.0 L1526.25,680.7 L1526.50,678.2 L1526.75,676.6 L1527.00,676.5 L1527.25,676.3 L1527.50,676.1 L1527.75,676.0 L1528.00,676.2 L1528.25,676.0 L1528.50,675.9 L1528.75,672.6 L1529.00,678.0 L1529.25,675.1 L1529.50,674.9 L1529.75,674.7 L1530.00,664.7 L1530.25,664.5 L1530.50,664.3 L1530.75,664.2 L1531.00,664.0 L1531.25,661.4 L1531.50,657.9 L1531.75,654.3 L1532.00,650.3 L1532.25,649.0 L1532.50,649.0 L1532.75,648.9 L1533.00,648.1 L1533.25,648.0 L1533.50,647.9 L1533.75,647.9 L1534.00,647.8 L1534.25,647.7 L1534.50,648.5 L1534.75,649.2 L1535.00,650.2 L1535.25,651.0 L1535.50,651.7 L1535.75,651.7 L1536.00,663.8 L1536.25,663.8 L1536.50,663.8 L1536.75,663.8 L1537.00,651.7 L1537.25,652.9 L1537.50,655.8 L1537.75,658.6 L1538.00,661.5 L1538.25,662.2 L1538.50,662.7 L1538.75,663.2 L1539.00,664.1 L1539.25,664.6 L1539.50,665.6 L1539.75,666.7 L1540.00,668.1 L1540.25,669.2 L1540.50,670.4 L1540.75,670.6 L1541.00,671.1 L1541.25,671.1 L1541.50,671.1 L1541.75,671.2 L1542.00,671.4 L1542.25,671.5 L1542.50,671.5 L1542.75,671.5 L1543.00,670.6 L1543.25,670.7 L1543.50,670.7 L1543.75,670.7 L1544.00,671.9 L1544.25,672.0 L1544.50,674.8 L1544.75,679.3 L1545.00,681.8 L1545.25,682.0 L1545.50,682.1 L1545.75,682.3 L1546.00,683.1 L1546.25,683.3 L1546.50,683.4 L1546.75,683.6 L1547.00,683.9 L1547.25,685.0 L1547.50,686.0 L1547.75,687.1 L1548.00,687.1 L1548.25,686.8 L1548.50,686.5 L1548.75,686.2 L1549.00,678.3 L1549.25,669.5 L1549.50,664.3 L1549.75,664.4 L1550.00,664.6 L1550.25,664.7 L1550.50,664.9 L1550.75,665.5 L1551.00,666.8 L1551.25,668.3 L1551.50,668.2 L1551.75,667.7 L1552.00,666.8 L1552.25,666.3 L1552.50,665.8 L1552.75,665.5 L1553.00,665.3 L1553.25,665.0 L1553.50,664.8 L1553.75,664.5 L1554.00,665.2 L1554.25,660.7 L1554.50,657.0 L1554.75,653.1 L1555.00,654.0 L1555.25,654.0 L1555.50,654.0 L1555.75,654.0 L1556.00,653.4 L1556.25,653.4 L1556.50,653.5 L1556.75,653.5 L1557.00,653.9 L1557.25,653.9 L1557.50,663.3 L1557.75,663.3 L1558.00,663.2 L1558.25,654.0 L1558.50,654.1 L1558.75,654.2 L1559.00,654.2 L1559.25,654.3 L1559.50,654.5 L1559.75,654.6 L1560.00,655.3 L1560.25,655.4 L1560.50,655.6 L1560.75,655.7 L1561.00,655.6 L1561.25,655.7 L1561.50,655.9 L1561.75,656.0 L1562.00,655.7 L1562.25,658.2 L1562.50,661.0 L1562.75,663.9 L1563.00,667.4 L1563.25,668.7 L1563.50,669.9 L1563.75,671.2 L1564.00,671.7 L1564.25,675.2 L1564.50,678.7 L1564.75,680.1 L1565.00,690.9 L1565.25,691.5 L1565.50,692.2 L1565.75,692.9 L1566.00,684.1 L1566.25,684.8 L1566.50,685.4 L1566.75,685.6 L1567.00,685.5 L1567.25,685.7 L1567.50,685.8 L1567.75,686.0 L1568.00,685.6 L1568.25,685.8 L1568.50,685.3 L1568.75,684.3 L1569.00,683.2 L1569.25,682.2 L1569.50,681.2 L1569.75,680.6 L1570.00,681.3 L1570.25,681.2 L1570.50,681.2 L1570.75,681.1 L1571.00,680.5 L1571.25,680.5 L1571.50,680.4 L1571.75,681.2 L1572.00,681.8 L1572.25,682.8 L1572.50,683.7 L1572.75,684.7 L1573.00,686.3 L1573.25,687.1 L1573.50,687.8 L1573.75,688.6 L1574.00,689.6 L1574.25,690.4 L1574.50,699.1 L1574.75,699.8 L1575.00,699.2 L1575.25,691.8 L1575.50,692.3 L1575.75,692.8 L1576.00,694.0 L1576.25,694.0 L1576.50,694.0 L1576.75,694.0 L1577.00,704.3 L1577.25,704.3 L1577.50,704.3 L1577.75,693.3 L1578.00,694.5 L1578.25,694.5 L1578.50,694.5 L1578.75,694.5 L1579.00,694.5 L1579.25,694.5 L1579.50,694.5 L1579.75,694.5 L1580.00,693.6 L1580.25,693.6 L1580.50,693.6 L1580.75,693.6 L1581.00,693.2 L1581.25,690.5 L1581.50,698.7 L1581.75,696.0 L1582.00,694.7 L1582.25,681.0 L1582.50,678.7 L1582.75,676.4 L1583.00,673.5 L1583.25,671.2 L1583.50,669.0 L1583.75,663.7 L1584.00,657.5 L1584.25,652.0 L1584.50,648.5 L1584.75,648.5 L1585.00,648.5 L1585.25,648.5 L1585.50,648.5 L1585.75,648.5 L1586.00,649.8 L1586.25,649.8 L1586.50,647.9 L1586.75,641.2 L1587.00,634.0 L1587.25,629.0 L1587.50,629.0 L1587.75,628.9 L1588.00,628.3 L1588.25,628.3 L1588.50,628.3 L1588.75,628.2 L1589.00,628.7 L1589.25,630.4 L1589.50,640.7 L1589.75,651.0 L1590.00,659.6 L1590.25,659.9 L1590.50,660.1 L1590.75,660.4 L1591.00,661.6 L1591.25,659.6 L1591.50,656.0 L1591.75,652.5 L1592.00,648.2 L1592.25,640.0 L1592.50,631.9 L1592.75,623.9 L1593.00,624.7 L1593.25,624.6 L1593.50,624.6 L1593.75,624.6 L1594.00,623.7 L1594.25,623.7 L1594.50,634.7 L1594.75,648.5 L1595.00,664.1 L1595.25,679.0 L1595.50,673.3 L1595.75,677.6 L1596.00,680.7 L1596.25,683.5 L1596.50,683.6 L1596.75,683.6 L1597.00,684.2 L1597.25,684.3 L1597.50,684.4 L1597.75,684.5 L1598.00,684.5 L1598.25,684.1 L1598.50,683.6 L1598.75,683.1 L1599.00,683.1 L1599.25,682.6 L1599.50,682.1 L1599.75,679.6 L1600.00,675.0 L1600.25,671.8 L1600.50,668.5 L1600.75,665.3 L1601.00,665.6 L1601.25,665.6 L1601.50,665.6 L1601.75,665.6 L1602.00,665.5 L1602.25,665.5 L1602.50,665.4 L1602.75,664.1 L1603.00,662.2 L1603.25,660.9 L1603.50,659.7 L1603.75,658.4 L1604.00,657.3 L1604.25,656.8 L1604.50,656.3 L1604.75,655.8 L1605.00,656.6 L1605.25,654.1 L1605.50,651.6 L1605.75,649.1 L1606.00,646.5 L1606.25,644.0 L1606.50,643.7 L1606.75,643.7 L1607.00,644.0 L1607.25,644.0 L1607.50,643.9 L1607.75,643.8 L1608.00,643.1 L1608.25,643.1 L1608.50,643.0 L1608.75,643.0 L1609.00,642.7 L1609.25,641.4 L1609.50,640.5 L1609.75,640.5 L1610.00,639.3 L1610.25,639.3 L1610.50,639.3 L1610.75,639.3 L1611.00,649.4 L1611.25,649.4 L1611.50,650.4 L1611.75,641.8 L1612.00,643.9 L1612.25,645.2 L1612.50,645.8 L1612.75,646.4 L1613.00,646.9 L1613.25,647.5 L1613.50,648.1 L1613.75,648.6 L1614.00,651.2 L1614.25,655.2 L1614.50,659.1 L1614.75,663.0 L1615.00,666.7 L1615.25,670.2 L1615.50,673.6 L1615.75,676.9 L1616.00,659.6 L1616.25,642.6 L1616.50,633.7 L1616.75,633.6 L1617.00,644.4 L1617.25,644.3 L1617.50,644.2 L1617.75,633.2 L1618.00,633.3 L1618.25,637.0 L1618.50,641.1 L1618.75,641.2 L1619.00,640.5 L1619.25,640.1 L1619.50,639.7 L1619.75,639.3 L1620.00,638.3 L1620.25,638.0 L1620.50,637.8 L1620.75,637.6 L1621.00,638.4 L1621.25,638.2 L1621.50,638.0 L1621.75,637.8 L1622.00,636.6 L1622.25,636.4 L1622.50,636.2 L1622.75,636.0 L1623.00,636.8 L1623.25,636.7 L1623.50,636.6 L1623.75,636.5 L1624.00,636.1 L1624.25,636.0 L1624.50,632.6 L1624.75,627.3 L1625.00,624.9 L1625.25,624.8 L1625.50,624.7 L1625.75,624.6 L1626.00,624.2 L1626.25,624.1 L1626.50,624.0 L1626.75,624.0 L1627.00,624.6 L1627.25,623.6 L1627.50,622.5 L1627.75,621.4 L1628.00,619.9 L1628.25,619.9 L1628.50,619.8 L1628.75,619.8 L1629.00,621.1 L1629.25,621.0 L1629.50,621.5 L1629.75,622.6 L1630.00,623.6 L1630.25,624.7 L1630.50,624.8 L1630.75,624.7 L1631.00,624.2 L1631.25,624.1 L1631.50,624.0 L1631.75,623.9 L1632.00,623.6 L1632.25,621.6 L1632.50,619.6 L1632.75,617.7 L1633.00,616.5 L1633.25,616.4 L1633.50,616.3 L1633.75,616.2 L1634.00,617.2 L1634.25,617.1 L1634.50,617.0 L1634.75,616.6 L1635.00,613.3 L1635.25,611.3 L1635.50,610.7 L1635.75,610.7 L1636.00,611.4 L1636.25,611.4 L1636.50,611.4 L1636.75,611.4 L1637.00,611.2 L1637.25,611.8 L1637.50,612.3 L1637.75,612.8 L1638.00,613.5 L1638.25,613.6 L1638.50,613.8 L1638.75,613.9 L1639.00,613.7 L1639.25,614.3 L1639.50,626.6 L1639.75,627.8 L1640.00,629.9 L1640.25,618.3 L1640.50,617.5 L1640.75,616.8 L1641.00,615.9 L1641.25,615.1 L1641.50,615.0 L1641.75,615.0 L1642.00,615.1 L1642.25,615.1 L1642.50,615.1 L1642.75,615.6 L1643.00,614.7 L1643.25,615.3 L1643.50,615.9 L1643.75,615.9 L1644.00,627.0 L1644.25,626.8 L1644.50,626.7 L1644.75,615.5 L1645.00,615.9 L1645.25,615.7 L1645.50,615.6 L1645.75,615.5 L1646.00,615.9 L1646.25,615.9 L1646.50,615.8 L1646.75,615.8 L1647.00,615.0 L1647.25,615.0 L1647.50,614.9 L1647.75,614.8 L1648.00,614.5 L1648.25,608.4 L1648.50,602.4 L1648.75,596.3 L1649.00,592.7 L1649.25,592.7 L1649.50,592.6 L1649.75,592.6 L1650.00,593.6 L1650.25,593.6 L1650.50,593.6 L1650.75,593.5 L1651.00,593.5 L1651.25,593.5 L1651.50,595.3 L1651.75,599.3 L1652.00,602.8 L1652.25,606.8 L1652.50,609.0 L1652.75,608.7 L1653.00,607.9 L1653.25,607.6 L1653.50,607.3 L1653.75,607.0 L1654.00,607.3 L1654.25,607.2 L1654.50,607.2 L1654.75,607.1 L1655.00,607.7 L1655.25,607.6 L1655.50,607.6 L1655.75,607.5 L1656.00,607.9 L1656.25,610.7 L1656.50,613.5 L1656.75,616.3 L1657.00,617.5 L1657.25,617.3 L1657.50,617.2 L1657.75,617.0 L1658.00,616.3 L1658.25,616.1 L1658.50,615.9 L1658.75,615.6 L1659.00,620.8 L1659.25,619.2 L1659.50,617.6 L1659.75,615.8 L1660.00,604.2 L1660.25,599.6 L1660.50,599.6 L1660.75,599.6 L1661.00,598.6 L1661.25,598.6 L1661.50,598.5 L1661.75,598.5 L1662.00,599.7 L1662.25,599.7 L1662.50,614.2 L1662.75,617.8 L1663.00,620.4 L1663.25,611.3 L1663.50,611.3 L1663.75,611.3 L1664.00,612.6 L1664.25,612.6 L1664.50,612.6 L1664.75,612.6 L1665.00,611.8 L1665.25,611.8 L1665.50,611.8 L1665.75,611.8 L1666.00,622.8 L1666.25,622.8 L1666.50,622.9 L1666.75,612.0 L1667.00,611.6 L1667.25,611.7 L1667.50,611.8 L1667.75,605.2 L1668.00,597.7 L1668.25,590.9 L1668.50,590.9 L1668.75,590.9 L1669.00,591.0 L1669.25,591.0 L1669.50,591.0 L1669.75,590.9 L1670.00,590.5 L1670.25,593.9 L1670.50,599.3 L1670.75,604.0 L1671.00,604.0 L1671.25,604.1 L1671.50,604.2 L1671.75,604.3 L1672.00,604.5 L1672.25,604.5 L1672.50,604.6 L1672.75,606.0 L1673.00,619.6 L1673.25,622.1 L1673.50,624.6 L1673.75,625.6 L1674.00,614.0 L1674.25,613.4 L1674.50,612.9 L1674.75,612.9 L1675.00,611.9 L1675.25,611.9 L1675.50,611.9 L1675.75,611.9 L1676.00,612.8 L1676.25,612.8 L1676.50,612.8 L1676.75,610.2 L1677.00,603.3 L1677.25,598.4 L1677.50,598.4 L1677.75,598.4 L1678.00,596.7 L1678.25,596.7 L1678.50,596.7 L1678.75,599.0 L1679.00,608.0 L1679.25,616.7 L1679.50,625.4 L1679.75,627.2 L1680.00,627.5 L1680.25,626.7 L1680.50,626.0 L1680.75,625.2 L1681.00,620.8 L1681.25,616.6 L1681.50,618.7 L1681.75,618.7 L1682.00,619.1 L1682.25,613.2 L1682.50,613.2 L1682.75,613.1 L1683.00,614.1 L1683.25,614.1 L1683.50,615.2 L1683.75,617.3 L1684.00,618.5 L1684.25,620.5 L1684.50,620.8 L1684.75,621.1 L1685.00,632.9 L1685.25,633.2 L1685.50,633.5 L1685.75,633.8 L1686.00,622.5 L1686.25,622.8 L1686.50,624.2 L1686.75,625.6 L1687.00,627.2 L1687.25,628.2 L1687.50,628.4 L1687.75,628.5 L1688.00,628.2 L1688.25,628.4 L1688.50,628.6 L1688.75,628.8 L1689.00,632.8 L1689.25,636.0 L1689.50,639.2 L1689.75,641.9 L1690.00,643.7 L1690.25,645.2 L1690.50,646.7 L1690.75,648.2 L1691.00,648.0 L1691.25,648.1 L1691.50,648.2 L1691.75,648.4 L1692.00,648.7 L1692.25,648.8 L1692.50,649.0 L1692.75,649.1 L1693.00,649.9 L1693.25,650.0 L1693.50,650.0 L1693.75,649.0 L1694.00,646.9 L1694.25,645.9 L1694.50,644.9 L1694.75,644.0 L1695.00,643.8 L1695.25,643.7 L1695.50,643.6 L1695.75,643.5 L1696.00,644.0 L1696.25,643.9 L1696.50,643.8 L1696.75,641.6 L1697.00,637.2 L1697.25,632.7 L1697.50,632.5 L1697.75,632.4 L1698.00,632.7 L1698.25,632.6 L1698.50,632.6 L1698.75,632.5 L1699.00,632.5 L1699.25,632.5 L1699.50,633.8 L1699.75,637.5 L1700.00,640.7 L1700.25,642.9 L1700.50,642.0 L1700.75,641.2 L1701.00,640.5 L1701.25,639.7 L1701.50,638.9 L1701.75,637.5 L1702.00,634.3 L1702.25,631.4 L1702.50,628.6 L1702.75,625.7 L1703.00,623.3 L1703.25,623.3 L1703.50,623.2 L1703.75,623.1 L1704.00,624.1 L1704.25,624.0 L1704.50,624.0 L1704.75,623.9 L1705.00,622.7 L1705.25,622.6 L1705.50,622.8 L1705.75,624.7 L1706.00,627.1 L1706.25,629.0 L1706.50,630.7 L1706.75,630.8 L1707.00,630.3 L1707.25,630.4 L1707.50,630.5 L1707.75,630.6 L1708.00,631.9 L1708.25,632.0 L1708.50,628.3 L1708.75,624.6 L1709.00,620.9 L1709.25,620.6 L1709.50,620.6 L1709.75,620.5 L1710.00,619.1 L1710.25,619.0 L1710.50,619.0 L1710.75,618.9 L1711.00,630.9 L1711.25,631.6 L1711.50,633.8 L1711.75,624.9 L1712.00,627.4 L1712.25,627.9 L1712.50,628.0 L1712.75,628.1 L1713.00,627.3 L1713.25,627.4 L1713.50,618.5 L1713.75,609.8 L1714.00,610.4 L1714.25,610.4 L1714.50,610.3 L1714.75,610.3 L1715.00,610.5 L1715.25,610.5 L1715.50,614.8 L1715.75,621.1 L1716.00,625.7 L1716.25,631.2 L1716.50,631.2 L1716.75,631.2 L1717.00,631.7 L1717.25,631.7 L1717.50,631.7 L1717.75,631.7 L1718.00,631.3 L1718.25,626.7 L1718.50,618.4 L1718.75,610.1 L1719.00,602.1 L1719.25,598.0 L1719.50,598.0 L1719.75,597.9 L1720.00,597.5 L1720.25,597.5 L1720.50,597.4 L1720.75,597.4 L1721.00,598.8 L1721.25,602.1 L1721.50,605.3 L1721.75,602.7 L1722.00,592.2 L1722.25,580.7 L1722.50,579.2 L1722.75,579.1 L1723.00,578.4 L1723.25,578.3 L1723.50,578.3 L1723.75,578.2 L1724.00,579.1 L1724.25,579.1 L1724.50,579.3 L1724.75,580.2 L1725.00,580.2 L1725.25,581.2 L1725.50,581.9 L1725.75,581.9 L1726.00,582.9 L1726.25,582.9 L1726.50,582.9 L1726.75,582.9 L1727.00,583.5 L1727.25,595.3 L1727.50,607.0 L1727.75,611.4 L1728.00,612.4 L1728.25,612.6 L1728.50,612.9 L1728.75,613.1 L1729.00,625.7 L1729.25,647.7 L1729.25,684.3 L1729.00,702.3 L1728.75,713.9 L1728.50,713.8 L1728.25,713.8 L1728.00,702.7 L1727.75,701.4 L1727.50,701.4 L1727.25,712.3 L1727.00,712.2 L1726.75,711.8 L1726.50,695.5 L1726.25,689.0 L1726.00,682.5 L1725.75,694.6 L1725.50,697.4 L1725.25,700.3 L1725.00,702.7 L1724.75,703.5 L1724.50,704.5 L1724.25,705.5 L1724.00,706.5 L1723.75,710.0 L1723.50,716.4 L1723.25,722.9 L1723.00,729.3 L1722.75,730.4 L1722.50,730.4 L1722.25,730.4 L1722.00,730.4 L1721.75,731.0 L1721.50,731.0 L1721.25,731.0 L1721.00,731.0 L1720.75,730.2 L1720.50,725.2 L1720.25,716.2 L1720.00,707.2 L1719.75,699.7 L1719.50,690.7 L1719.25,681.7 L1719.00,672.7 L1718.75,663.5 L1718.50,664.7 L1718.25,666.2 L1718.00,667.7 L1717.75,668.9 L1717.50,670.4 L1717.25,670.7 L1717.00,670.8 L1716.75,669.6 L1716.50,669.7 L1716.25,669.8 L1716.00,669.9 L1715.75,677.1 L1715.50,696.0 L1715.25,714.9 L1715.00,733.9 L1714.75,738.3 L1714.50,738.4 L1714.25,738.5 L1714.00,727.6 L1713.75,726.6 L1713.50,726.7 L1713.25,741.8 L1713.00,758.8 L1712.75,773.3 L1712.50,773.3 L1712.25,773.3 L1712.00,773.2 L1711.75,772.5 L1711.50,772.5 L1711.25,772.5 L1711.00,772.5 L1710.75,771.7 L1710.50,770.0 L1710.25,756.0 L1710.00,741.9 L1709.75,729.2 L1709.50,716.6 L1709.25,724.1 L1709.00,731.6 L1708.75,738.7 L1708.50,742.3 L1708.25,742.5 L1708.00,731.7 L1707.75,731.7 L1707.50,731.9 L1707.25,743.1 L1707.00,743.3 L1706.75,743.4 L1706.50,743.6 L1706.25,743.8 L1706.00,744.0 L1705.75,745.3 L1705.50,745.5 L1705.25,745.5 L1705.00,745.5 L1704.75,745.3 L1704.50,745.3 L1704.25,745.3 L1704.00,745.3 L1703.75,751.3 L1703.50,759.5 L1703.25,767.6 L1703.00,769.3 L1702.75,769.9 L1702.50,769.9 L1702.25,769.9 L1702.00,769.9 L1701.75,768.9 L1701.50,768.9 L1701.25,766.9 L1701.00,764.2 L1700.75,761.8 L1700.50,762.5 L1700.25,764.9 L1700.00,767.2 L1699.75,769.1 L1699.50,769.0 L1699.25,768.9 L1699.00,768.8 L1698.75,769.4 L1698.50,758.3 L1698.25,758.2 L1698.00,749.7 L1697.75,746.2 L1697.50,731.6 L1697.25,718.3 L1697.00,738.5 L1696.75,758.3 L1696.50,768.2 L1696.25,768.1 L1696.00,768.0 L1695.75,768.2 L1695.50,768.1 L1695.25,768.0 L1695.00,761.9 L1694.75,747.8 L1694.50,734.4 L1694.25,720.9 L1694.00,712.1 L1693.75,709.8 L1693.50,708.0 L1693.25,706.1 L1693.00,704.3 L1692.75,704.1 L1692.50,702.2 L1692.25,700.4 L1692.00,726.3 L1691.75,757.6 L1691.50,780.4 L1691.25,780.4 L1691.00,780.3 L1690.75,780.8 L1690.50,780.8 L1690.25,780.8 L1690.00,769.8 L1689.75,768.5 L1689.50,768.4 L1689.25,775.2 L1689.00,753.5 L1688.75,732.0 L1688.50,710.2 L1688.25,695.0 L1688.00,683.2 L1687.75,672.5 L1687.50,661.6 L1687.25,657.5 L1687.00,653.4 L1686.75,649.5 L1686.50,645.7 L1686.25,645.9 L1686.00,646.1 L1685.75,645.7 L1685.50,645.9 L1685.25,646.1 L1685.00,646.3 L1684.75,646.4 L1684.50,646.6 L1684.25,646.8 L1684.00,647.0 L1683.75,646.6 L1683.50,646.8 L1683.25,647.0 L1683.00,647.2 L1682.75,647.1 L1682.50,647.3 L1682.25,647.5 L1682.00,647.7 L1681.75,648.5 L1681.50,656.5 L1681.25,665.8 L1681.00,675.1 L1680.75,682.5 L1680.50,683.7 L1680.25,684.9 L1680.00,686.0 L1679.75,686.8 L1679.50,688.0 L1679.25,689.1 L1679.00,690.3 L1678.75,690.7 L1678.50,697.1 L1678.25,705.5 L1678.00,713.9 L1677.75,723.1 L1677.50,725.7 L1677.25,725.6 L1677.00,725.6 L1676.75,724.7 L1676.50,724.7 L1676.25,724.6 L1676.00,724.6 L1675.75,725.3 L1675.50,725.3 L1675.25,719.7 L1675.00,710.2 L1674.75,700.4 L1674.50,691.1 L1674.25,685.9 L1674.00,680.6 L1673.75,675.9 L1673.50,670.6 L1673.25,665.4 L1673.00,675.2 L1672.75,685.4 L1672.50,695.3 L1672.25,700.7 L1672.00,700.6 L1671.75,699.5 L1671.50,699.4 L1671.25,699.4 L1671.00,699.3 L1670.75,700.8 L1670.50,700.7 L1670.25,700.7 L1670.00,696.3 L1669.75,683.1 L1669.50,670.7 L1669.25,658.4 L1669.00,648.2 L1668.75,678.3 L1668.50,699.5 L1668.25,710.5 L1668.00,710.4 L1667.75,710.0 L1667.50,710.0 L1667.25,710.0 L1667.00,709.9 L1666.75,709.2 L1666.50,709.2 L1666.25,704.4 L1666.00,679.7 L1665.75,655.6 L1665.50,647.4 L1665.25,647.4 L1665.00,647.5 L1664.75,647.9 L1664.50,647.9 L1664.25,648.0 L1664.00,648.0 L1663.75,647.6 L1663.50,647.6 L1663.25,647.7 L1663.00,647.7 L1662.75,648.9 L1662.50,648.9 L1662.25,649.0 L1662.00,649.1 L1661.75,648.1 L1661.50,648.1 L1661.25,648.2 L1661.00,648.3 L1660.75,649.0 L1660.50,649.0 L1660.25,649.1 L1660.00,649.2 L1659.75,648.8 L1659.50,648.8 L1659.25,648.9 L1659.00,649.0 L1658.75,649.5 L1658.50,649.6 L1658.25,649.6 L1658.00,649.7 L1657.75,650.0 L1657.50,650.0 L1657.25,650.1 L1657.00,650.2 L1656.75,649.7 L1656.50,649.7 L1656.25,649.8 L1656.00,649.8 L1655.75,649.4 L1655.50,649.9 L1655.25,652.1 L1655.00,654.2 L1654.75,657.2 L1654.50,657.9 L1654.25,657.9 L1654.00,657.9 L1653.75,656.9 L1653.50,657.0 L1653.25,657.0 L1653.00,656.7 L1652.75,654.4 L1652.50,651.3 L1652.25,650.1 L1652.00,650.3 L1651.75,649.6 L1651.50,649.8 L1651.25,639.0 L1651.00,639.2 L1650.75,639.6 L1650.50,639.8 L1650.25,651.0 L1650.00,651.2 L1649.75,652.0 L1649.50,652.2 L1649.25,652.3 L1649.00,652.5 L1648.75,652.5 L1648.50,652.7 L1648.25,652.9 L1648.00,653.0 L1647.75,654.2 L1647.50,654.4 L1647.25,659.4 L1647.00,672.6 L1646.75,685.2 L1646.50,687.3 L1646.25,687.3 L1646.00,687.3 L1645.75,687.2 L1645.50,687.2 L1645.25,687.2 L1645.00,687.2 L1644.75,687.4 L1644.50,687.6 L1644.25,688.1 L1644.00,688.6 L1643.75,688.8 L1643.50,689.2 L1643.25,689.2 L1643.00,689.1 L1642.75,688.9 L1642.50,688.9 L1642.25,688.8 L1642.00,688.8 L1641.75,689.8 L1641.50,682.7 L1641.25,671.2 L1641.00,660.8 L1640.75,660.4 L1640.50,661.4 L1640.25,662.4 L1640.00,663.4 L1639.75,665.5 L1639.50,666.5 L1639.25,667.5 L1639.00,668.0 L1638.75,668.2 L1638.50,668.1 L1638.25,668.0 L1638.00,667.9 L1637.75,666.5 L1637.50,666.6 L1637.25,666.8 L1637.00,666.9 L1636.75,667.5 L1636.50,675.3 L1636.25,694.7 L1636.00,714.1 L1635.75,716.2 L1635.50,716.1 L1635.25,716.1 L1635.00,716.0 L1634.75,715.7 L1634.50,715.6 L1634.25,699.1 L1634.00,684.6 L1633.75,674.5 L1633.50,674.3 L1633.25,674.1 L1633.00,673.9 L1632.75,684.6 L1632.50,684.4 L1632.25,681.0 L1632.00,676.4 L1631.75,670.6 L1631.50,666.8 L1631.25,666.7 L1631.00,666.6 L1630.75,668.3 L1630.50,668.2 L1630.25,659.2 L1630.00,659.1 L1629.75,658.1 L1629.50,658.0 L1629.25,668.8 L1629.00,672.0 L1628.75,674.5 L1628.50,675.9 L1628.25,675.8 L1628.00,675.8 L1627.75,677.3 L1627.50,666.6 L1627.25,666.6 L1627.00,665.4 L1626.75,672.9 L1626.50,670.7 L1626.25,668.4 L1626.00,666.2 L1625.75,668.3 L1625.50,676.1 L1625.25,683.8 L1625.00,684.6 L1624.75,683.9 L1624.50,683.9 L1624.25,683.9 L1624.00,683.9 L1623.75,685.3 L1623.50,681.0 L1623.25,668.2 L1623.00,653.1 L1622.75,653.1 L1622.50,652.9 L1622.25,659.0 L1622.00,658.9 L1621.75,658.2 L1621.50,658.0 L1621.25,657.9 L1621.00,657.8 L1620.75,657.2 L1620.50,657.6 L1620.25,658.0 L1620.00,658.4 L1619.75,659.6 L1619.50,660.1 L1619.25,660.5 L1619.00,660.9 L1618.75,660.5 L1618.50,663.4 L1618.25,685.3 L1618.00,705.9 L1617.75,715.3 L1617.50,723.4 L1617.25,731.5 L1617.00,739.6 L1616.75,745.3 L1616.50,752.2 L1616.25,755.5 L1616.00,744.4 L1615.75,744.2 L1615.50,744.1 L1615.25,755.1 L1615.00,755.0 L1614.75,755.8 L1614.50,755.8 L1614.25,750.5 L1614.00,744.9 L1613.75,739.1 L1613.50,733.5 L1613.25,727.9 L1613.00,710.0 L1612.75,690.5 L1612.50,676.9 L1612.25,674.2 L1612.00,671.4 L1611.75,667.7 L1611.50,664.9 L1611.25,662.9 L1611.00,662.8 L1610.75,663.7 L1610.50,663.5 L1610.25,663.4 L1610.00,663.2 L1609.75,662.8 L1609.50,662.7 L1609.25,665.3 L1609.00,669.1 L1608.75,673.3 L1608.50,677.0 L1608.25,680.8 L1608.00,684.5 L1607.75,686.9 L1607.50,688.5 L1607.25,690.0 L1607.00,691.6 L1606.75,692.1 L1606.50,692.3 L1606.25,692.5 L1606.00,692.6 L1605.75,693.2 L1605.50,693.4 L1605.25,693.5 L1605.00,693.8 L1604.75,696.0 L1604.50,699.6 L1604.25,703.2 L1604.00,705.3 L1603.75,706.6 L1603.50,707.2 L1603.25,707.8 L1603.00,708.4 L1602.75,708.9 L1602.50,709.4 L1602.25,709.6 L1602.00,709.7 L1601.75,709.1 L1601.50,709.2 L1601.25,709.2 L1601.00,709.3 L1600.75,709.6 L1600.50,710.2 L1600.25,710.8 L1600.00,711.4 L1599.75,713.1 L1599.50,713.7 L1599.25,714.2 L1599.00,714.4 L1598.75,713.4 L1598.50,713.5 L1598.25,713.7 L1598.00,713.8 L1597.75,714.6 L1597.50,714.8 L1597.25,714.9 L1597.00,715.0 L1596.75,715.2 L1596.50,715.2 L1596.25,715.3 L1596.00,715.4 L1595.75,715.9 L1595.50,716.0 L1595.25,716.1 L1595.00,716.2 L1594.75,716.2 L1594.50,717.7 L1594.25,719.2 L1594.00,720.7 L1593.75,722.0 L1593.50,722.8 L1593.25,722.9 L1593.00,723.1 L1592.75,723.8 L1592.50,723.9 L1592.25,718.9 L1592.00,708.1 L1591.75,691.2 L1591.50,690.4 L1591.25,690.2 L1591.00,690.0 L1590.75,696.5 L1590.50,696.3 L1590.25,696.1 L1590.00,698.3 L1589.75,699.8 L1589.50,702.3 L1589.25,704.8 L1589.00,705.4 L1588.75,706.1 L1588.50,706.3 L1588.25,706.5 L1588.00,706.6 L1587.75,706.6 L1587.50,706.8 L1587.25,696.9 L1587.00,700.8 L1586.75,704.3 L1586.50,708.2 L1586.25,720.2 L1586.00,720.2 L1585.75,710.2 L1585.50,710.1 L1585.25,710.1 L1585.00,710.0 L1584.75,719.5 L1584.50,718.4 L1584.25,717.3 L1584.00,716.2 L1583.75,716.2 L1583.50,715.1 L1583.25,714.0 L1583.00,712.9 L1582.75,714.9 L1582.50,720.7 L1582.25,726.4 L1582.00,732.2 L1581.75,735.9 L1581.50,735.8 L1581.25,735.7 L1581.00,735.6 L1580.75,735.7 L1580.50,735.6 L1580.25,735.6 L1580.00,735.5 L1579.75,734.9 L1579.50,734.3 L1579.25,733.6 L1579.00,732.9 L1578.75,732.3 L1578.50,731.7 L1578.25,731.0 L1578.00,730.3 L1577.75,729.3 L1577.50,728.1 L1577.25,727.0 L1577.00,725.8 L1576.75,725.3 L1576.50,724.1 L1576.25,722.9 L1576.00,721.8 L1575.75,719.3 L1575.50,717.3 L1575.25,715.3 L1575.00,713.3 L1574.75,710.8 L1574.50,710.1 L1574.25,709.9 L1574.00,709.7 L1573.75,709.1 L1573.50,708.9 L1573.25,708.7 L1573.00,708.9 L1572.75,711.6 L1572.50,714.3 L1572.25,716.9 L1572.00,718.1 L1571.75,719.8 L1571.50,719.9 L1571.25,720.1 L1571.00,720.2 L1570.75,720.0 L1570.50,720.2 L1570.25,720.3 L1570.00,720.5 L1569.75,724.8 L1569.50,730.2 L1569.25,735.7 L1569.00,735.8 L1568.75,735.8 L1568.50,735.7 L1568.25,735.6 L1568.00,735.6 L1567.75,735.9 L1567.50,735.8 L1567.25,735.8 L1567.00,729.2 L1566.75,721.2 L1566.50,713.7 L1566.25,706.2 L1566.00,712.7 L1565.75,721.9 L1565.50,731.1 L1565.25,732.9 L1565.00,732.8 L1564.75,733.1 L1564.50,733.1 L1564.25,733.0 L1564.00,733.0 L1563.75,733.7 L1563.50,727.1 L1563.25,717.9 L1563.00,708.7 L1562.75,705.3 L1562.50,705.0 L1562.25,704.6 L1562.00,704.2 L1561.75,703.8 L1561.50,703.6 L1561.25,703.5 L1561.00,694.2 L1560.75,693.5 L1560.50,693.4 L1560.25,702.6 L1560.00,699.5 L1559.75,684.8 L1559.50,679.5 L1559.25,674.3 L1559.00,669.0 L1558.75,676.3 L1558.50,676.2 L1558.25,676.1 L1558.00,676.0 L1557.75,675.8 L1557.50,675.7 L1557.25,675.6 L1557.00,675.5 L1556.75,676.1 L1556.50,676.0 L1556.25,675.9 L1556.00,676.8 L1555.75,678.7 L1555.50,681.0 L1555.25,683.4 L1555.00,684.9 L1554.75,685.1 L1554.50,685.1 L1554.25,685.1 L1554.00,685.1 L1553.75,684.3 L1553.50,684.3 L1553.25,684.3 L1553.00,684.4 L1552.75,685.4 L1552.50,685.6 L1552.25,685.7 L1552.00,685.8 L1551.75,688.4 L1551.50,691.6 L1551.25,694.8 L1551.00,697.6 L1550.75,697.9 L1550.50,698.5 L1550.25,699.1 L1550.00,699.6 L1549.75,699.7 L1549.50,700.3 L1549.25,704.0 L1549.00,709.7 L1548.75,715.8 L1548.50,721.1 L1548.25,721.6 L1548.00,722.1 L1547.75,722.8 L1547.50,723.3 L1547.25,723.8 L1547.00,723.9 L1546.75,722.9 L1546.50,723.0 L1546.25,723.0 L1546.00,723.1 L1545.75,724.0 L1545.50,724.1 L1545.25,724.2 L1545.00,724.2 L1544.75,724.0 L1544.50,724.3 L1544.25,724.5 L1544.00,724.8 L1543.75,725.6 L1543.50,725.6 L1543.25,725.5 L1543.00,725.4 L1542.75,724.5 L1542.50,724.4 L1542.25,724.3 L1542.00,724.2 L1541.75,724.7 L1541.50,725.9 L1541.25,727.2 L1541.00,728.4 L1540.75,729.3 L1540.50,729.2 L1540.25,729.1 L1540.00,718.0 L1539.75,717.0 L1539.50,716.9 L1539.25,726.9 L1539.00,721.4 L1538.75,717.2 L1538.50,711.6 L1538.25,709.6 L1538.00,709.7 L1537.75,708.7 L1537.50,708.8 L1537.25,708.9 L1537.00,709.0 L1536.75,708.9 L1536.50,709.0 L1536.25,708.4 L1536.00,707.4 L1535.75,707.2 L1535.50,706.1 L1535.25,705.8 L1535.00,705.5 L1534.75,704.9 L1534.50,704.6 L1534.25,704.2 L1534.00,692.9 L1533.75,691.7 L1533.50,693.2 L1533.25,708.3 L1533.00,712.5 L1532.75,717.7 L1532.50,721.8 L1532.25,727.2 L1532.00,735.0 L1531.75,741.3 L1531.50,742.6 L1531.25,742.6 L1531.00,742.6 L1530.75,744.0 L1530.50,744.0 L1530.25,744.0 L1530.00,743.4 L1529.75,740.4 L1529.50,737.9 L1529.25,735.4 L1529.00,732.9 L1528.75,730.6 L1528.50,726.9 L1528.25,723.8 L1528.00,723.5 L1527.75,723.4 L1527.50,723.2 L1527.25,722.9 L1527.00,723.9 L1526.75,732.7 L1526.50,741.8 L1526.25,750.0 L1526.00,749.9 L1525.75,749.5 L1525.50,749.5 L1525.25,749.4 L1525.00,749.4 L1524.75,748.9 L1524.50,748.6 L1524.25,740.1 L1524.00,731.6 L1523.75,723.1 L1523.50,715.6 L1523.25,708.1 L1523.00,700.6 L1522.75,697.1 L1522.50,697.4 L1522.25,697.8 L1522.00,698.2 L1521.75,698.6 L1521.50,698.9 L1521.25,698.9 L1521.00,699.0 L1520.75,699.0 L1520.50,699.0 L1520.25,699.1 L1520.00,699.2 L1519.75,699.4 L1519.50,699.5 L1519.25,699.6 L1519.00,702.7 L1518.75,713.3 L1518.50,724.2 L1518.25,726.8 L1518.00,726.7 L1517.75,726.4 L1517.50,726.4 L1517.25,726.3 L1517.00,726.3 L1516.75,725.9 L1516.50,724.8 L1516.25,718.5 L1516.00,712.3 L1515.75,710.2 L1515.50,710.0 L1515.25,698.8 L1515.00,698.6 L1514.75,698.6 L1514.50,698.4 L1514.25,707.3 L1514.00,703.9 L1513.75,699.7 L1513.50,696.3 L1513.25,694.9 L1513.00,695.3 L1512.75,696.0 L1512.50,696.4 L1512.25,696.8 L1512.00,697.2 L1511.75,697.5 L1511.50,697.9 L1511.25,698.3 L1511.00,700.4 L1510.75,705.5 L1510.50,709.7 L1510.25,713.9 L1510.00,714.3 L1509.75,714.2 L1509.50,714.2 L1509.25,714.1 L1509.00,714.0 L1508.75,714.3 L1508.50,713.7 L1508.25,712.1 L1508.00,710.5 L1507.75,708.2 L1507.50,707.7 L1507.25,707.6 L1507.00,707.5 L1506.75,708.5 L1506.50,708.3 L1506.25,708.2 L1506.00,708.1 L1505.75,707.4 L1505.50,707.3 L1505.25,707.1 L1505.00,706.9 L1504.75,707.0 L1504.50,706.7 L1504.25,706.4 L1504.00,706.0 L1503.75,704.4 L1503.50,704.1 L1503.25,703.7 L1503.00,702.4 L1502.75,700.8 L1502.50,699.6 L1502.25,698.3 L1502.00,697.1 L1501.75,697.7 L1501.50,697.4 L1501.25,697.2 L1501.00,696.9 L1500.75,696.6 L1500.50,696.4 L1500.25,696.1 L1500.00,695.9 L1499.75,695.1 L1499.50,694.9 L1499.25,695.1 L1499.00,695.3 L1498.75,696.5 L1498.50,696.8 L1498.25,697.0 L1498.00,697.3 L1497.75,697.3 L1497.50,697.5 L1497.25,697.8 L1497.00,698.0 L1496.75,698.5 L1496.50,698.7 L1496.25,689.1 L1496.00,689.4 L1495.75,689.9 L1495.50,690.3 L1495.25,700.6 L1495.00,701.0 L1494.75,700.5 L1494.50,689.9 L1494.25,690.3 L1494.00,690.7 L1493.75,702.9 L1493.50,702.8 L1493.25,702.7 L1493.00,702.7 L1492.75,701.7 L1492.50,701.6 L1492.25,701.5 L1492.00,701.5 L1491.75,701.5 L1491.50,701.4 L1491.25,701.4 L1491.00,702.4 L1490.75,703.5 L1490.50,704.5 L1490.25,705.5 L1490.00,706.4 L1489.75,706.3 L1489.50,706.2 L1489.25,706.0 L1489.00,705.8 L1488.75,706.7 L1488.50,706.6 L1488.25,706.4 L1488.00,705.5 L1487.75,702.0 L1487.50,700.1 L1487.25,698.2 L1487.00,699.2 L1486.75,704.6 L1486.50,709.9 L1486.25,715.3 L1486.00,717.1 L1485.75,719.7 L1485.50,720.9 L1485.25,721.7 L1485.00,721.6 L1484.75,721.6 L1484.50,721.5 L1484.25,721.4 L1484.00,721.3 L1483.75,720.3 L1483.50,716.5 L1483.25,711.5 L1483.00,707.6 L1482.75,707.8 L1482.50,707.6 L1482.25,707.5 L1482.00,707.3 L1481.75,706.5 L1481.50,706.4 L1481.25,706.2 L1481.00,705.4 L1480.75,704.7 L1480.50,703.6 L1480.25,702.4 L1480.00,701.3Z" fill="#ff0000" clip-path="url(#c2)"/>
<line x1="1729.52" y1="822.00" x2="1729.52" y2="479.50" stroke="#000" stroke-width="2.9" stroke-dasharray="2.78 4.58" stroke-dashoffset="0"/>
<line x1="1800.00" y1="478.00" x2="1800.00" y2="823.00" stroke="#ff0000" stroke-width="2"/>
<path d="M1801,478 H1231 V822 H1801" fill="none" stroke="#000" stroke-width="2" stroke-linejoin="miter"/>
<line x1="1269.50" y1="822.00" x2="1269.50" y2="816.44" stroke="#000" stroke-width="1.0"/>
<line x1="1340.50" y1="822.00" x2="1340.50" y2="816.44" stroke="#000" stroke-width="1.0"/>
<line x1="1411.50" y1="822.00" x2="1411.50" y2="816.44" stroke="#000" stroke-width="1.0"/>
<line x1="1482.50" y1="822.00" x2="1482.50" y2="816.44" stroke="#000" stroke-width="1.0"/>
<line x1="1554.50" y1="822.00" x2="1554.50" y2="816.44" stroke="#000" stroke-width="1.0"/>
<line x1="1625.50" y1="822.00" x2="1625.50" y2="816.44" stroke="#000" stroke-width="1.0"/>
<line x1="1696.50" y1="822.00" x2="1696.50" y2="816.44" stroke="#000" stroke-width="1.0"/>
<line x1="1767.50" y1="822.00" x2="1767.50" y2="816.44" stroke="#000" stroke-width="1.0"/>
<line x1="1800.00" y1="796.50" x2="1797.10" y2="796.50" stroke="#ff0000" stroke-width="1.0"/>
<line x1="1800.00" y1="781.50" x2="1797.10" y2="781.50" stroke="#ff0000" stroke-width="1.0"/>
<line x1="1800.00" y1="770.50" x2="1797.10" y2="770.50" stroke="#ff0000" stroke-width="1.0"/>
<line x1="1800.00" y1="762.50" x2="1797.10" y2="762.50" stroke="#ff0000" stroke-width="1.0"/>
<line x1="1800.00" y1="755.50" x2="1797.10" y2="755.50" stroke="#ff0000" stroke-width="1.0"/>
<line x1="1800.00" y1="749.50" x2="1797.10" y2="749.50" stroke="#ff0000" stroke-width="1.0"/>
<line x1="1800.00" y1="744.50" x2="1797.10" y2="744.50" stroke="#ff0000" stroke-width="1.0"/>
<line x1="1800.00" y1="740.50" x2="1797.10" y2="740.50" stroke="#ff0000" stroke-width="1.0"/>
<line x1="1800.00" y1="736.50" x2="1794.44" y2="736.50" stroke="#ff0000" stroke-width="1.0"/>
<line x1="1800.00" y1="710.50" x2="1797.10" y2="710.50" stroke="#ff0000" stroke-width="1.0"/>
<line x1="1800.00" y1="695.50" x2="1797.10" y2="695.50" stroke="#ff0000" stroke-width="1.0"/>
<line x1="1800.00" y1="684.50" x2="1797.10" y2="684.50" stroke="#ff0000" stroke-width="1.0"/>
<line x1="1800.00" y1="676.50" x2="1797.10" y2="676.50" stroke="#ff0000" stroke-width="1.0"/>
<line x1="1800.00" y1="669.50" x2="1797.10" y2="669.50" stroke="#ff0000" stroke-width="1.0"/>
<line x1="1800.00" y1="663.50" x2="1797.10" y2="663.50" stroke="#ff0000" stroke-width="1.0"/>
<line x1="1800.00" y1="658.50" x2="1797.10" y2="658.50" stroke="#ff0000" stroke-width="1.0"/>
<line x1="1800.00" y1="654.50" x2="1797.10" y2="654.50" stroke="#ff0000" stroke-width="1.0"/>
<line x1="1800.00" y1="650.50" x2="1794.44" y2="650.50" stroke="#ff0000" stroke-width="1.0"/>
<line x1="1800.00" y1="624.50" x2="1797.10" y2="624.50" stroke="#ff0000" stroke-width="1.0"/>
<line x1="1800.00" y1="609.50" x2="1797.10" y2="609.50" stroke="#ff0000" stroke-width="1.0"/>
<line x1="1800.00" y1="598.50" x2="1797.10" y2="598.50" stroke="#ff0000" stroke-width="1.0"/>
<line x1="1800.00" y1="590.50" x2="1797.10" y2="590.50" stroke="#ff0000" stroke-width="1.0"/>
<line x1="1800.00" y1="583.50" x2="1797.10" y2="583.50" stroke="#ff0000" stroke-width="1.0"/>
<line x1="1800.00" y1="577.50" x2="1797.10" y2="577.50" stroke="#ff0000" stroke-width="1.0"/>
<line x1="1800.00" y1="572.50" x2="1797.10" y2="572.50" stroke="#ff0000" stroke-width="1.0"/>
<line x1="1800.00" y1="568.50" x2="1797.10" y2="568.50" stroke="#ff0000" stroke-width="1.0"/>
<line x1="1800.00" y1="564.50" x2="1794.44" y2="564.50" stroke="#ff0000" stroke-width="1.0"/>
<line x1="1800.00" y1="538.50" x2="1797.10" y2="538.50" stroke="#ff0000" stroke-width="1.0"/>
<line x1="1800.00" y1="523.50" x2="1797.10" y2="523.50" stroke="#ff0000" stroke-width="1.0"/>
<line x1="1800.00" y1="512.50" x2="1797.10" y2="512.50" stroke="#ff0000" stroke-width="1.0"/>
<line x1="1800.00" y1="504.50" x2="1797.10" y2="504.50" stroke="#ff0000" stroke-width="1.0"/>
<line x1="1800.00" y1="497.50" x2="1797.10" y2="497.50" stroke="#ff0000" stroke-width="1.0"/>
<line x1="1800.00" y1="491.50" x2="1797.10" y2="491.50" stroke="#ff0000" stroke-width="1.0"/>
<line x1="1800.00" y1="486.50" x2="1797.10" y2="486.50" stroke="#ff0000" stroke-width="1.0"/>
<line x1="1800.00" y1="482.50" x2="1797.10" y2="482.50" stroke="#ff0000" stroke-width="1.0"/>
<line x1="1231.00" y1="931.00" x2="1800.00" y2="931.00" stroke="#000" stroke-width="2.08" stroke-dasharray="2.08 3.44"/>
<line x1="1729.52" y1="1017.00" x2="1729.52" y2="846.50" stroke="#000" stroke-width="2.9" stroke-dasharray="2.78 4.58" stroke-dashoffset="0"/>
<line x1="1800.00" y1="845.00" x2="1800.00" y2="1018.00" stroke="#000" stroke-width="2"/>
<path d="M1801,845 H1231 V1017 H1801" fill="none" stroke="#000" stroke-width="2" stroke-linejoin="miter"/>
<line x1="1269.50" y1="1017.00" x2="1269.50" y2="1011.44" stroke="#000" stroke-width="1.0"/>
<line x1="1340.50" y1="1017.00" x2="1340.50" y2="1011.44" stroke="#000" stroke-width="1.0"/>
<line x1="1411.50" y1="1017.00" x2="1411.50" y2="1011.44" stroke="#000" stroke-width="1.0"/>
<line x1="1482.50" y1="1017.00" x2="1482.50" y2="1011.44" stroke="#000" stroke-width="1.0"/>
<line x1="1554.50" y1="1017.00" x2="1554.50" y2="1011.44" stroke="#000" stroke-width="1.0"/>
<line x1="1625.50" y1="1017.00" x2="1625.50" y2="1011.44" stroke="#000" stroke-width="1.0"/>
<line x1="1696.50" y1="1017.00" x2="1696.50" y2="1011.44" stroke="#000" stroke-width="1.0"/>
<line x1="1767.50" y1="1017.00" x2="1767.50" y2="1011.44" stroke="#000" stroke-width="1.0"/>
<line x1="1231.00" y1="1004.50" x2="1233.90" y2="1004.50" stroke="#000" stroke-width="1.0"/>
<line x1="1800.00" y1="1004.50" x2="1797.10" y2="1004.50" stroke="#000" stroke-width="1.0"/>
<line x1="1231.00" y1="997.50" x2="1233.90" y2="997.50" stroke="#000" stroke-width="1.0"/>
<line x1="1800.00" y1="997.50" x2="1797.10" y2="997.50" stroke="#000" stroke-width="1.0"/>
<line x1="1231.00" y1="991.50" x2="1233.90" y2="991.50" stroke="#000" stroke-width="1.0"/>
<line x1="1800.00" y1="991.50" x2="1797.10" y2="991.50" stroke="#000" stroke-width="1.0"/>
<line x1="1231.00" y1="987.50" x2="1233.90" y2="987.50" stroke="#000" stroke-width="1.0"/>
<line x1="1800.00" y1="987.50" x2="1797.10" y2="987.50" stroke="#000" stroke-width="1.0"/>
<line x1="1231.00" y1="984.50" x2="1233.90" y2="984.50" stroke="#000" stroke-width="1.0"/>
<line x1="1800.00" y1="984.50" x2="1797.10" y2="984.50" stroke="#000" stroke-width="1.0"/>
<line x1="1231.00" y1="981.50" x2="1233.90" y2="981.50" stroke="#000" stroke-width="1.0"/>
<line x1="1800.00" y1="981.50" x2="1797.10" y2="981.50" stroke="#000" stroke-width="1.0"/>
<line x1="1231.00" y1="978.50" x2="1233.90" y2="978.50" stroke="#000" stroke-width="1.0"/>
<line x1="1800.00" y1="978.50" x2="1797.10" y2="978.50" stroke="#000" stroke-width="1.0"/>
<line x1="1231.00" y1="976.50" x2="1233.90" y2="976.50" stroke="#000" stroke-width="1.0"/>
<line x1="1800.00" y1="976.50" x2="1797.10" y2="976.50" stroke="#000" stroke-width="1.0"/>
<line x1="1231.00" y1="974.50" x2="1236.56" y2="974.50" stroke="#000" stroke-width="1.0"/>
<line x1="1800.00" y1="974.50" x2="1794.44" y2="974.50" stroke="#000" stroke-width="1.0"/>
<line x1="1231.00" y1="961.50" x2="1233.90" y2="961.50" stroke="#000" stroke-width="1.0"/>
<line x1="1800.00" y1="961.50" x2="1797.10" y2="961.50" stroke="#000" stroke-width="1.0"/>
<line x1="1231.00" y1="954.50" x2="1233.90" y2="954.50" stroke="#000" stroke-width="1.0"/>
<line x1="1800.00" y1="954.50" x2="1797.10" y2="954.50" stroke="#000" stroke-width="1.0"/>
<line x1="1231.00" y1="948.50" x2="1233.90" y2="948.50" stroke="#000" stroke-width="1.0"/>
<line x1="1800.00" y1="948.50" x2="1797.10" y2="948.50" stroke="#000" stroke-width="1.0"/>
<line x1="1231.00" y1="944.50" x2="1233.90" y2="944.50" stroke="#000" stroke-width="1.0"/>
<line x1="1800.00" y1="944.50" x2="1797.10" y2="944.50" stroke="#000" stroke-width="1.0"/>
<line x1="1231.00" y1="941.50" x2="1233.90" y2="941.50" stroke="#000" stroke-width="1.0"/>
<line x1="1800.00" y1="941.50" x2="1797.10" y2="941.50" stroke="#000" stroke-width="1.0"/>
<line x1="1231.00" y1="938.50" x2="1233.90" y2="938.50" stroke="#000" stroke-width="1.0"/>
<line x1="1800.00" y1="938.50" x2="1797.10" y2="938.50" stroke="#000" stroke-width="1.0"/>
<line x1="1231.00" y1="935.50" x2="1233.90" y2="935.50" stroke="#000" stroke-width="1.0"/>
<line x1="1800.00" y1="935.50" x2="1797.10" y2="935.50" stroke="#000" stroke-width="1.0"/>
<line x1="1231.00" y1="933.50" x2="1233.90" y2="933.50" stroke="#000" stroke-width="1.0"/>
<line x1="1800.00" y1="933.50" x2="1797.10" y2="933.50" stroke="#000" stroke-width="1.0"/>
<line x1="1231.00" y1="931.50" x2="1236.56" y2="931.50" stroke="#000" stroke-width="1.0"/>
<line x1="1800.00" y1="931.50" x2="1794.44" y2="931.50" stroke="#000" stroke-width="1.0"/>
<line x1="1231.00" y1="918.50" x2="1233.90" y2="918.50" stroke="#000" stroke-width="1.0"/>
<line x1="1800.00" y1="918.50" x2="1797.10" y2="918.50" stroke="#000" stroke-width="1.0"/>
<line x1="1231.00" y1="911.50" x2="1233.90" y2="911.50" stroke="#000" stroke-width="1.0"/>
<line x1="1800.00" y1="911.50" x2="1797.10" y2="911.50" stroke="#000" stroke-width="1.0"/>
<line x1="1231.00" y1="905.50" x2="1233.90" y2="905.50" stroke="#000" stroke-width="1.0"/>
<line x1="1800.00" y1="905.50" x2="1797.10" y2="905.50" stroke="#000" stroke-width="1.0"/>
<line x1="1231.00" y1="901.50" x2="1233.90" y2="901.50" stroke="#000" stroke-width="1.0"/>
<line x1="1800.00" y1="901.50" x2="1797.10" y2="901.50" stroke="#000" stroke-width="1.0"/>
<line x1="1231.00" y1="898.50" x2="1233.90" y2="898.50" stroke="#000" stroke-width="1.0"/>
<line x1="1800.00" y1="898.50" x2="1797.10" y2="898.50" stroke="#000" stroke-width="1.0"/>
<line x1="1231.00" y1="895.50" x2="1233.90" y2="895.50" stroke="#000" stroke-width="1.0"/>
<line x1="1800.00" y1="895.50" x2="1797.10" y2="895.50" stroke="#000" stroke-width="1.0"/>
<line x1="1231.00" y1="892.50" x2="1233.90" y2="892.50" stroke="#000" stroke-width="1.0"/>
<line x1="1800.00" y1="892.50" x2="1797.10" y2="892.50" stroke="#000" stroke-width="1.0"/>
<line x1="1231.00" y1="890.50" x2="1233.90" y2="890.50" stroke="#000" stroke-width="1.0"/>
<line x1="1800.00" y1="890.50" x2="1797.10" y2="890.50" stroke="#000" stroke-width="1.0"/>
<line x1="1231.00" y1="888.50" x2="1236.56" y2="888.50" stroke="#000" stroke-width="1.0"/>
<line x1="1800.00" y1="888.50" x2="1794.44" y2="888.50" stroke="#000" stroke-width="1.0"/>
<line x1="1231.00" y1="875.50" x2="1233.90" y2="875.50" stroke="#000" stroke-width="1.0"/>
<line x1="1800.00" y1="875.50" x2="1797.10" y2="875.50" stroke="#000" stroke-width="1.0"/>
<line x1="1231.00" y1="868.50" x2="1233.90" y2="868.50" stroke="#000" stroke-width="1.0"/>
<line x1="1800.00" y1="868.50" x2="1797.10" y2="868.50" stroke="#000" stroke-width="1.0"/>
<line x1="1231.00" y1="862.50" x2="1233.90" y2="862.50" stroke="#000" stroke-width="1.0"/>
<line x1="1800.00" y1="862.50" x2="1797.10" y2="862.50" stroke="#000" stroke-width="1.0"/>
<line x1="1231.00" y1="858.50" x2="1233.90" y2="858.50" stroke="#000" stroke-width="1.0"/>
<line x1="1800.00" y1="858.50" x2="1797.10" y2="858.50" stroke="#000" stroke-width="1.0"/>
<line x1="1231.00" y1="855.50" x2="1233.90" y2="855.50" stroke="#000" stroke-width="1.0"/>
<line x1="1800.00" y1="855.50" x2="1797.10" y2="855.50" stroke="#000" stroke-width="1.0"/>
<line x1="1231.00" y1="852.50" x2="1233.90" y2="852.50" stroke="#000" stroke-width="1.0"/>
<line x1="1800.00" y1="852.50" x2="1797.10" y2="852.50" stroke="#000" stroke-width="1.0"/>
<line x1="1231.00" y1="849.50" x2="1233.90" y2="849.50" stroke="#000" stroke-width="1.0"/>
<line x1="1800.00" y1="849.50" x2="1797.10" y2="849.50" stroke="#000" stroke-width="1.0"/>
<line x1="1231.00" y1="847.50" x2="1233.90" y2="847.50" stroke="#000" stroke-width="1.0"/>
<line x1="1800.00" y1="847.50" x2="1797.10" y2="847.50" stroke="#000" stroke-width="1.0"/>
<g style="will-change:transform">
<text transform="translate(564.47,41.00) scale(1.0637,1)" font-size="24.94" fill="#000" xml:space="preserve">BAS-RBM Relativistic Electron Forecast, issued at 23:04 UT, 12 July 2025</text>
<text transform="translate(244.52,93.00) scale(1.0765,1)" font-size="24.94" fill="#000" xml:space="preserve">2.0 MeV Electron Flux at 88</text>
<text transform="translate(601.49,93.00) scale(1.1066,1)" font-size="24.94" fill="#000" xml:space="preserve">pitch angle ( cm<tspan dy="-9.23" font-size="17.46">−2</tspan><tspan dy="9.23" font-size="21.20"> </tspan>s<tspan dy="-9.23" font-size="17.46">−1</tspan><tspan dy="9.23" font-size="21.20"> </tspan>sr<tspan dy="-9.23" font-size="17.46">−1</tspan><tspan dy="9.23" font-size="21.20"> </tspan>KeV<tspan dy="-9.23" font-size="17.46">−1</tspan><tspan dy="9.23"> )</tspan></text>
<text transform="translate(183.07,117.20) scale(1.0300,1)" font-size="20.54" fill="#000" xml:space="preserve">8</text>
<text transform="translate(183.07,174.70) scale(1.0300,1)" font-size="20.54" fill="#000" xml:space="preserve">7</text>
<text transform="translate(183.07,232.20) scale(1.0300,1)" font-size="20.54" fill="#000" xml:space="preserve">6</text>
<text transform="translate(183.07,289.70) scale(1.0300,1)" font-size="20.54" fill="#000" xml:space="preserve">5</text>
<text transform="translate(184.10,347.20) scale(0.9364,1)" font-size="20.54" fill="#000" xml:space="preserve">4</text>
<text transform="translate(183.07,404.70) scale(1.0300,1)" font-size="20.54" fill="#000" xml:space="preserve">3</text>
<text transform="translate(183.07,462.20) scale(1.0300,1)" font-size="20.54" fill="#000" xml:space="preserve">2</text>
<text transform="translate(173.00,297.86) rotate(-90) scale(1.0286,1)" font-size="24.94" fill="#000" xml:space="preserve">L*</text>
<text transform="translate(242.95,249.70) scale(1.0520,1)" font-size="29.35" fill="#000" xml:space="preserve">GOES-16 decommissioned on 07 Apr 2025.</text>
<text transform="translate(243.04,281.80) scale(1.0779,1)" font-size="29.35" fill="#000" xml:space="preserve">Real time data no longer available.</text>
<text transform="translate(242.95,617.70) scale(1.0520,1)" font-size="29.35" fill="#000" xml:space="preserve">GOES-16 decommissioned on 07 Apr 2025.</text>
<text transform="translate(243.04,649.80) scale(1.0779,1)" font-size="29.35" fill="#000" xml:space="preserve">Real time data no longer available.</text>
<text transform="translate(161.86,486.10) scale(1.0381,1)" font-size="20.54" fill="#000" xml:space="preserve">10</text>
<text transform="translate(186.00,479.00) scale(1.0000,1)" font-size="14.38" fill="#000" xml:space="preserve">7</text>
<text transform="translate(161.86,543.43) scale(1.0381,1)" font-size="20.54" fill="#000" xml:space="preserve">10</text>
<text transform="translate(186.00,536.33) scale(1.0000,1)" font-size="14.38" fill="#000" xml:space="preserve">6</text>
<text transform="translate(161.86,600.77) scale(1.0381,1)" font-size="20.54" fill="#000" xml:space="preserve">10</text>
<text transform="translate(186.00,593.67) scale(1.0000,1)" font-size="14.38" fill="#000" xml:space="preserve">5</text>
<text transform="translate(161.86,658.10) scale(1.0381,1)" font-size="20.54" fill="#000" xml:space="preserve">10</text>
<text transform="translate(187.00,651.00) scale(0.8750,1)" font-size="14.38" fill="#000" xml:space="preserve">4</text>
<text transform="translate(161.86,715.43) scale(1.0381,1)" font-size="20.54" fill="#000" xml:space="preserve">10</text>
<text transform="translate(186.00,708.33) scale(1.0000,1)" font-size="14.38" fill="#000" xml:space="preserve">3</text>
<text transform="translate(161.86,772.77) scale(1.0381,1)" font-size="20.54" fill="#000" xml:space="preserve">10</text>
<text transform="translate(186.00,765.67) scale(1.0000,1)" font-size="14.38" fill="#000" xml:space="preserve">2</text>
<text transform="translate(161.86,830.10) scale(1.0381,1)" font-size="20.54" fill="#000" xml:space="preserve">10</text>
<text transform="translate(186.00,823.00) scale(1.0000,1)" font-size="14.38" fill="#000" xml:space="preserve">1</text>
<text transform="translate(113.00,781.26) rotate(-90) scale(1.0607,1)" font-size="24.94" fill="#000" xml:space="preserve">2.0 MeV Electron Flux</text>
<text transform="translate(145.70,781.60) rotate(-90) scale(1.0958,1)" font-size="24.94" fill="#000" xml:space="preserve">( cm<tspan dy="-9.23" font-size="17.46">−2</tspan><tspan dy="9.23" font-size="21.20"> </tspan>s<tspan dy="-9.23" font-size="17.46">−1</tspan><tspan dy="9.23" font-size="21.20"> </tspan>sr<tspan dy="-9.23" font-size="17.46">−1</tspan><tspan dy="9.23" font-size="21.20"> </tspan>KeV<tspan dy="-9.23" font-size="17.46">−1</tspan><tspan dy="9.23"> )</tspan></text>
<text transform="translate(251.52,869.00) scale(1.0788,1)" font-size="14.67" fill="#000" xml:space="preserve">Kp&lt;3</text>
<text transform="translate(251.52,890.10) scale(1.0788,1)" font-size="14.67" fill="#000" xml:space="preserve">Kp&lt;5</text>
<text transform="translate(251.46,911.20) scale(1.1357,1)" font-size="14.67" fill="#000" xml:space="preserve">Kp&gt;=5</text>
<text transform="translate(1001.60,998.85) rotate(-90) scale(1.0230,1)" font-size="31.74" fill="#808080" opacity="0.43" xml:space="preserve">Forecast</text>
<text transform="translate(183.14,1024.60) scale(1.0600,1)" font-size="20.54" fill="#000" xml:space="preserve">0</text>
<text transform="translate(183.14,986.38) scale(1.0600,1)" font-size="20.54" fill="#000" xml:space="preserve">2</text>
<text transform="translate(184.20,948.16) scale(0.9636,1)" font-size="20.54" fill="#000" xml:space="preserve">4</text>
<text transform="translate(183.14,909.94) scale(1.0600,1)" font-size="20.54" fill="#000" xml:space="preserve">6</text>
<text transform="translate(183.14,871.72) scale(1.0600,1)" font-size="20.54" fill="#000" xml:space="preserve">8</text>
<text transform="translate(172.80,949.91) rotate(-90) scale(0.9571,1)" font-size="24.94" fill="#000" xml:space="preserve">Kp</text>
<text transform="translate(245.13,1036.90) scale(1.0667,1)" font-size="20.54" fill="#000" xml:space="preserve">06</text>
<text transform="translate(351.85,1036.90) scale(1.0667,1)" font-size="20.54" fill="#000" xml:space="preserve">07</text>
<text transform="translate(458.56,1036.90) scale(1.0667,1)" font-size="20.54" fill="#000" xml:space="preserve">08</text>
<text transform="translate(565.28,1036.90) scale(1.0667,1)" font-size="20.54" fill="#000" xml:space="preserve">09</text>
<text transform="translate(672.46,1036.90) scale(0.9952,1)" font-size="20.54" fill="#000" xml:space="preserve">10</text>
<text transform="translate(779.12,1036.90) scale(1.0450,1)" font-size="20.54" fill="#000" xml:space="preserve">11</text>
<text transform="translate(885.89,1036.90) scale(0.9952,1)" font-size="20.54" fill="#000" xml:space="preserve">12</text>
<text transform="translate(992.60,1036.90) scale(0.9952,1)" font-size="20.54" fill="#000" xml:space="preserve">13</text>
<text transform="translate(554.85,1065.90) scale(1.0748,1)" font-size="24.94" fill="#000" xml:space="preserve">March/April</text>
<text transform="translate(567.44,1094.00) scale(1.0591,1)" font-size="24.94" fill="#000" xml:space="preserve">2025 (UT)</text>
<text transform="translate(1201.23,117.20) scale(1.0714,1)" font-size="20.54" fill="#000" xml:space="preserve">20</text>
<text transform="translate(1201.23,160.32) scale(1.0714,1)" font-size="20.54" fill="#000" xml:space="preserve">15</text>
<text transform="translate(1201.23,203.45) scale(1.0714,1)" font-size="20.54" fill="#000" xml:space="preserve">10</text>
<text transform="translate(1213.47,246.57) scale(1.0300,1)" font-size="20.54" fill="#000" xml:space="preserve">5</text>
<text transform="translate(1213.47,289.70) scale(1.0300,1)" font-size="20.54" fill="#000" xml:space="preserve">0</text>
<text transform="translate(1199.92,332.82) scale(1.0818,1)" font-size="20.54" fill="#000" xml:space="preserve">−5</text>
<text transform="translate(1187.71,375.95) scale(1.0909,1)" font-size="20.54" fill="#000" xml:space="preserve">−10</text>
<text transform="translate(1187.71,419.07) scale(1.0909,1)" font-size="20.54" fill="#000" xml:space="preserve">−15</text>
<text transform="translate(1187.71,462.20) scale(1.0909,1)" font-size="20.54" fill="#000" xml:space="preserve">−20</text>
<text transform="translate(1804.97,462.20) scale(1.0300,1)" font-size="20.54" fill="#ff0000" xml:space="preserve">0</text>
<text transform="translate(1804.95,393.20) scale(1.0515,1)" font-size="20.54" fill="#ff0000" xml:space="preserve">200</text>
<text transform="translate(1806.00,324.20) scale(1.0206,1)" font-size="20.54" fill="#ff0000" xml:space="preserve">400</text>
<text transform="translate(1804.95,255.20) scale(1.0515,1)" font-size="20.54" fill="#ff0000" xml:space="preserve">600</text>
<text transform="translate(1804.95,186.20) scale(1.0515,1)" font-size="20.54" fill="#ff0000" xml:space="preserve">800</text>
<text transform="translate(1805.87,117.20) scale(1.0318,1)" font-size="20.54" fill="#ff0000" xml:space="preserve">1000</text>
<text transform="translate(1142.00,321.99) rotate(-90) scale(0.9934,1)" font-size="24.94" fill="#000" xml:space="preserve">IMF Bz</text>
<text transform="translate(1172.00,312.84) rotate(-90) scale(1.0351,1)" font-size="24.94" fill="#000" xml:space="preserve">( nT )</text>
<text transform="translate(1879.60,353.25) rotate(-90) scale(1.0477,1)" font-size="24.94" fill="#ff0000" xml:space="preserve">SW Velocity</text>
<text transform="translate(1912.90,337.88) rotate(-90) scale(1.0792,1)" font-size="24.94" fill="#ff0000" xml:space="preserve">( km s<tspan dy="-9.23" font-size="17.46">−1</tspan><tspan dy="9.23"> )</tspan></text>
<text transform="translate(1213.27,520.30) scale(1.0300,1)" font-size="20.54" fill="#000" xml:space="preserve">0</text>
<text transform="translate(1175.33,589.10) scale(1.0711,1)" font-size="20.54" fill="#000" xml:space="preserve">−100</text>
<text transform="translate(1175.33,657.90) scale(1.0711,1)" font-size="20.54" fill="#000" xml:space="preserve">−200</text>
<text transform="translate(1175.33,726.70) scale(1.0711,1)" font-size="20.54" fill="#000" xml:space="preserve">−300</text>
<text transform="translate(1175.33,795.50) scale(1.0711,1)" font-size="20.54" fill="#000" xml:space="preserve">−400</text>
<text transform="translate(1806.65,486.10) scale(1.0476,1)" font-size="20.54" fill="#ff0000" xml:space="preserve">10</text>
<text transform="translate(1830.91,479.00) scale(1.0857,1)" font-size="14.38" fill="#ff0000" xml:space="preserve">2</text>
<text transform="translate(1806.65,572.10) scale(1.0476,1)" font-size="20.54" fill="#ff0000" xml:space="preserve">10</text>
<text transform="translate(1830.91,565.00) scale(1.0857,1)" font-size="14.38" fill="#ff0000" xml:space="preserve">1</text>
<text transform="translate(1806.65,658.10) scale(1.0476,1)" font-size="20.54" fill="#ff0000" xml:space="preserve">10</text>
<text transform="translate(1832.00,651.00) scale(0.9500,1)" font-size="14.38" fill="#ff0000" xml:space="preserve">0</text>
<text transform="translate(1806.65,744.10) scale(1.0476,1)" font-size="20.54" fill="#ff0000" xml:space="preserve">10</text>
<text transform="translate(1830.71,737.00) scale(1.2867,1)" font-size="14.38" fill="#ff0000" xml:space="preserve">−1</text>
<text transform="translate(1806.65,830.10) scale(1.0476,1)" font-size="20.54" fill="#ff0000" xml:space="preserve">10</text>
<text transform="translate(1830.71,823.00) scale(1.2867,1)" font-size="14.38" fill="#ff0000" xml:space="preserve">−2</text>
<text transform="translate(1132.00,672.81) rotate(-90) scale(1.0543,1)" font-size="24.94" fill="#000" xml:space="preserve">Dst</text>
<text transform="translate(1159.10,680.84) rotate(-90) scale(1.0368,1)" font-size="24.94" fill="#000" xml:space="preserve">( nT )</text>
<text transform="translate(1875.40,725.01) rotate(-90) scale(1.0090,1)" font-size="24.94" fill="#ff0000" xml:space="preserve">SW Pressure</text>
<text transform="translate(1906.10,690.25) rotate(-90) scale(1.0534,1)" font-size="24.94" fill="#ff0000" xml:space="preserve">( nPa )</text>
<text transform="translate(1193.06,853.10) scale(1.0381,1)" font-size="20.54" fill="#000" xml:space="preserve">10</text>
<text transform="translate(1217.20,846.00) scale(1.0000,1)" font-size="14.38" fill="#000" xml:space="preserve">3</text>
<text transform="translate(1193.06,896.10) scale(1.0381,1)" font-size="20.54" fill="#000" xml:space="preserve">10</text>
<text transform="translate(1217.20,889.00) scale(1.0000,1)" font-size="14.38" fill="#000" xml:space="preserve">2</text>
<text transform="translate(1193.06,939.10) scale(1.0381,1)" font-size="20.54" fill="#000" xml:space="preserve">10</text>
<text transform="translate(1217.20,932.00) scale(1.0000,1)" font-size="14.38" fill="#000" xml:space="preserve">1</text>
<text transform="translate(1193.06,982.10) scale(1.0381,1)" font-size="20.54" fill="#000" xml:space="preserve">10</text>
<text transform="translate(1218.20,975.00) scale(0.8750,1)" font-size="14.38" fill="#000" xml:space="preserve">0</text>
<text transform="translate(1180.76,1025.10) scale(1.0381,1)" font-size="20.54" fill="#000" xml:space="preserve">10</text>
<text transform="translate(1204.61,1018.00) scale(1.2867,1)" font-size="14.38" fill="#000" xml:space="preserve">−1</text>
<text transform="translate(1133.00,1057.47) rotate(-90) scale(1.0701,1)" font-size="24.94" fill="#000" xml:space="preserve">&gt;10 MeV Proton Flux</text>
<text transform="translate(1166.30,1018.20) rotate(-90) scale(1.1013,1)" font-size="24.94" fill="#000" xml:space="preserve">( cm<tspan dy="-9.23" font-size="17.46">2</tspan><tspan dy="9.23" font-size="21.20"> </tspan>s<tspan dy="-9.23" font-size="17.46">−1</tspan><tspan dy="9.23" font-size="21.20"> </tspan>sr<tspan dy="-9.23" font-size="17.46">−1</tspan><tspan dy="9.23"> )</tspan></text>
<text transform="translate(1257.14,1036.90) scale(1.0619,1)" font-size="20.54" fill="#000" xml:space="preserve">06</text>
<text transform="translate(1328.30,1036.90) scale(1.0619,1)" font-size="20.54" fill="#000" xml:space="preserve">07</text>
<text transform="translate(1399.46,1036.90) scale(1.0619,1)" font-size="20.54" fill="#000" xml:space="preserve">08</text>
<text transform="translate(1470.62,1036.90) scale(1.0619,1)" font-size="20.54" fill="#000" xml:space="preserve">09</text>
<text transform="translate(1542.14,1036.90) scale(0.9952,1)" font-size="20.54" fill="#000" xml:space="preserve">10</text>
<text transform="translate(1613.25,1036.90) scale(1.0450,1)" font-size="20.54" fill="#000" xml:space="preserve">11</text>
<text transform="translate(1684.46,1036.90) scale(0.9952,1)" font-size="20.54" fill="#000" xml:space="preserve">12</text>
<text transform="translate(1755.62,1036.90) scale(0.9952,1)" font-size="20.54" fill="#000" xml:space="preserve">13</text>
<text transform="translate(1443.54,1065.90) scale(1.0789,1)" font-size="24.94" fill="#000" xml:space="preserve">March/April</text>
<text transform="translate(1456.54,1094.00) scale(1.0591,1)" font-size="24.94" fill="#000" xml:space="preserve">2025 (UT)</text>
</g>
</svg></body></html>
